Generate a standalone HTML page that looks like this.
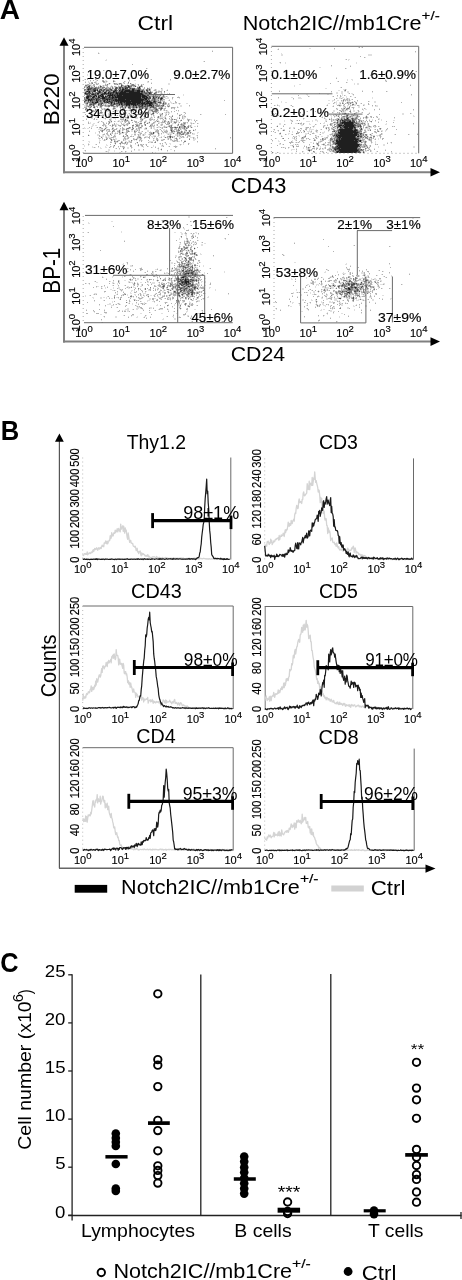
<!DOCTYPE html>
<html><head><meta charset="utf-8"><style>
html,body{margin:0;padding:0;background:#fff;overflow:hidden;}
svg{display:block;filter:grayscale(1);}
text{font-family:"Liberation Sans", sans-serif;}
.tk{stroke:#000;stroke-width:0.15px;}
</style></head><body>
<svg width="462" height="1280" viewBox="0 0 462 1280">
<rect width="462" height="1280" fill="#fff"/>
<line x1="84" y1="94.5" x2="147" y2="94.5" stroke="#6a6a6a" stroke-width="1"/>
<path fill="none" stroke="rgb(224,224,224)" stroke-width="1" d="M212 50.5h1m-115 2h1m0 1h1m6 6h1m-2 1h2m96 1h1m-57 7h1m-58 2h1m13 0h1m-18 4h1m-1 1h1m-1 3h1m20 0h1m19 0h1m47 0h1m-93 1h1m11 0h1m32 0h1m20 0h1m72 0h1m-128 1h1m8 0h2m7 0h1m19 0h2m34 0h1m-86 1h1m2 0h1m1 0h1m4 0h2m8 0h1m1 0h1m7 0h1m9 0h1m2 0h2m17 0h1m-60 1h2m6 0h1m8 0h2m6 0h1m10 0h1m22 0h2m2 0h1m-62 1h1m4 0h1m1 0h1m7 0h1m2 0h1m1 0h1m2 0h1m3 0h2m4 0h1m3 0h1m3 0h1m3 0h1m32 0h2m-85 1h2m2 0h3m6 0h1m7 0h1m1 0h2m8 0h1m1 0h1m1 0h1m4 0h1m2 0h1m3 0h2m1 0h1m4 0h1m25 0h2m-79 1h2m6 0h1m2 0h1m1 0h1m6 0h1m6 0h1m5 0h1m15 0h1m1 0h1m-53 1h1m1 0h2m2 0h1m2 0h1m2 0h1m1 0h1m1 0h1m3 0h1m5 0h1m15 0h1m3 0h3m-54 1h1m19 0h1m3 0h1m1 0h1m1 0h2m17 0h3m7 0h1m4 0h1m1 0h1m-66 1h1m19 0h1m6 0h1m2 0h1m13 0h1m14 0h1m6 0h2m10 0h1m-65 1h1m14 0h1m3 0h1m26 0h2m8 0h1m1 0h1m4 0h2m4 0h1m-23 1h1m7 0h1m2 0h1m1 0h2m1 0h2m3 0h1m-83 1h1m60 0h1m3 0h1m1 0h2m2 0h1m1 0h1m-4 1h1m2 0h1m1 0h2m-8 1h1m6 0h1m1 0h1m1 0h1m2 0h1m-20 1h1m3 0h1m2 0h1m8 0h1m2 0h1m15 0h1m-80 1h1m56 0h2m1 0h1m18 0h1m-99 1h1m74 0h2m3 0h1m1 0h1m10 0h1m-28 1h1m13 0h1m1 0h2m4 0h1m-23 1h1m11 0h1m1 0h4m10 0h1m-30 1h1m8 0h1m9 0h1m2 0h1m-14 1h1m3 0h2m3 0h1m-8 1h2m7 0h1m-5 1h1m3 0h2m-88 1h1m3 0h1m8 0h1m9 0h1m50 0h1m10 0h1m1 0h2m1 0h3m1 0h1m1 0h1m5 0h2m-103 1h1m10 0h2m4 0h1m1 0h1m1 0h4m48 0h1m1 0h1m5 0h2m1 0h1m9 0h1m-96 1h2m2 0h1m7 0h2m16 0h2m48 0h1m3 0h1m11 0h2m-98 1h2m9 0h1m3 0h1m2 0h1m1 0h1m5 0h1m7 0h2m3 0h1m40 0h1m12 0h1m2 0h2m7 0h1m-102 1h1m2 0h1m3 0h1m3 0h1m8 0h1m6 0h3m1 0h1m6 0h2m20 0h1m9 0h1m6 0h1m2 0h1m6 0h1m2 0h1m-92 1h1m2 0h1m3 0h2m6 0h2m1 0h2m5 0h1m22 0h1m1 0h2m9 0h1m2 0h2m4 0h1m5 0h1m8 0h2m-73 1h1m1 0h1m3 0h2m3 0h1m1 0h3m3 0h2m7 0h1m12 0h1m5 0h1m9 0h1m4 0h1m10 0h1m-90 1h3m4 0h1m1 0h1m1 0h1m1 0h1m5 0h1m1 0h1m10 0h2m8 0h2m6 0h2m3 0h1m12 0h1m7 0h1m1 0h1m1 0h1m1 0h1m-73 1h1m1 0h1m2 0h1m6 0h2m3 0h1m3 0h2m4 0h1m2 0h1m6 0h1m2 0h2m1 0h1m2 0h1m2 0h2m1 0h1m1 0h3m6 0h1m7 0h3m9 0h1m-94 1h1m4 0h1m8 0h1m24 0h1m1 0h1m3 0h1m2 0h1m3 0h1m1 0h1m7 0h1m1 0h2m1 0h1m1 0h1m2 0h1m6 0h2m1 0h1m1 0h1m1 0h1m11 0h1m1 0h1m-97 1h1m12 0h1m5 0h1m1 0h1m11 0h1m1 0h3m1 0h1m9 0h1m1 0h1m2 0h2m4 0h3m2 0h1m1 0h1m2 0h3m3 0h2m1 0h2m-71 1h1m2 0h2m4 0h2m1 0h3m5 0h2m6 0h1m1 0h1m1 0h1m4 0h1m4 0h1m5 0h1m2 0h1m8 0h1m5 0h1m11 0h1m1 0h2m3 0h1m16 0h1m-94 1h1m1 0h1m5 0h1m11 0h2m1 0h3m3 0h1m2 0h1m1 0h1m8 0h1m2 0h1m6 0h2m3 0h1m15 0h3m-90 1h2m14 0h1m10 0h1m1 0h2m6 0h1m2 0h2m4 0h1m1 0h1m4 0h1m2 0h1m1 0h2m2 0h1m1 0h1m1 0h2m1 0h2m4 0h2m7 0h1m3 0h1m-93 1h2m2 0h2m1 0h1m11 0h1m10 0h2m1 0h1m3 0h1m1 0h3m2 0h3m1 0h1m5 0h1m4 0h1m1 0h1m6 0h6m5 0h1m6 0h1m5 0h3m-100 1h1m4 0h2m10 0h2m5 0h2m1 0h3m4 0h3m2 0h2m8 0h3m4 0h2m1 0h1m3 0h1m1 0h2m4 0h3m4 0h1m1 0h1m5 0h1m4 0h1m5 0h2m2 0h1m-95 1h1m3 0h1m7 0h1m5 0h1m3 0h1m8 0h1m1 0h2m3 0h1m11 0h1m9 0h1m6 0h1m1 0h1m2 0h2m2 0h2m2 0h1m7 0h1m1 0h1m6 0h2m2 0h1m-86 1h1m1 0h1m6 0h2m1 0h3m4 0h1m5 0h1m5 0h1m4 0h2m2 0h1m1 0h1m1 0h2m2 0h2m3 0h2m6 0h1m1 0h1m4 0h2m8 0h1m1 0h1m1 0h1m5 0h1m-110 1h1m9 0h2m2 0h1m7 0h1m4 0h1m1 0h1m1 0h3m5 0h1m1 0h1m9 0h1m4 0h1m1 0h1m2 0h1m4 0h1m1 0h1m2 0h1m3 0h1m2 0h2m1 0h2m1 0h2m1 0h1m1 0h2m1 0h1m-91 1h1m6 0h1m4 0h1m3 0h1m1 0h1m1 0h2m8 0h2m2 0h1m12 0h1m2 0h2m5 0h2m6 0h1m2 0h3m4 0h1m4 0h1m2 0h1m4 0h1m7 0h1m3 0h2m3 0h1m-107 1h2m2 0h2m9 0h1m11 0h1m6 0h2m1 0h1m9 0h2m8 0h1m1 0h2m1 0h1m2 0h1m4 0h1m1 0h2m9 0h3m3 0h1m3 0h1m4 0h1m2 0h1m1 0h1m1 0h1m3 0h1m-107 1h2m11 0h1m7 0h1m1 0h4m2 0h1m2 0h2m2 0h1m4 0h1m4 0h1m1 0h2m8 0h1m3 0h1m1 0h1m3 0h1m8 0h1m1 0h2m4 0h1m7 0h1m5 0h1m-100 1h2m1 0h2m7 0h1m1 0h1m2 0h1m4 0h1m1 0h1m4 0h1m3 0h2m17 0h1m8 0h1m2 0h1m3 0h1m1 0h1m1 0h1m3 0h1m3 0h1m7 0h1m8 0h1m1 0h1m5 0h1m-107 1h2m10 0h1m2 0h1m4 0h1m4 0h1m2 0h1m4 0h1m8 0h1m5 0h1m12 0h1m1 0h1m3 0h2m3 0h1m1 0h3m6 0h2m1 0h1m11 0h1m1 0h1m2 0h2m-112 1h1m6 0h1m4 0h1m4 0h1m3 0h1m1 0h1m4 0h2m14 0h1m4 0h1m1 0h1m9 0h2m3 0h1m2 0h2m1 0h1m1 0h2m1 0h1m1 0h1m3 0h1m1 0h1m8 0h1m11 0h1m1 0h1m-109 1h2m1 0h2m10 0h2m3 0h1m1 0h1m10 0h1m6 0h1m5 0h1m6 0h1m2 0h2m2 0h1m5 0h1m2 0h2m6 0h1m12 0h1m6 0h1m3 0h1m-88 1h6m1 0h2m4 0h1m1 0h1m5 0h2m4 0h1m1 0h2m4 0h1m1 0h1m1 0h2m5 0h3m7 0h3m2 0h1m3 0h2m1 0h1m10 0h1m1 0h1m1 0h1m1 0h1m2 0h1m6 0h1m-105 1h1m14 0h1m2 0h2m3 0h1m4 0h2m1 0h1m2 0h1m7 0h2m2 0h2m1 0h1m8 0h2m6 0h1m7 0h3m1 0h1m6 0h1m6 0h1m2 0h1m3 0h1m5 0h2m-98 1h1m7 0h2m2 0h1m9 0h1m1 0h1m8 0h2m5 0h2m1 0h1m5 0h2m1 0h1m10 0h1m13 0h1m3 0h2m4 0h2m1 0h1m1 0h1m-96 1h1m6 0h1m8 0h1m3 0h1m1 0h2m1 0h2m2 0h2m14 0h2m4 0h1m5 0h1m2 0h2m5 0h1m1 0h1m2 0h1m1 0h2m2 0h2m8 0h1m2 0h1m2 0h1m1 0h1m5 0h2m-104 1h1m3 0h1m4 0h1m6 0h1m2 0h1m1 0h1m4 0h3m1 0h1m8 0h2m3 0h1m4 0h2m3 0h1m4 0h1m2 0h1m1 0h1m3 0h1m2 0h7m1 0h1m1 0h1m4 0h1m3 0h1m3 0h1m3 0h2m2 0h1m-110 1h1m8 0h2m3 0h1m3 0h1m1 0h1m2 0h1m2 0h2m4 0h1m10 0h2m4 0h1m1 0h1m2 0h1m1 0h2m2 0h1m4 0h1m5 0h1m1 0h1m5 0h1m1 0h1m1 0h1m3 0h2m1 0h1m5 0h1m3 0h1m3 0h3m-106 1h1m7 0h2m3 0h2m1 0h1m1 0h1m1 0h1m5 0h1m15 0h1m2 0h2m3 0h2m1 0h1m1 0h1m4 0h1m3 0h3m3 0h1m4 0h1m4 0h1m5 0h2m1 0h1m1 0h2m5 0h1m2 0h1m5 0h1m-97 1h4m1 0h2m1 0h2m12 0h1m1 0h1m1 0h1m1 0h1m3 0h1m4 0h1m2 0h1m4 0h3m3 0h3m3 0h2m2 0h1m1 0h2m8 0h1m4 0h2m1 0h1m6 0h1m1 0h1m6 0h1m-100 1h1m3 0h1m2 0h1m1 0h4m3 0h2m9 0h1m1 0h1m1 0h1m11 0h1m4 0h2m4 0h1m1 0h1m1 0h1m2 0h2m3 0h1m1 0h1m1 0h1m2 0h1m1 0h2m1 0h1m2 0h2m1 0h1m1 0h1m1 0h1m3 0h3m1 0h1m-97 1h1m1 0h1m10 0h1m1 0h1m1 0h2m6 0h1m2 0h1m7 0h1m1 0h1m1 0h2m4 0h1m9 0h1m12 0h1m1 0h1m4 0h1m2 0h1m2 0h1m13 0h2m1 0h1m32 0h1m-132 1h1m2 0h1m2 0h1m1 0h1m4 0h1m2 0h2m7 0h1m1 0h2m9 0h1m1 0h1m1 0h1m11 0h1m4 0h1m2 0h2m4 0h1m6 0h1m18 0h3m-97 1h2m2 0h1m1 0h1m6 0h1m2 0h1m1 0h1m6 0h2m2 0h2m2 0h1m1 0h1m1 0h1m3 0h1m1 0h1m11 0h1m1 0h1m1 0h1m4 0h1m6 0h2m1 0h1m10 0h2m7 0h2m-107 1h2m9 0h1m10 0h2m6 0h1m3 0h1m2 0h2m1 0h1m1 0h1m8 0h1m9 0h4m4 0h1m14 0h1m2 0h2m1 0h2m1 0h1m-93 1h1m24 0h1m1 0h2m2 0h1m3 0h1m1 0h1m1 0h2m6 0h1m12 0h2m13 0h1m19 0h1m12 0h1m-110 1h1m10 0h1m14 0h1m6 0h1m4 0h1m10 0h1m21 0h1m5 0h2m2 0h2m12 0h1m5 0h1m-101 1h1m5 0h1m10 0h1m8 0h1m8 0h1m2 0h1m2 0h1m4 0h1m6 0h1m2 0h1m14 0h1m1 0h1m7 0h1m8 0h1m1 0h1m1 0h1m-100 1h1m3 0h1m17 0h2m5 0h1m6 0h1m16 0h1m2 0h1m12 0h1m7 0h1m1 0h1m11 0h1m4 0h1m-97 1h1m7 0h1m12 0h1m5 0h1m2 0h1m6 0h1m2 0h1m13 0h1m2 0h1m1 0h1m4 0h1m4 0h1m1 0h1m5 0h2m5 0h1m4 0h1m3 0h1m-86 1h2m1 0h1m2 0h1m1 0h1m4 0h2m3 0h1m7 0h1m3 0h1m4 0h2m3 0h1m10 0h1m8 0h1m5 0h1m17 0h1m-77 1h2m13 0h1m8 0h1m2 0h2m2 0h1m25 0h1m3 0h1m-54 1h2m9 0h1m3 0h1m14 0h2m18 0h1m1 0h1m9 0h2m43 0h1m-132 1h1m23 0h2m4 0h1m16 0h1m2 0h1m3 0h2m3 0h1m14 0h1m2 0h1m-77 1h1m19 0h1m1 0h2m5 0h1m7 0h1m3 0h1m40 0h1m6 0h1m-67 1h1m10 0h2m4 0h1m29 0h1"/>
<path fill="none" stroke="rgb(178,178,178)" stroke-width="1" d="M212 51.5h1m-115 2h1m105 8h1m-73 3h1m13 4h1m-56 2h1m11 0h1m-2 7h1m73 0h1m-88 1h1m19 0h1m-25 1h1m1 0h1m7 0h1m32 0h1m22 0h1m18 0h1m51 0h1m-133 1h1m2 0h1m3 0h1m4 0h2m9 0h1m15 0h1m-28 1h1m1 0h1m1 0h1m7 0h1m9 0h1m23 0h1m-64 1h1m5 0h2m1 0h2m7 0h2m18 0h1m-35 1h1m1 0h1m4 0h1m1 0h1m16 0h2m4 0h1m2 0h1m3 0h1m22 0h1m-65 1h2m4 0h2m1 0h2m7 0h1m8 0h3m2 0h1m11 0h1m6 0h1m2 0h1m1 0h1m-57 1h2m1 0h1m2 0h2m5 0h1m2 0h1m1 0h3m15 0h1m1 0h2m2 0h2m4 0h1m2 0h1m-55 1h4m3 0h1m6 0h1m4 0h1m3 0h1m3 0h2m1 0h2m2 0h3m1 0h2m3 0h1m5 0h2m7 0h1m-57 1h1m3 0h1m2 0h2m2 0h1m1 0h1m1 0h1m4 0h3m1 0h1m7 0h1m12 0h1m8 0h1m3 0h1m6 0h1m-66 1h1m12 0h3m1 0h1m3 0h2m4 0h1m4 0h1m2 0h1m13 0h2m7 0h1m3 0h2m11 0h1m-76 1h1m15 0h1m9 0h1m28 0h2m5 0h1m1 0h1m4 0h1m-71 1h2m11 0h1m6 0h1m12 0h1m25 0h1m3 0h1m1 0h1m3 0h2m11 0h1m-83 1h1m15 0h1m2 0h1m2 0h1m3 0h2m4 0h1m28 0h1m1 0h1m7 0h1m1 0h4m-78 1h1m2 0h1m3 0h1m1 0h2m8 0h1m3 0h1m44 0h1m5 0h1m2 0h1m2 0h1m-9 1h1m4 0h1m7 0h1m-86 1h1m5 0h1m8 0h1m49 0h1m3 0h1m3 0h2m1 0h1m1 0h2m-80 1h1m1 0h1m10 0h1m8 0h1m42 0h4m1 0h1m1 0h4m-63 1h1m6 0h1m46 0h1m6 0h1m3 0h1m1 0h1m1 0h1m-82 1h1m5 0h1m60 0h1m4 0h1m2 0h1m2 0h2m7 0h1m4 0h3m-95 1h1m70 0h2m1 0h1m12 0h1m-72 1h1m49 0h1m4 0h3m3 0h3m-81 1h1m65 0h1m5 0h2m3 0h2m6 0h1m54 0h1m-139 1h2m1 0h1m12 0h1m49 0h1m4 0h3m3 0h2m10 0h1m-91 1h2m12 0h1m3 0h1m11 0h1m40 0h2m3 0h1m2 0h2m9 0h2m-92 1h1m3 0h1m13 0h4m50 0h1m1 0h1m1 0h2m1 0h1m1 0h1m1 0h1m4 0h1m5 0h1m-94 1h2m7 0h1m7 0h1m1 0h1m48 0h2m3 0h1m2 0h1m1 0h2m2 0h1m-83 1h2m3 0h2m1 0h1m4 0h1m3 0h2m1 0h2m12 0h1m33 0h1m5 0h1m6 0h1m1 0h1m19 0h1m-104 1h2m1 0h2m2 0h1m2 0h2m7 0h3m3 0h2m2 0h2m3 0h1m3 0h1m2 0h1m3 0h1m5 0h1m16 0h2m3 0h3m1 0h1m1 0h1m1 0h1m1 0h1m-86 1h3m2 0h1m7 0h1m2 0h2m11 0h2m6 0h1m1 0h2m6 0h1m6 0h1m5 0h1m4 0h1m6 0h1m2 0h2m1 0h1m8 0h4m2 0h1m-93 1h1m3 0h1m11 0h1m2 0h1m3 0h1m6 0h1m4 0h1m1 0h1m1 0h2m2 0h1m3 0h1m1 0h1m1 0h1m6 0h2m4 0h2m2 0h1m4 0h1m5 0h2m5 0h1m2 0h1m-89 1h2m2 0h1m5 0h1m5 0h1m1 0h3m6 0h1m8 0h1m1 0h1m5 0h4m2 0h1m2 0h2m6 0h1m1 0h6m9 0h1m-72 1h1m1 0h1m4 0h2m3 0h1m2 0h1m7 0h1m5 0h1m2 0h2m2 0h2m2 0h2m4 0h1m8 0h3m3 0h1m3 0h1m1 0h1m3 0h1m1 0h1m9 0h1m1 0h1m-93 1h1m5 0h3m6 0h1m11 0h1m1 0h1m15 0h1m1 0h1m5 0h1m2 0h1m14 0h1m13 0h1m2 0h1m-91 1h1m4 0h1m12 0h1m20 0h1m1 0h1m14 0h1m1 0h1m1 0h2m9 0h2m1 0h1m7 0h1m1 0h1m15 0h1m-86 1h3m13 0h1m7 0h1m5 0h1m1 0h1m1 0h1m7 0h2m2 0h2m10 0h1m19 0h1m7 0h1m-101 1h1m38 0h1m5 0h1m6 0h2m1 0h1m4 0h2m1 0h1m3 0h2m6 0h3m3 0h1m1 0h1m12 0h1m18 0h1m24 0h1m-125 1h3m7 0h1m5 0h1m1 0h3m5 0h1m2 0h1m5 0h1m4 0h1m2 0h1m8 0h1m11 0h1m6 0h1m7 0h1m-73 1h1m12 0h1m6 0h1m1 0h2m2 0h1m5 0h1m4 0h1m14 0h1m8 0h1m12 0h1m1 0h2m-89 1h1m5 0h1m7 0h1m2 0h2m9 0h3m6 0h1m5 0h1m3 0h1m3 0h1m2 0h1m2 0h1m2 0h1m7 0h1m5 0h1m7 0h1m2 0h1m-89 1h1m10 0h1m17 0h1m3 0h2m11 0h2m2 0h1m5 0h1m9 0h3m6 0h1m1 0h1m10 0h1m-97 1h1m7 0h1m1 0h1m12 0h2m9 0h4m16 0h2m7 0h4m1 0h1m2 0h1m5 0h1m7 0h1m3 0h2m10 0h3m-80 1h1m13 0h1m1 0h1m5 0h1m8 0h2m7 0h1m5 0h1m7 0h2m5 0h1m4 0h1m3 0h1m13 0h1m1 0h1m-96 1h1m6 0h2m4 0h1m3 0h1m3 0h1m1 0h3m1 0h1m5 0h3m3 0h2m3 0h1m9 0h1m2 0h1m3 0h1m2 0h1m5 0h1m2 0h1m1 0h1m11 0h1m6 0h1m-108 1h1m9 0h1m4 0h1m21 0h1m2 0h2m2 0h1m2 0h2m1 0h1m6 0h1m7 0h2m6 0h4m2 0h3m1 0h1m4 0h1m2 0h1m3 0h3m1 0h1m-100 1h1m14 0h1m2 0h1m1 0h2m4 0h1m6 0h1m5 0h2m10 0h1m4 0h1m7 0h2m4 0h1m6 0h1m1 0h2m6 0h1m5 0h1m1 0h1m1 0h1m5 0h1m1 0h1m3 0h1m-95 1h2m3 0h1m3 0h1m1 0h1m7 0h2m2 0h2m7 0h3m1 0h1m4 0h1m6 0h2m4 0h1m3 0h2m3 0h3m11 0h1m1 0h3m-83 1h2m1 0h1m4 0h1m2 0h1m1 0h1m2 0h3m2 0h1m3 0h1m10 0h2m1 0h2m8 0h2m1 0h1m2 0h1m3 0h1m7 0h2m6 0h2m2 0h2m1 0h1m3 0h1m1 0h1m-86 1h1m6 0h1m2 0h1m4 0h1m11 0h1m2 0h4m2 0h2m6 0h3m1 0h1m10 0h1m3 0h1m1 0h1m9 0h4m3 0h1m2 0h1m6 0h1m-109 1h1m7 0h1m1 0h1m6 0h1m15 0h1m7 0h1m7 0h2m1 0h1m9 0h1m5 0h1m2 0h1m1 0h1m1 0h2m7 0h1m6 0h4m1 0h3m-97 1h1m9 0h2m10 0h1m2 0h1m3 0h1m1 0h2m2 0h1m2 0h1m2 0h1m3 0h1m1 0h2m5 0h1m5 0h1m10 0h1m7 0h1m1 0h1m2 0h2m1 0h3m1 0h2m3 0h1m-81 1h3m2 0h1m1 0h3m5 0h3m6 0h1m4 0h1m2 0h1m17 0h1m2 0h1m9 0h1m1 0h1m1 0h3m3 0h1m3 0h2m9 0h1m-96 1h2m1 0h1m2 0h1m2 0h1m4 0h1m7 0h1m3 0h3m5 0h1m2 0h1m1 0h1m16 0h3m2 0h1m4 0h1m3 0h1m1 0h2m2 0h2m7 0h1m4 0h1m-102 1h1m9 0h1m1 0h1m6 0h2m3 0h2m2 0h2m7 0h2m1 0h1m5 0h2m5 0h1m12 0h4m3 0h1m1 0h4m5 0h1m2 0h3m3 0h1m1 0h1m-86 1h1m7 0h1m4 0h1m10 0h1m2 0h2m6 0h2m2 0h2m5 0h1m3 0h3m2 0h1m2 0h2m4 0h1m1 0h2m4 0h2m7 0h1m1 0h1m2 0h1m-80 1h2m2 0h1m1 0h1m2 0h1m1 0h1m1 0h2m5 0h1m13 0h2m8 0h1m1 0h1m8 0h1m16 0h1m3 0h1m1 0h1m1 0h1m3 0h1m1 0h1m-90 1h2m2 0h1m11 0h1m5 0h2m7 0h2m2 0h1m1 0h1m2 0h1m5 0h4m5 0h1m9 0h1m1 0h1m6 0h1m1 0h2m4 0h3m-89 1h1m8 0h1m2 0h1m2 0h1m8 0h1m2 0h1m11 0h1m4 0h1m6 0h1m7 0h1m11 0h1m6 0h1m1 0h1m5 0h1m2 0h2m7 0h1m-99 1h1m13 0h3m9 0h1m1 0h1m2 0h2m1 0h1m4 0h2m9 0h1m4 0h2m11 0h2m2 0h2m1 0h1m2 0h1m2 0h1m1 0h2m3 0h1m1 0h1m-84 1h1m4 0h3m10 0h1m3 0h1m8 0h2m5 0h2m2 0h2m11 0h1m5 0h1m1 0h1m11 0h1m1 0h1m3 0h1m5 0h1m3 0h1m32 0h1m-132 1h1m2 0h1m3 0h2m1 0h2m13 0h2m1 0h2m4 0h1m3 0h1m2 0h2m7 0h1m3 0h1m2 0h2m10 0h1m1 0h1m4 0h1m3 0h1m9 0h1m3 0h1m-90 1h1m5 0h1m2 0h2m8 0h1m1 0h1m7 0h3m4 0h1m15 0h2m5 0h2m3 0h1m1 0h2m4 0h2m-74 1h1m9 0h1m3 0h2m3 0h1m15 0h1m1 0h1m6 0h1m4 0h1m7 0h2m9 0h1m1 0h4m3 0h1m-67 1h2m4 0h1m7 0h1m1 0h1m9 0h1m13 0h1m17 0h2m2 0h1m19 0h1m-99 1h1m10 0h2m3 0h1m6 0h1m4 0h1m2 0h2m16 0h1m2 0h2m1 0h1m10 0h1m17 0h1m-65 1h1m2 0h4m1 0h1m7 0h1m24 0h1m1 0h1m25 0h1m-101 1h1m7 0h1m13 0h1m9 0h1m5 0h1m11 0h1m1 0h2m1 0h1m2 0h1m19 0h1m13 0h1m7 0h1m-59 1h2m9 0h2m3 0h1m15 0h1m-65 1h1m11 0h1m2 0h1m4 0h1m1 0h1m1 0h2m6 0h2m10 0h1m4 0h1m15 0h1m5 0h1m4 0h3m-83 1h1m14 0h1m3 0h1m9 0h2m6 0h1m19 0h1m3 0h1m19 0h1m-60 1h1m2 0h1m38 0h1m56 0h1m-82 1h1m8 0h1m-59 1h1m81 0h1m6 0h1m-69 1h1m14 0h1m3 0h1m5 0h1m20 1h1"/>
<path fill="none" stroke="rgb(128,128,128)" stroke-width="1" d="M103 81.5h1m9 0h1m14 1h1m-37 1h1m16 0h1m4 0h1m4 0h2m9 0h1m-24 1h1m9 0h1m3 0h1m10 0h2m-49 1h2m2 0h1m32 0h1m4 0h1m3 0h4m6 0h1m-48 1h1m6 0h1m22 0h1m1 0h1m3 0h2m7 0h3m-58 1h1m3 0h1m2 0h2m2 0h2m1 0h1m1 0h1m1 0h3m7 0h1m2 0h1m1 0h1m3 0h1m1 0h2m5 0h1m6 0h2m-52 1h1m4 0h2m2 0h3m3 0h1m2 0h2m2 0h2m1 0h1m4 0h1m6 0h1m4 0h1m1 0h1m5 0h1m2 0h1m6 0h1m-64 1h2m5 0h2m3 0h1m2 0h1m3 0h1m1 0h5m4 0h1m3 0h2m1 0h1m8 0h2m3 0h3m2 0h1m2 0h1m2 0h2m-64 1h1m2 0h1m1 0h4m3 0h1m3 0h1m1 0h1m1 0h1m4 0h2m1 0h2m3 0h1m22 0h2m1 0h1m5 0h1m-60 1h3m4 0h1m4 0h1m2 0h1m2 0h1m1 0h1m7 0h1m24 0h1m6 0h1m13 0h1m-79 1h1m3 0h1m4 0h3m3 0h2m3 0h1m33 0h1m2 0h1m1 0h3m3 0h1m3 0h2m-73 1h1m6 0h1m2 0h1m1 0h1m2 0h3m12 0h1m28 0h2m2 0h2m2 0h1m3 0h1m-71 1h1m2 0h1m7 0h1m3 0h1m4 0h1m1 0h1m36 0h4m3 0h1m2 0h1m1 0h1m4 0h1m-71 1h3m11 0h1m40 0h1m6 0h1m1 0h1m4 0h1m2 0h1m-72 1h1m2 0h1m12 0h1m2 0h1m35 0h2m1 0h1m1 0h1m1 0h4m1 0h1m3 0h1m-80 1h1m4 0h2m4 0h3m2 0h2m5 0h1m33 0h1m6 0h1m5 0h2m3 0h1m2 0h1m-79 1h1m4 0h2m3 0h1m4 0h1m17 0h1m34 0h1m2 0h1m-72 1h4m7 0h1m4 0h1m46 0h1m1 0h1m2 0h2m1 0h1m-69 1h1m5 0h3m3 0h1m1 0h2m3 0h1m1 0h1m1 0h1m37 0h1m2 0h3m1 0h1m2 0h1m1 0h1m-76 1h1m5 0h1m1 0h3m2 0h2m1 0h1m3 0h1m7 0h1m29 0h2m6 0h1m4 0h1m3 0h1m-77 1h1m2 0h5m2 0h1m3 0h1m1 0h3m6 0h1m3 0h1m2 0h2m45 0h1m-78 1h1m3 0h3m3 0h1m1 0h3m7 0h3m1 0h2m1 0h1m7 0h1m29 0h2m1 0h1m3 0h1m4 0h1m-77 1h1m2 0h1m1 0h1m4 0h2m9 0h1m1 0h1m2 0h4m1 0h1m2 0h1m24 0h1m4 0h1m2 0h2m5 0h1m-75 1h2m7 0h1m1 0h3m2 0h1m2 0h3m2 0h1m2 0h4m1 0h1m1 0h3m4 0h3m4 0h1m2 0h1m2 0h2m1 0h1m5 0h1m2 0h5m1 0h2m-75 1h1m2 0h1m2 0h1m5 0h2m6 0h2m3 0h2m2 0h1m3 0h1m3 0h2m1 0h1m1 0h1m1 0h1m1 0h2m2 0h1m4 0h1m2 0h1m1 0h3m5 0h3m3 0h1m5 0h1m-79 1h1m2 0h1m26 0h1m1 0h1m7 0h1m1 0h1m1 0h2m1 0h1m2 0h2m1 0h1m1 0h3m3 0h2m1 0h2m5 0h1m-76 1h1m20 0h1m5 0h2m8 0h1m5 0h2m2 0h1m5 0h3m3 0h1m1 0h1m6 0h3m2 0h2m1 0h1m-78 1h1m3 0h1m5 0h1m45 0h1m3 0h2m8 0h1m1 0h1m2 0h2m-65 1h1m17 0h1m15 0h2m8 0h1m9 0h2m2 0h3m-10 1h1m3 0h5m-57 1h2m29 0h1m6 0h1m2 0h1m6 0h1m4 0h1m-43 1h1m40 0h1m9 0h1m-12 1h1m-7 1h1m14 0h1m18 0h1m-36 1h1m13 0h1m13 0h1m-15 1h1m6 1h1m13 0h1m-38 1h1m29 0h1m1 0h1m-50 1h1m1 0h1m3 0h1m49 0h1m6 0h1m-78 1h1m45 0h1m6 0h1m3 0h1m-60 1h1m34 0h1m4 0h1m24 0h2m-47 1h1m10 0h2m5 0h1m21 0h1m14 0h1m-40 1h1m32 0h1m2 0h1m-70 1h1m11 0h1m7 0h2m2 0h2m7 0h1m4 0h1m20 0h1m11 0h1m-15 1h1m1 0h1m7 0h1m5 0h1m2 0h1m-89 1h1m28 0h1m2 0h1m7 0h1m25 0h1m3 0h3m1 0h1m1 0h2m6 0h1m3 0h1m2 0h1m-87 1h1m6 0h1m14 0h2m4 0h1m12 0h1m24 0h1m12 0h1m1 0h1m-83 1h1m21 0h1m5 0h1m38 0h1m6 0h1m-77 1h1m10 0h1m5 0h1m58 0h2m6 0h1m2 0h1m3 0h1m-92 1h1m9 0h1m6 0h1m8 0h1m5 0h1m36 0h2m1 0h1m6 0h1m7 0h1m-71 1h1m57 0h3m1 0h1m2 0h1m2 0h2m1 0h1m-40 1h1m6 0h1m14 0h1m3 0h1m1 0h2m2 0h1m3 0h2m-79 1h1m70 0h3m-96 1h1m38 0h1m-5 1h1m45 0h1m-69 1h1m37 0h2m24 0h1m6 0h1m3 1h1m-71 1h1m4 0h1m24 0h1m52 0h1m-79 1h1m19 0h1m25 0h1m-44 1h1m2 0h1m66 0h2m-65 1h1m3 0h1m11 0h1m17 0h1m-41 1h1m4 0h1m-7 2h1m23 0h1m-16 3h1m37 1h1"/>
<path fill="none" stroke="rgb(77,77,77)" stroke-width="1" d="M121 85.5h1m6 0h1m-41 1h2m10 0h1m20 0h1m3 0h1m3 0h1m5 0h1m-49 1h1m1 0h1m26 0h1m2 0h2m1 0h1m2 0h5m-42 1h4m2 0h2m19 0h2m2 0h2m1 0h2m2 0h2m2 0h1m1 0h3m3 0h2m-53 1h1m1 0h2m2 0h3m1 0h1m2 0h2m2 0h1m5 0h2m3 0h2m3 0h1m3 0h6m4 0h1m3 0h2m9 0h1m-62 1h1m4 0h1m5 0h1m1 0h1m1 0h1m2 0h3m2 0h1m2 0h1m1 0h1m3 0h2m1 0h2m5 0h2m2 0h3m5 0h1m3 0h2m-62 1h1m1 0h1m4 0h1m1 0h1m2 0h1m1 0h1m2 0h1m2 0h1m2 0h1m5 0h2m2 0h2m2 0h1m10 0h3m3 0h1m3 0h1m2 0h1m-63 1h1m2 0h1m3 0h1m5 0h1m1 0h1m8 0h4m1 0h2m1 0h3m6 0h3m12 0h2m1 0h1m3 0h3m-65 1h5m1 0h2m1 0h1m6 0h2m2 0h2m1 0h1m1 0h3m1 0h1m2 0h1m23 0h1m2 0h2m3 0h1m3 0h1m-69 1h2m1 0h1m1 0h1m2 0h2m1 0h2m4 0h2m1 0h1m1 0h2m1 0h1m1 0h4m1 0h1m24 0h1m6 0h1m-64 1h4m3 0h1m1 0h1m1 0h2m1 0h1m1 0h1m3 0h1m5 0h1m1 0h2m5 0h1m18 0h1m3 0h1m1 0h2m-63 1h1m2 0h3m7 0h2m5 0h2m2 0h1m2 0h2m1 0h1m24 0h1m7 0h1m3 0h1m-60 1h1m10 0h2m1 0h1m1 0h2m2 0h1m30 0h1m3 0h2m5 0h1m1 0h1m2 0h1m-76 1h1m1 0h1m2 0h3m1 0h4m1 0h2m3 0h7m1 0h4m24 0h3m3 0h4m2 0h2m3 0h1m1 0h1m1 0h1m-73 1h1m1 0h3m2 0h3m2 0h4m2 0h1m1 0h5m2 0h1m7 0h1m18 0h1m3 0h1m5 0h1m5 0h2m-77 1h2m2 0h1m1 0h2m4 0h2m1 0h1m2 0h1m1 0h1m3 0h1m1 0h2m1 0h1m15 0h1m12 0h4m2 0h1m4 0h1m-71 1h1m3 0h1m1 0h1m1 0h1m3 0h1m3 0h1m2 0h1m2 0h3m1 0h3m1 0h2m1 0h1m1 0h1m21 0h1m3 0h1m4 0h1m2 0h1m1 0h1m-63 1h1m10 0h3m1 0h1m1 0h1m1 0h1m1 0h1m4 0h1m2 0h2m1 0h1m5 0h1m9 0h1m1 0h1m1 0h2m2 0h1m2 0h4m2 0h3m-74 1h1m5 0h3m5 0h2m13 0h5m1 0h1m1 0h2m10 0h1m3 0h1m4 0h1m6 0h1m2 0h1m7 0h1m-74 1h2m1 0h1m4 0h1m2 0h1m9 0h1m1 0h2m7 0h1m1 0h2m4 0h1m5 0h1m1 0h4m1 0h2m1 0h2m3 0h2m-60 1h1m17 0h2m9 0h1m4 0h2m5 0h1m1 0h1m1 0h2m1 0h1m3 0h1m1 0h2m4 0h1m9 0h1m-42 1h1m6 0h1m3 0h1m2 0h1m2 0h4m1 0h2m1 0h1m3 0h3m-60 1h1m30 0h1m2 0h2m3 0h1m5 0h1m2 0h1m7 0h1m2 0h1m-12 1h1m3 0h1m14 0h1m-6 1h1m-4 4h1m-29 6h1m58 7h1m-10 1h1m3 0h1m-9 3h1m-50 2h1m30 0h1m-1 1h1m16 3h1m-1 1h1"/>
<path fill="none" stroke="rgb(31,31,31)" stroke-width="1" d="M128 86.5h1m10 1h1m-15 1h1m-38 1h1m33 0h2m8 0h2m-40 1h2m1 0h1m17 0h1m3 0h1m2 0h1m2 0h5m2 0h2m3 0h3m-53 1h1m1 0h1m4 0h1m4 0h1m13 0h2m6 0h2m1 0h10m3 0h3m1 0h2m-54 1h1m9 0h1m4 0h2m2 0h1m4 0h1m2 0h1m3 0h6m3 0h11m-55 1h1m11 0h2m5 0h2m2 0h1m1 0h1m5 0h2m1 0h23m7 0h1m-58 1h2m7 0h2m7 0h1m1 0h1m4 0h1m1 0h24m-48 1h1m4 0h1m1 0h1m5 0h5m1 0h1m2 0h5m1 0h18m1 0h3m-58 1h2m4 0h2m1 0h1m1 0h1m2 0h3m1 0h1m3 0h1m2 0h1m2 0h1m1 0h24m1 0h5m-61 1h3m3 0h2m4 0h2m2 0h3m4 0h1m2 0h2m1 0h26m1 0h3m1 0h2m5 0h1m-67 1h1m14 0h3m7 0h1m5 0h23m3 0h3m14 0h1m-74 1h2m1 0h1m4 0h1m9 0h2m1 0h1m5 0h2m1 0h7m1 0h18m1 0h2m-59 1h1m1 0h1m5 0h1m7 0h1m2 0h1m5 0h1m1 0h15m1 0h12m4 0h1m-51 1h1m6 0h1m4 0h1m6 0h1m1 0h1m1 0h21m1 0h1m3 0h4m4 0h1m-63 1h1m2 0h3m9 0h1m3 0h1m6 0h1m1 0h2m2 0h1m1 0h5m1 0h9m1 0h1m1 0h1m2 0h2m1 0h2m-41 1h1m2 0h1m6 0h1m4 0h10m1 0h3m1 0h4m1 0h6m-33 1h1m1 0h1m4 0h4m1 0h5m1 0h1m4 0h1m2 0h1m3 0h2m-25 1h1m2 0h1m3 0h1m1 0h1m6 0h1m6 0h3m-16 2h1"/>
<path fill="none" stroke="rgb(224,224,224)" stroke-width="1" d="M358 47.5h1m2 0h1m-84 1h1m30 0h2m-34 1h1m56 0h1m80 3h1m-135 1h1m-1 1h2m85 0h4m-91 1h2m85 0h4m-7 2h1m-21 2h1m2 0h2m-2 1h1m-70 2h1m5 0h1m70 0h1m-77 1h1m4 0h1m70 0h1m-7 2h1m-20 1h1m-13 1h2m25 1h1m-61 1h1m-1 1h1m-12 1h1m86 0h1m52 0h1m-54 1h2m21 1h1m-16 1h1m14 0h1m-50 3h1m65 0h1m-1 1h1m-56 1h1m3 0h2m32 0h1m-39 1h1m4 0h1m33 0h1m-50 1h1m47 0h1m-39 1h1m6 1h1m2 0h2m-60 1h2m53 0h1m2 0h2m51 0h1m-117 1h1m-1 1h1m45 1h1m-16 1h2m16 1h2m1 0h1m-68 1h1m58 0h2m22 0h1m-22 1h2m1 0h2m1 0h2m38 0h1m-57 1h1m4 0h2m3 0h2m4 0h2m23 0h1m-37 1h2m3 0h2m5 0h1m2 0h2m-47 1h2m19 0h2m13 0h1m9 0h1m-46 1h1m34 0h1m2 0h1m7 0h1m57 0h1m-103 1h1m22 0h1m4 0h1m3 0h1m4 0h1m4 0h1m-61 1h2m5 0h3m38 0h2m1 0h2m2 0h1m7 0h1m17 0h1m-95 1h1m19 0h4m35 0h1m1 0h2m1 0h1m1 0h1m1 0h1m1 0h2m22 0h1m-80 1h1m51 0h1m2 0h1m2 0h1m-24 1h2m2 0h3m2 0h2m3 0h1m1 0h1m1 0h1m1 0h1m1 0h1m-70 1h1m50 0h1m3 0h1m4 0h2m2 0h1m1 0h3m2 0h1m2 0h1m1 0h1m11 0h1m4 0h2m-95 1h1m3 0h2m48 0h2m2 0h2m2 0h1m2 0h1m6 0h1m20 0h2m-48 1h2m4 0h1m1 0h1m2 0h1m6 0h1m2 0h1m1 0h3m1 0h1m4 0h1m-84 1h1m49 0h1m8 0h1m1 0h3m2 0h1m5 0h2m3 0h3m6 0h2m4 0h1m-95 1h1m2 0h2m10 0h1m35 0h1m6 0h1m7 0h1m2 0h1m2 0h2m2 0h1m1 0h3m3 0h1m4 0h1m11 0h2m-99 1h1m13 0h1m38 0h1m6 0h2m2 0h1m1 0h1m1 0h1m2 0h1m7 0h2m12 0h1m2 0h3m-35 1h2m2 0h2m2 0h1m2 0h1m3 0h2m-42 1h1m18 0h1m4 0h1m2 0h1m16 0h1m2 0h1m13 0h1m-62 1h1m17 0h1m4 0h1m2 0h2m2 0h3m2 0h1m9 0h1m1 0h2m-64 1h2m28 0h2m6 0h1m2 0h1m1 0h2m5 0h2m2 0h1m5 0h1m10 0h1m38 0h1m-108 1h1m16 0h1m9 0h2m5 0h1m1 0h1m1 0h2m7 0h2m4 0h1m-61 1h1m19 0h1m2 0h1m10 0h1m4 0h1m2 0h5m5 0h1m3 0h1m1 0h2m2 0h1m7 0h1m-94 1h1m22 0h2m19 0h1m19 0h1m6 0h1m8 0h1m11 0h1m33 0h2m7 0h1m-109 1h1m29 0h2m1 0h3m3 0h2m1 0h1m7 0h1m1 0h3m44 0h2m-130 1h1m55 0h2m2 0h2m1 0h1m1 0h1m4 0h2m3 0h2m7 0h1m7 0h1m46 0h1m-114 1h1m21 0h1m8 0h1m3 0h3m1 0h1m1 0h1m6 0h1m4 0h3m9 0h1m1 0h1m9 0h1m35 0h2m-94 1h1m2 0h1m6 0h1m2 0h1m10 0h1m5 0h1m1 0h2m3 0h1m1 0h1m3 0h1m3 0h1m1 0h1m5 0h1m-73 1h1m20 0h1m3 0h1m6 0h1m2 0h2m4 0h1m3 0h2m14 0h1m1 0h1m10 0h2m14 0h1m-105 1h1m12 0h1m11 0h2m8 0h2m3 0h1m1 0h1m1 0h1m22 0h1m2 0h1m5 0h1m2 0h1m2 0h1m6 0h1m1 0h1m-98 1h1m5 0h1m1 0h1m3 0h1m15 0h1m2 0h3m7 0h2m5 0h1m1 0h2m22 0h1m3 0h1m9 0h1m8 0h1m11 0h2m-111 1h1m6 0h1m14 0h4m2 0h1m4 0h1m7 0h1m6 0h1m1 0h2m19 0h1m1 0h1m2 0h1m1 0h3m4 0h1m5 0h1m2 0h1m-88 1h1m9 0h1m22 0h1m35 0h2m1 0h3m1 0h1m3 0h1m-93 1h2m14 0h3m1 0h1m4 0h1m4 0h1m13 0h2m8 0h3m29 0h1m1 0h1m18 0h1m-108 1h2m4 0h1m14 0h3m6 0h2m5 0h1m10 0h1m1 0h1m2 0h1m3 0h1m24 0h1m1 0h1m3 0h1m17 0h2m26 0h1m-137 1h1m5 0h1m17 0h2m11 0h1m8 0h1m1 0h1m6 0h2m27 0h1m3 0h1m1 0h1m1 0h1m3 0h1m-98 1h1m35 0h1m1 0h1m9 0h1m41 0h2m3 0h1m2 0h1m1 0h1m2 0h1m13 0h1m-105 1h2m2 0h2m10 0h1m7 0h1m11 0h1m1 0h1m1 0h1m1 0h2m2 0h2m22 0h1m8 0h4m2 0h2m-96 1h1m9 0h1m2 0h1m11 0h1m1 0h1m1 0h2m14 0h1m3 0h1m3 0h2m1 0h1m1 0h1m17 0h2m4 0h2m1 0h4m12 0h1m-109 1h1m9 0h2m14 0h1m1 0h1m7 0h5m2 0h1m3 0h1m5 0h1m1 0h1m2 0h1m4 0h1m21 0h2m4 0h2m1 0h3m4 0h1m4 0h1m7 0h1m-114 1h1m2 0h1m4 0h1m6 0h1m14 0h1m1 0h1m2 0h1m1 0h1m3 0h1m13 0h1m32 0h1m4 0h1m1 0h1m8 0h1m2 0h2m2 0h2m-109 1h1m13 0h1m7 0h1m2 0h1m3 0h4m4 0h1m1 0h1m6 0h1m3 0h1m35 0h1m1 0h1m12 0h1m2 0h1m2 0h1m-112 1h1m5 0h1m11 0h1m10 0h2m3 0h1m1 0h2m1 0h1m2 0h2m4 0h3m7 0h3m31 0h1m7 0h1m-87 1h2m15 0h3m6 0h1m7 0h2m7 0h1m1 0h1m30 0h1m6 0h1m4 0h1m5 0h1m34 0h1m-139 1h2m5 0h1m1 0h1m2 0h1m4 0h1m8 0h2m2 0h1m9 0h1m9 0h1m3 0h1m30 0h1m2 0h1m1 0h1m1 0h1m7 0h1m2 0h1m11 0h1m14 0h1m-129 1h1m16 0h2m16 0h1m10 0h2m1 0h1m33 0h1m2 0h1m2 0h1m1 0h3m1 0h3m-97 1h1m11 0h2m3 0h1m3 0h1m11 0h3m3 0h2m4 0h2m2 0h2m30 0h1m2 0h1m1 0h1m1 0h2m5 0h1m1 0h1m1 0h1m-90 1h1m2 0h2m4 0h1m3 0h1m12 0h1m5 0h2m6 0h2m30 0h1m3 0h1m5 0h1m-99 1h1m15 0h2m13 0h1m6 0h1m2 0h1m6 0h1m1 0h2m33 0h1m1 0h2m3 0h1m1 0h1m1 0h1m2 0h1m2 0h1m1 0h1m-87 1h3m4 0h3m2 0h1m3 0h1m4 0h1m5 0h1m7 0h1m3 0h1m27 0h1m5 0h1m6 0h1m3 0h1m-101 1h1m6 0h1m6 0h1m2 0h1m4 0h1m4 0h1m7 0h1m6 0h2m6 0h2m34 0h2m2 0h1m-97 1h1m5 0h2m12 0h1m10 0h1m14 0h2m2 0h1m6 0h1m1 0h1m30 0h1m7 0h1m4 0h1m-83 1h1m1 0h1m1 0h1m1 0h1m4 0h1m5 0h2m1 0h1m2 0h1m2 0h2m6 0h1m31 0h2m2 0h1m2 0h1m5 0h1m2 0h1m11 0h1m2 0h1m-112 1h1m43 0h3m2 0h2m2 0h1m27 0h2m9 0h1m3 0h1m15 0h1m-113 1h2m1 0h1m10 0h1m2 0h1m1 0h1m17 0h1m4 0h1m7 0h1m1 0h1m30 0h1m3 0h1m9 0h1m6 0h2m-95 1h2m1 0h1m2 0h1m1 0h1m5 0h1m4 0h1m7 0h1m1 0h1m3 0h2m1 0h4m1 0h2m2 0h1m26 0h1m4 0h1m1 0h1m13 0h2m-93 1h1m17 0h1m1 0h1m5 0h1m1 0h1m4 0h1m5 0h1m2 0h1m34 0h1m8 0h1m34 0h2m-133 1h1m1 0h2m3 0h1m13 0h1m3 0h1m2 0h1m2 0h2m1 0h2m2 0h1m3 0h1m4 0h3m29 0h1m3 0h2m1 0h1m9 0h1m34 0h2m-127 1h1m7 0h1m6 0h1m2 0h2m1 0h1m9 0h1m3 0h2m3 0h1m2 0h1m35 0h1m1 0h1m4 0h1m-84 1h4m11 0h2m2 0h1m1 0h1m1 0h1m5 0h1m1 0h2m8 0h1m31 0h1m3 0h1m1 0h1m14 0h1m-95 1h1m4 0h1m10 0h1m19 0h2m1 0h1m35 0h1m4 0h1m-69 1h1m17 0h1m1 0h1m5 0h1m1 0h1m29 0h2m1 0h3m4 0h1m4 0h1m-104 1h1m4 0h1m23 0h1m10 0h1m8 0h1m10 0h1m27 0h2m28 0h1"/>
<path fill="none" stroke="rgb(178,178,178)" stroke-width="1" d="M359 47.5h1m2 0h1m-29 1h1m-57 1h1m136 2h1m-56 5h1m3 1h1m-19 2h1m-67 3h1m50 3h1m18 1h1m-6 2h1m-43 2h1m-28 1h1m139 0h1m-47 4h1m-97 2h1m61 1h1m48 2h1m-48 1h1m47 0h1m-41 1h1m-17 1h1m79 2h1m-70 2h1m3 2h1m-2 1h1m-66 1h1m51 0h1m30 0h1m9 0h1m13 0h1m-68 2h1m29 0h1m3 1h1m57 0h1m-114 1h1m38 0h1m2 0h1m3 0h1m-37 1h1m24 0h1m6 0h1m9 0h1m-73 1h1m76 0h1m-63 1h1m42 0h1m4 0h1m5 0h1m-14 1h1m8 0h2m1 0h2m1 0h1m2 0h1m-12 1h1m3 0h1m1 0h1m1 0h1m7 0h1m-15 1h1m10 0h1m13 0h1m-35 1h1m7 0h1m5 0h4m3 0h2m44 0h1m-69 1h1m6 0h1m2 0h1m1 0h1m1 0h2m12 0h1m6 0h1m-25 1h1m3 0h1m19 0h1m-95 1h1m2 0h1m13 0h1m35 0h1m9 0h2m1 0h1m2 0h1m6 0h1m1 0h1m4 0h2m4 0h1m8 0h1m2 0h1m-84 1h1m40 0h1m10 0h1m4 0h1m-5 1h1m6 0h2m-18 1h1m4 0h1m1 0h1m2 0h1m2 0h1m3 0h1m10 0h1m-28 1h1m4 0h2m3 0h1m14 0h1m11 0h1m4 0h1m33 0h1m-91 1h1m15 0h2m1 0h2m1 0h1m4 0h1m7 0h1m-52 1h1m7 0h1m27 0h1m5 0h1m8 0h1m-39 1h2m10 0h1m4 0h1m1 0h1m10 0h1m5 0h1m5 0h1m-90 1h1m1 0h1m63 0h1m2 0h2m2 0h1m1 0h1m6 0h1m13 0h1m40 0h1m-138 1h2m27 0h1m32 0h1m3 0h1m4 0h1m1 0h3m2 0h2m1 0h1m12 0h2m10 0h1m-102 1h1m54 0h1m4 0h1m2 0h1m6 0h1m2 0h2m1 0h3m-78 1h1m19 0h1m1 0h1m11 0h1m20 0h1m7 0h1m2 0h1m3 0h1m1 0h2m3 0h1m1 0h2m10 0h2m4 0h1m-55 1h1m16 0h1m1 0h4m4 0h2m1 0h1m2 0h1m1 0h1m5 0h1m1 0h1m1 0h1m3 0h1m1 0h1m3 0h1m16 0h1m-92 1h1m20 0h1m6 0h1m5 0h2m3 0h2m10 0h1m2 0h1m2 0h1m2 0h1m2 0h1m-36 1h1m1 0h1m1 0h3m1 0h2m2 0h1m6 0h2m4 0h1m2 0h1m18 0h1m-88 1h1m5 0h1m1 0h1m31 0h1m1 0h1m2 0h1m1 0h2m11 0h1m3 0h2m3 0h2m1 0h1m2 0h1m2 0h1m5 0h1m-84 1h1m33 0h1m4 0h1m6 0h2m1 0h1m16 0h1m6 0h1m1 0h1m2 0h1m15 0h1m-54 1h1m1 0h2m1 0h2m17 0h3m2 0h1m15 0h1m14 0h1m-103 1h1m8 0h2m1 0h1m16 0h1m9 0h3m3 0h1m1 0h1m15 0h1m4 0h2m2 0h1m4 0h1m44 0h1m-130 1h1m18 0h1m11 0h1m15 0h1m3 0h1m20 0h1m5 0h1m1 0h2m2 0h1m-45 1h1m2 0h1m2 0h2m2 0h1m1 0h1m26 0h2m3 0h1m5 0h2m-93 1h1m29 0h1m9 0h1m8 0h1m1 0h1m1 0h1m19 0h1m6 0h1m4 0h1m1 0h1m2 0h1m1 0h1m2 0h1m13 0h1m1 0h1m-89 1h3m1 0h1m12 0h1m2 0h1m1 0h1m5 0h1m4 0h1m16 0h3m2 0h1m1 0h1m1 0h1m1 0h1m-87 1h1m7 0h1m4 0h1m5 0h2m4 0h1m21 0h1m2 0h2m2 0h1m3 0h1m19 0h2m8 0h1m9 0h1m7 0h1m-114 1h1m23 0h1m6 0h2m14 0h1m7 0h1m2 0h1m1 0h1m2 0h1m24 0h1m7 0h1m4 0h1m1 0h1m2 0h1m5 0h1m9 0h1m-119 1h1m5 0h1m15 0h1m2 0h1m12 0h2m10 0h1m4 0h1m1 0h2m21 0h2m1 0h1m2 0h2m2 0h1m8 0h1m-105 1h1m15 0h1m7 0h1m13 0h1m4 0h1m18 0h1m1 0h1m27 0h1m8 0h2m1 0h1m3 0h1m-107 1h1m21 0h3m1 0h1m18 0h1m15 0h2m22 0h2m1 0h1m1 0h1m9 0h2m-98 1h1m17 0h2m9 0h1m3 0h2m18 0h1m1 0h1m27 0h2m8 0h1m8 0h1m-97 1h1m6 0h1m17 0h1m9 0h1m9 0h3m26 0h1m2 0h1m17 0h2m13 0h1m12 0h1m8 0h1m-113 1h1m9 0h1m16 0h1m29 0h1m2 0h1m5 0h1m7 0h2m-100 1h1m11 0h1m2 0h1m7 0h1m13 0h1m15 0h1m21 0h1m5 0h1m2 0h1m14 0h1m-87 1h1m8 0h2m10 0h2m9 0h2m3 0h1m2 0h1m24 0h1m2 0h1m4 0h1m1 0h1m3 0h1m6 0h1m-106 1h1m6 0h1m5 0h1m5 0h1m1 0h1m4 0h3m2 0h1m1 0h1m4 0h1m2 0h1m6 0h1m1 0h1m6 0h2m1 0h1m24 0h1m1 0h1m2 0h2m2 0h1m1 0h1m1 0h1m8 0h2m-75 1h1m4 0h1m5 0h1m2 0h3m9 0h1m23 0h2m1 0h3m3 0h1m1 0h2m3 0h1m6 0h1m-111 1h1m11 0h1m11 0h1m4 0h4m10 0h1m6 0h2m7 0h3m28 0h2m5 0h3m-81 1h1m7 0h1m2 0h1m17 0h2m8 0h1m3 0h2m25 0h1m1 0h2m1 0h1m4 0h1m-83 1h4m3 0h1m1 0h1m4 0h1m14 0h1m6 0h1m2 0h3m1 0h1m29 0h1m1 0h1m6 0h1m19 0h1m-112 1h1m9 0h1m22 0h1m2 0h1m1 0h1m11 0h1m27 0h2m4 0h2m21 0h1m-105 1h1m11 0h1m1 0h1m11 0h1m8 0h1m3 0h1m1 0h1m2 0h2m1 0h1m1 0h3m28 0h2m10 0h1m1 0h1m-101 1h1m14 0h1m32 0h1m35 0h1m1 0h3m4 0h1m-75 1h3m5 0h1m1 0h1m7 0h1m15 0h1m2 0h1m26 0h4m1 0h3m2 0h1m-90 1h1m1 0h1m4 0h1m4 0h1m12 0h1m2 0h1m15 0h1m32 0h2m2 0h3m4 0h1m-85 1h1m22 0h1m3 0h3m1 0h2m2 0h1m1 0h1m2 0h1m3 0h2m1 0h1m27 0h1m5 0h1m1 0h1m-73 1h1m11 0h2m1 0h1m4 0h1m2 0h1m7 0h4m2 0h1m28 0h1m2 0h1m3 0h1m4 0h1m-65 1h2m17 0h1m1 0h2m1 0h1m28 0h1m1 0h1m1 0h2m1 0h1m14 0h1m-90 1h1m5 0h1m6 0h1m4 0h1m5 0h1m1 0h1m7 0h1m1 0h1m1 0h2m24 0h1m9 0h1m6 0h1m13 0h1m-115 1h1m36 0h1m8 0h1m2 0h1m7 0h1m29 0h1"/>
<path fill="none" stroke="rgb(128,128,128)" stroke-width="1" d="M345 90.5h1m-3 10h1m3 2h1m4 0h1m-11 1h1m7 0h1m5 0h1m-5 1h2m-15 1h1m9 2h1m-6 1h1m2 0h2m-3 1h1m-6 2h1m8 0h1m-51 1h1m43 1h1m9 0h1m-19 2h1m9 0h1m6 0h1m3 0h1m-20 1h1m4 0h2m1 0h2m2 0h1m6 0h1m8 0h1m-21 1h3m7 0h1m9 0h1m-26 1h1m2 0h1m1 0h1m1 0h1m2 0h1m1 0h1m1 0h2m-28 1h1m12 0h1m6 0h1m3 0h3m2 0h1m-18 1h1m12 0h1m4 0h1m-23 1h1m8 0h1m4 0h1m4 0h1m2 0h1m1 0h1m9 0h1m-38 1h1m20 0h2m-59 1h1m38 0h1m1 0h1m15 0h1m1 0h2m2 0h2m1 0h1m-35 1h1m3 0h1m2 0h1m4 0h2m11 0h1m1 0h4m-24 1h1m18 0h4m-83 1h1m57 0h1m1 0h1m3 0h1m13 0h1m1 0h1m1 0h1m1 0h1m7 0h1m-37 1h1m4 0h1m3 0h1m17 0h1m5 0h1m-41 1h1m10 0h1m5 0h1m9 0h1m26 0h1m-48 1h1m4 0h1m14 0h1m3 0h1m2 0h1m-78 1h1m50 0h1m2 0h1m22 0h1m9 0h1m-67 1h1m27 0h2m2 0h1m2 0h1m18 0h4m16 0h1m-44 1h1m23 0h1m4 0h1m-85 1h1m15 0h1m38 0h3m20 0h2m-26 1h2m25 0h1m1 0h1m1 0h2m3 0h1m-38 1h1m1 0h1m21 0h1m1 0h3m1 0h1m2 0h1m-62 1h1m27 0h1m1 0h1m23 0h1m4 0h1m2 0h1m5 0h2m-73 1h1m32 0h2m19 0h3m1 0h2m1 0h1m1 0h2m3 0h2m-89 1h1m38 0h1m7 0h2m2 0h1m1 0h1m22 0h1m7 0h1m-46 1h1m7 0h3m1 0h1m34 0h1m-56 1h1m15 0h1m3 0h2m25 0h1m-30 1h1m25 0h1m6 0h1m-33 1h3m22 0h1m2 0h1m3 0h1m-49 1h1m15 0h2m-18 1h1m5 0h1m12 0h1m23 0h2m3 0h1m-48 1h1m11 0h1m5 0h1m22 0h2m5 0h1m-74 1h1m38 0h1m2 0h1m28 0h1m-57 1h1m23 0h3m25 0h1m6 0h1m-35 1h1m23 0h3m5 0h1m-35 1h1m27 0h2m2 0h1m-56 1h1m24 0h1m2 0h2m21 0h4m-50 1h1m19 0h1m29 0h1m-92 1h1m62 0h1m2 0h1m18 0h1"/>
<path fill="none" stroke="rgb(77,77,77)" stroke-width="1" d="M345 113.5h1m1 2h1m4 3h1m-15 1h1m2 0h1m2 0h5m3 0h1m-16 1h1m2 0h1m2 0h8m1 0h2m-14 1h1m1 0h2m1 0h1m1 0h2m3 0h3m-18 1h1m2 0h2m11 0h2m-15 1h2m1 0h1m9 0h1m2 0h1m-19 1h4m11 0h2m-17 1h1m3 0h1m1 0h1m9 0h2m4 0h1m-23 1h1m1 0h1m1 0h2m10 0h1m3 0h1m1 0h1m-24 1h1m3 0h1m1 0h1m4 0h1m4 0h1m1 0h1m-16 1h3m1 0h1m9 0h2m5 0h1m-10 1h1m1 0h1m1 0h1m4 0h1m-24 1h2m13 0h1m3 0h1m-24 1h1m3 0h1m17 0h2m0 1h1m-21 1h1m14 0h1m3 0h1m2 0h2m-26 1h4m17 0h2m1 0h1m-27 1h1m2 0h1m20 0h1m-23 1h1m1 0h1m16 0h1m4 0h2m-25 1h1m3 0h1m13 0h1m-19 1h2m1 0h1m15 0h3m-23 1h3m1 0h1m17 0h1m-21 1h1m15 0h1m2 0h3m-27 1h1m25 0h1m-24 1h1m20 0h1m-23 1h1m21 0h1m-23 1h1m1 0h1m21 0h1m-23 1h1m-25 1h1m22 0h1m1 0h1m19 0h2m-25 1h3m19 0h1m-24 1h3m3 0h1m-7 1h1m1 0h3m18 0h2m2 0h1m-53 1h1m25 0h1m2 0h1m19 0h1m-23 1h1m2 0h1m17 0h3m-24 1h1m16 0h1m2 0h1m1 0h3m2 0h1"/>
<path fill="none" stroke="rgb(31,31,31)" stroke-width="1" d="M347 118.5h1m-6 2h1m1 1h1m4 0h2m-9 1h11m-11 1h1m1 0h9m-9 1h9m-14 1h3m1 0h1m1 0h9m-15 1h1m4 0h10m-14 1h1m3 0h4m1 0h4m1 0h1m-10 1h8m-14 1h13m3 0h1m-16 1h13m1 0h3m-17 1h16m-18 1h20m-19 1h14m1 0h3m-17 1h17m-21 1h1m1 0h19m-20 1h1m1 0h16m2 0h2m-21 1h3m1 0h13m-16 1h1m1 0h15m-17 1h1m1 0h17m-22 1h2m1 0h15m1 0h2m3 0h1m-25 1h22m2 0h1m-24 1h20m-21 1h21m-19 1h21m-21 1h21m-22 1h1m1 0h19m-20 1h19m-20 1h3m1 0h16m-22 1h1m3 0h18m-18 1h19m-21 1h2m1 0h17m-20 1h1m1 0h14m1 0h2"/>
<path fill="none" stroke="rgb(224,224,224)" stroke-width="1" d="M188 216.5h2m-2 1h2m37 0h1m-67 3h1m-51 1h2m78 0h1m-104 1h1m-1 1h2m96 1h1m14 0h1m-12 1h1m-8 3h2m-1 1h1m3 0h1m-68 2h1m-35 1h1m33 0h1m52 0h2m4 0h2m13 0h2m-16 1h2m1 0h1m5 0h1m3 0h1m1 0h1m-16 1h2m2 0h2m5 0h2m4 0h1m-14 1h2m6 0h1m1 0h1m-16 1h1m5 0h1m-1 1h1m4 0h2m-14 1h1m11 0h1m5 0h1m26 0h1m-46 1h1m6 0h1m38 0h1m-102 1h1m59 0h1m1 0h1m1 0h1m9 0h1m-14 1h1m3 0h1m2 0h1m2 0h1m-17 1h1m6 0h1m4 0h4m1 0h1m4 0h1m-22 1h1m7 0h1m5 0h1m9 0h2m-27 1h2m3 0h1m1 0h1m2 0h2m3 0h1m1 0h1m4 0h2m-24 1h1m7 0h1m2 0h2m1 0h1m7 0h2m-23 1h1m5 0h3m3 0h1m-15 1h1m9 0h1m5 0h1m-15 1h1m2 0h1m7 0h1m3 0h1m-13 1h1m1 0h1m1 0h2m5 0h1m-17 1h1m5 0h2m1 0h1m1 0h2m-12 1h1m6 0h5m-12 1h4m8 0h1m4 0h1m-14 1h1m5 0h1m10 0h1m-22 1h1m4 0h1m2 0h1m5 0h1m3 0h1m2 0h2m-27 1h2m3 0h1m13 0h2m-21 1h2m1 0h1m9 0h1m4 0h1m19 0h1m-34 1h2m1 0h1m2 0h1m1 0h1m3 0h2m-16 1h2m1 0h1m2 0h1m9 0h1m-17 1h1m2 0h1m2 0h1m7 0h1m3 0h1m-28 1h1m6 0h1m2 0h1m1 0h1m1 0h1m3 0h1m-12 1h1m9 0h2m10 0h2m-74 1h1m44 0h2m12 0h1m6 0h2m3 0h1m2 0h1m-78 1h1m47 0h2m2 0h1m10 0h1m5 0h2m4 0h1m-77 1h2m3 0h1m55 0h1m1 0h1m5 0h2m-63 1h2m45 0h2m1 0h1m8 0h3m4 0h1m2 0h1m3 0h1m-74 1h3m53 0h1m7 0h2m7 0h1m-63 1h1m30 0h1m3 0h3m2 0h1m7 0h1m3 0h2m1 0h2m-110 1h1m39 0h1m10 0h1m17 0h1m13 0h1m2 0h1m2 0h5m2 0h1m2 0h1m3 0h1m1 0h1m2 0h2m11 0h1m-122 1h1m66 0h2m3 0h2m5 0h1m3 0h2m1 0h1m7 0h1m3 0h1m8 0h1m2 0h1m-69 1h1m2 0h1m7 0h1m5 0h1m11 0h1m1 0h1m10 0h1m2 0h1m2 0h1m1 0h1m3 0h1m8 0h1m5 0h1m-72 1h1m24 0h1m2 0h1m13 0h1m2 0h1m2 0h1m18 0h1m1 0h1m26 0h1m-125 1h1m26 0h1m16 0h1m8 0h1m10 0h1m1 0h2m6 0h1m1 0h1m1 0h2m2 0h1m15 0h1m1 0h1m3 0h1m19 0h1m-133 1h1m11 0h1m47 0h2m11 0h3m13 0h1m22 0h1m-76 1h1m1 0h1m19 0h1m1 0h1m1 0h1m16 0h2m7 0h1m7 0h1m8 0h1m2 0h1m1 0h1m-74 1h1m15 0h1m5 0h3m1 0h1m9 0h1m4 0h2m23 0h1m1 0h2m2 0h1m-101 1h1m9 0h2m8 0h1m2 0h1m15 0h1m1 0h3m9 0h3m14 0h3m2 0h1m2 0h1m11 0h1m5 0h1m1 0h1m-98 1h1m8 0h1m9 0h1m9 0h1m1 0h1m5 0h1m4 0h1m13 0h1m5 0h1m2 0h2m2 0h1m3 0h1m11 0h2m8 0h1m-93 1h1m23 0h1m3 0h1m2 0h2m18 0h1m6 0h1m3 0h1m1 0h1m1 0h1m1 0h1m15 0h1m4 0h3m6 0h2m-75 1h1m3 0h1m1 0h2m7 0h1m10 0h1m2 0h1m9 0h1m3 0h2m21 0h1m2 0h1m-82 1h1m4 0h2m5 0h2m3 0h1m9 0h2m1 0h1m3 0h1m2 0h1m7 0h1m3 0h1m1 0h1m1 0h2m25 0h1m-106 1h1m15 0h1m2 0h1m5 0h1m8 0h2m18 0h1m8 0h1m14 0h1m2 0h1m19 0h1m1 0h1m3 0h2m2 0h1m-110 1h2m14 0h2m5 0h1m8 0h1m1 0h3m4 0h1m2 0h2m5 0h2m3 0h3m3 0h1m2 0h2m4 0h1m1 0h2m5 0h1m22 0h1m1 0h1m2 0h2m4 0h1m-125 1h1m1 0h1m23 0h1m1 0h1m2 0h1m14 0h2m1 0h1m2 0h1m12 0h4m4 0h1m2 0h1m5 0h2m4 0h1m1 0h2m13 0h1m3 0h1m1 0h1m1 0h1m-111 1h1m27 0h1m23 0h1m6 0h1m9 0h1m6 0h1m2 0h1m29 0h2m1 0h1m7 0h1m-98 1h1m11 0h1m8 0h1m3 0h2m2 0h1m13 0h1m1 0h1m4 0h1m10 0h2m5 0h1m18 0h1m4 0h2m-109 1h2m3 0h1m1 0h1m2 0h1m10 0h1m8 0h2m2 0h1m1 0h1m6 0h2m14 0h1m1 0h1m2 0h1m6 0h1m2 0h1m5 0h1m2 0h2m15 0h1m2 0h1m1 0h2m-108 1h1m4 0h1m3 0h1m7 0h1m4 0h2m6 0h1m1 0h1m1 0h1m2 0h3m17 0h1m3 0h1m2 0h1m3 0h1m11 0h1m13 0h2m6 0h2m9 0h2m-109 1h1m2 0h1m7 0h1m4 0h2m8 0h2m9 0h2m3 0h1m10 0h1m1 0h1m8 0h2m6 0h1m23 0h3m8 0h1m-100 1h2m7 0h1m1 0h1m22 0h1m3 0h1m9 0h1m1 0h1m2 0h2m1 0h1m2 0h3m1 0h1m1 0h1m21 0h1m5 0h1m11 0h1m-104 1h2m1 0h1m4 0h1m1 0h1m8 0h2m1 0h1m3 0h1m3 0h1m5 0h2m7 0h1m5 0h1m1 0h1m2 0h2m1 0h1m1 0h3m3 0h1m14 0h1m7 0h1m1 0h1m10 0h1m-95 1h1m1 0h1m7 0h1m2 0h1m11 0h1m13 0h1m1 0h2m12 0h1m2 0h1m2 0h1m13 0h3m1 0h1m1 0h1m-99 1h1m12 0h1m12 0h1m5 0h1m5 0h1m2 0h1m14 0h1m1 0h2m3 0h1m1 0h3m23 0h1m4 0h1m3 0h1m-111 1h3m18 0h1m1 0h1m7 0h1m4 0h2m7 0h1m3 0h3m9 0h1m12 0h1m1 0h1m1 0h1m1 0h1m5 0h2m4 0h1m3 0h1m4 0h1m9 0h1m-113 1h1m1 0h1m20 0h1m5 0h1m4 0h1m6 0h2m5 0h1m1 0h1m2 0h1m7 0h1m2 0h2m5 0h1m4 0h1m2 0h1m3 0h2m6 0h2m4 0h1m2 0h1m2 0h1m4 0h1m26 0h1m-144 1h1m3 0h1m25 0h1m6 0h1m4 0h1m2 0h1m4 0h1m2 0h1m2 0h1m2 0h1m2 0h2m1 0h2m1 0h1m6 0h1m1 0h2m3 0h2m7 0h2m2 0h2m1 0h2m4 0h2m2 0h1m5 0h1m2 0h1m-118 1h1m21 0h1m13 0h1m10 0h1m8 0h1m2 0h1m2 0h1m7 0h1m1 0h2m8 0h1m1 0h1m2 0h1m1 0h1m3 0h1m3 0h1m3 0h1m2 0h1m9 0h1m8 0h1m-117 1h2m6 0h2m1 0h2m1 0h1m2 0h1m6 0h2m11 0h3m1 0h1m2 0h1m2 0h1m1 0h1m1 0h1m4 0h1m9 0h3m6 0h1m1 0h2m8 0h2m2 0h1m3 0h2m1 0h1m3 0h1m1 0h1m7 0h1m2 0h2m-116 1h1m6 0h2m4 0h1m4 0h2m5 0h1m19 0h1m3 0h1m6 0h2m3 0h2m5 0h1m2 0h1m3 0h2m7 0h1m3 0h3m5 0h2m5 0h1m1 0h1m3 0h1m-84 1h1m9 0h1m3 0h1m1 0h1m3 0h2m8 0h2m5 0h1m3 0h1m8 0h1m2 0h1m5 0h1m1 0h1m4 0h2m6 0h1m1 0h1m7 0h1m-101 1h1m31 0h1m1 0h1m9 0h3m3 0h1m16 0h1m6 0h1m1 0h1m11 0h1m1 0h1m3 0h3m-106 1h1m17 0h1m17 0h1m10 0h1m5 0h1m4 0h2m28 0h1m6 0h1m8 0h2m-88 1h1m14 0h1m1 0h1m14 0h1m9 0h1m9 0h1m2 0h1m14 0h2m5 0h2m5 0h1m-88 1h2m6 0h1m1 0h1m8 0h1m3 0h1m3 0h1m1 0h1m1 0h1m2 0h2m1 0h1m31 0h1m2 0h1m2 0h1m5 0h2m-85 1h4m4 0h1m2 0h1m1 0h1m11 0h1m10 0h1m13 0h1m10 0h1m5 0h1m2 0h5m4 0h1m3 0h1m2 0h1m-95 1h1m11 0h3m11 0h1m10 0h1m19 0h2m16 0h1m3 0h2m7 0h1m1 0h2m5 0h1m-92 1h1m5 0h1m24 0h1m1 0h1m25 0h1m2 0h1m11 0h1m7 0h1m-72 1h1m20 0h3m9 0h3m1 0h1m18 0h1m7 0h1m8 0h1m-63 1h2m7 0h3m1 0h1m9 0h2m7 0h1m7 0h1m11 0h1m1 0h1m4 0h1m-101 1h1m17 0h1m20 0h4m3 0h1m3 0h2m4 0h2m14 0h1m1 0h3m5 0h1m11 0h1m13 0h2m-74 1h1m1 0h2m1 0h2m25 0h1m13 0h1m18 0h1m13 0h1m-109 1h1m10 0h1m12 0h1m1 0h1m7 0h2m44 0h1m3 0h1m8 0h2m14 0h1m-109 1h1m55 0h1m26 0h1m8 0h1m-82 1h2m33 0h2m19 0h2m13 0h2m20 0h2m-100 1h2m71 0h1m-51 1h1m8 0h2m12 0h1m36 0h2m2 0h2m2 0h1m-89 1h1m11 0h2m11 0h1m2 0h1m5 0h1m6 0h2m4 0h1m15 0h1m5 0h2m5 0h1m7 0h1m-84 1h1m10 0h2m19 0h2m5 0h1m2 0h1m26 0h1m4 0h1m11 0h2m3 0h1m4 0h1m-38 1h1m10 0h2m15 0h1m-30 1h2m10 0h2m19 0h1m-95 1h1m89 1h1m29 0h1m-121 1h1m120 0h1"/>
<path fill="none" stroke="rgb(178,178,178)" stroke-width="1" d="M226 217.5h1m-65 3h1m27 1h1m-4 3h1m12 0h1m-10 1h1m-79 1h1m69 1h1m2 3h3m-101 2h1m96 0h1m-1 1h2m4 0h1m1 0h1m4 0h1m29 1h1m-37 1h1m-2 1h3m1 0h1m-15 1h1m15 0h1m-12 1h2m4 0h1m32 0h1m-39 1h1m-12 1h1m10 0h1m2 0h1m6 0h1m-74 1h1m59 0h1m1 0h1m1 0h1m4 0h1m-14 1h1m3 0h1m2 0h3m5 0h1m6 0h1m-19 1h4m1 0h1m1 0h1m4 0h1m-9 1h1m4 0h1m1 0h1m-11 1h2m2 0h1m-11 1h1m3 0h2m6 0h1m-13 1h1m3 0h1m1 0h1m4 0h2m5 0h1m-20 1h2m2 0h1m1 0h1m2 0h1m2 0h1m-9 1h1m8 0h1m-92 1h1m80 0h3m2 0h1m4 0h1m-14 1h1m2 0h2m8 0h1m-14 1h1m8 0h1m1 0h1m2 0h1m1 0h2m-16 1h1m1 0h1m2 0h1m4 0h2m1 0h1m1 0h1m-16 1h1m1 0h2m1 0h2m3 0h3m2 0h1m-11 1h3m9 0h1m15 0h1m-35 1h3m4 0h2m4 0h1m1 0h1m-20 1h1m2 0h2m5 0h1m4 0h1m3 0h1m-13 1h1m3 0h1m1 0h1m6 0h1m-17 1h1m2 0h1m2 0h1m7 0h1m1 0h1m-26 1h1m9 0h1m3 0h2m2 0h5m5 0h2m-23 1h1m3 0h3m5 0h1m3 0h1m-67 1h1m49 0h3m2 0h1m3 0h2m1 0h2m8 0h1m-73 1h1m46 0h1m4 0h1m1 0h1m1 0h1m1 0h1m1 0h5m5 0h1m-20 1h1m1 0h3m1 0h1m4 0h2m3 0h2m-64 1h1m41 0h1m7 0h4m11 0h1m-21 1h2m6 0h1m1 0h1m1 0h2m8 0h1m-26 1h1m4 0h2m1 0h1m5 0h1m2 0h1m3 0h1m-69 1h1m12 0h2m25 0h1m7 0h2m5 0h1m3 0h1m1 0h1m1 0h1m3 0h1m15 0h1m-81 1h1m4 0h1m4 0h3m14 0h1m17 0h5m1 0h1m2 0h2m2 0h2m1 0h1m2 0h1m1 0h1m-57 1h1m19 0h1m10 0h1m1 0h2m1 0h2m1 0h1m1 0h1m3 0h1m12 0h1m1 0h1m-74 1h1m5 0h1m13 0h1m4 0h1m2 0h1m15 0h2m4 0h2m1 0h2m2 0h1m5 0h1m5 0h1m1 0h2m-55 1h1m6 0h1m22 0h1m4 0h2m3 0h1m8 0h4m1 0h1m-109 1h1m8 0h1m4 0h1m45 0h1m12 0h1m3 0h1m5 0h1m1 0h4m2 0h1m11 0h1m1 0h2m9 0h1m-78 1h1m15 0h2m4 0h1m3 0h1m14 0h1m2 0h1m1 0h2m1 0h1m2 0h1m4 0h1m2 0h2m5 0h1m-41 1h1m9 0h1m9 0h2m1 0h4m3 0h1m5 0h1m3 0h1m5 0h1m-80 1h1m7 0h1m7 0h1m12 0h2m4 0h1m15 0h1m2 0h1m2 0h1m5 0h1m3 0h1m1 0h1m2 0h2m1 0h1m-98 1h1m30 0h1m10 0h1m12 0h1m17 0h1m1 0h1m2 0h1m10 0h1m2 0h1m1 0h2m2 0h1m-68 1h1m1 0h1m29 0h1m9 0h1m3 0h2m1 0h1m1 0h1m3 0h1m2 0h4m4 0h1m-94 1h1m22 0h1m2 0h1m8 0h1m5 0h1m2 0h2m1 0h1m9 0h3m2 0h2m1 0h1m17 0h1m4 0h2m2 0h2m1 0h1m-89 1h1m4 0h1m11 0h1m4 0h1m22 0h1m3 0h1m6 0h1m1 0h1m3 0h3m1 0h1m3 0h1m13 0h1m2 0h1m-106 1h1m13 0h1m37 0h1m23 0h1m2 0h1m2 0h1m15 0h2m3 0h1m-81 1h1m10 0h1m4 0h1m10 0h1m4 0h1m8 0h1m8 0h1m2 0h2m4 0h1m1 0h2m9 0h2m1 0h1m-109 1h1m3 0h1m19 0h1m3 0h1m5 0h1m17 0h1m23 0h1m1 0h2m1 0h1m4 0h2m2 0h1m2 0h1m14 0h1m2 0h1m1 0h1m11 0h1m-78 1h2m2 0h2m3 0h1m4 0h1m3 0h1m7 0h1m1 0h1m1 0h2m7 0h5m1 0h1m15 0h4m12 0h1m-107 1h1m8 0h1m4 0h1m6 0h1m8 0h1m7 0h1m5 0h1m5 0h1m3 0h3m6 0h3m1 0h1m3 0h1m8 0h1m4 0h1m4 0h2m1 0h2m2 0h1m-106 1h1m4 0h1m35 0h1m16 0h2m3 0h2m6 0h1m1 0h1m2 0h1m1 0h1m1 0h1m5 0h1m3 0h1m6 0h1m2 0h1m1 0h1m-106 1h1m13 0h1m19 0h1m1 0h1m31 0h2m3 0h1m5 0h1m1 0h1m2 0h1m7 0h1m2 0h1m7 0h2m2 0h4m-103 1h1m15 0h1m7 0h1m9 0h1m11 0h1m2 0h1m2 0h1m4 0h1m3 0h1m8 0h1m1 0h1m1 0h3m1 0h1m8 0h3m1 0h2m2 0h1m4 0h4m-85 1h1m1 0h1m11 0h1m3 0h1m1 0h1m8 0h2m4 0h1m1 0h1m23 0h2m4 0h2m4 0h1m1 0h1m2 0h1m5 0h1m-91 1h1m6 0h1m19 0h1m8 0h1m2 0h1m1 0h1m4 0h2m2 0h1m11 0h1m1 0h1m6 0h1m1 0h1m5 0h1m1 0h1m-92 1h2m11 0h1m18 0h1m5 0h1m2 0h1m13 0h1m7 0h2m4 0h1m11 0h2m3 0h1m2 0h1m5 0h1m1 0h1m-87 1h1m7 0h1m10 0h2m22 0h2m4 0h2m7 0h1m2 0h1m3 0h2m1 0h4m2 0h1m6 0h1m1 0h2m1 0h1m-78 1h1m15 0h1m15 0h1m3 0h1m3 0h2m5 0h1m1 0h1m1 0h2m5 0h1m4 0h1m5 0h1m2 0h1m1 0h1m4 0h2m23 0h1m-135 1h1m1 0h1m20 0h1m5 0h2m13 0h1m1 0h1m6 0h2m6 0h1m3 0h2m9 0h2m1 0h3m3 0h1m3 0h1m5 0h1m4 0h1m4 0h1m-110 1h1m23 0h1m6 0h1m1 0h1m7 0h1m8 0h1m2 0h1m2 0h1m7 0h1m2 0h1m6 0h1m1 0h1m3 0h1m2 0h3m10 0h1m1 0h1m2 0h1m4 0h1m4 0h1m-94 1h1m5 0h1m18 0h1m2 0h1m17 0h1m7 0h3m1 0h1m13 0h1m2 0h2m2 0h1m2 0h2m1 0h2m3 0h1m1 0h1m-83 1h1m1 0h2m6 0h1m9 0h1m3 0h1m18 0h2m5 0h1m3 0h2m7 0h1m4 0h1m2 0h1m8 0h1m-90 1h1m4 0h1m5 0h1m9 0h1m8 0h3m10 0h2m5 0h2m4 0h1m1 0h1m2 0h1m1 0h2m6 0h1m5 0h1m6 0h1m3 0h1m5 0h2m-71 1h1m17 0h2m3 0h1m3 0h1m5 0h2m1 0h1m6 0h1m10 0h1m1 0h1m5 0h1m4 0h1m-108 1h1m9 0h1m21 0h1m2 0h1m6 0h1m1 0h1m17 0h2m22 0h1m1 0h3m7 0h1m-79 1h1m14 0h1m10 0h1m13 0h1m4 0h1m16 0h1m2 0h1m3 0h2m11 0h2m-111 1h1m48 0h1m28 0h2m9 0h1m1 0h2m-62 1h1m10 0h1m11 0h2m2 0h1m19 0h1m5 0h1m3 0h1m1 0h1m1 0h1m6 0h1m2 0h1m2 0h1m-94 1h1m13 0h1m2 0h1m2 0h1m18 0h1m3 0h1m1 0h1m39 0h1m4 0h1m1 0h2m-88 1h1m20 0h1m8 0h1m24 0h1m7 0h1m16 0h1m2 0h1m2 0h2m4 0h1m-73 1h1m11 0h1m1 0h1m32 0h1m7 0h1m-70 1h1m5 0h1m22 0h2m22 0h1m14 0h1m-39 1h2m6 0h1m3 0h1m6 0h3m11 0h1m12 0h1m-89 1h1m33 0h1m25 0h1m7 0h1m18 0h2m23 0h1m-126 1h1m6 0h1m10 0h1m14 0h1m23 0h1m5 0h1m5 0h1m21 0h1m24 0h1m-109 1h1m23 0h1m3 0h1m1 0h2m3 0h1m38 0h1m5 0h1m-71 1h3m42 0h1m52 0h1m-117 1h2m8 0h3m86 0h1m-54 1h2m17 0h1m31 0h3m-62 1h1m6 0h1m13 0h1m27 0h1m-70 1h1m62 0h1m20 0h1m2 0h1m-64 1h1m15 0h1m5 0h1m28 0h2m18 0h1m5 0h1m-60 1h1m43 0h1m4 0h1m-95 1h1m92 0h1m-3 2h1m29 0h1m-121 1h1"/>
<path fill="none" stroke="rgb(128,128,128)" stroke-width="1" d="M181 236.5h1m11 1h1m-7 4h1m-3 3h1m2 1h1m-5 2h1m1 0h2m-7 1h1m3 0h2m-6 1h1m2 0h1m5 0h1m-11 1h1m7 0h1m3 0h1m-13 1h1m11 0h1m-7 1h1m-6 1h1m4 0h2m4 0h1m1 1h1m1 0h1m-9 1h1m7 0h1m-13 2h1m4 0h1m1 0h1m-3 1h3m-6 1h1m2 0h3m-6 1h1m6 0h1m-9 1h1m-5 1h1m6 0h1m-7 1h1m1 0h1m-6 1h1m6 0h2m-9 1h1m1 0h1m4 0h3m3 0h1m1 0h2m-17 1h4m1 0h1m3 0h1m2 0h2m-10 1h2m1 0h2m2 0h1m-19 1h1m10 0h1m1 0h1m3 0h1m2 0h1m-10 1h1m3 0h1m2 0h1m1 0h1m4 0h1m-12 1h3m1 0h1m1 0h1m1 0h4m-19 1h1m2 0h2m3 0h3m1 0h2m1 0h1m-18 1h1m5 0h2m1 0h5m2 0h1m-14 1h1m2 0h2m4 0h2m2 0h1m1 0h1m-16 1h1m2 0h1m2 0h1m1 0h1m4 0h2m1 0h1m5 0h1m-17 1h1m1 0h1m1 0h3m-11 1h1m3 0h1m1 0h3m3 0h2m-53 1h1m34 0h1m5 0h4m2 0h1m2 0h1m-34 1h1m8 0h1m1 0h1m4 0h1m4 0h1m1 0h1m2 0h2m10 0h1m-69 1h1m18 0h1m26 0h2m1 0h1m1 0h1m2 0h1m7 0h2m2 0h1m-40 1h1m5 0h1m1 0h1m8 0h1m3 0h1m3 0h1m4 0h1m1 0h3m2 0h2m2 0h1m-81 1h1m61 0h1m8 0h1m1 0h2m3 0h1m-19 1h1m10 0h1m2 0h1m5 0h1m-65 1h1m35 0h1m10 0h1m1 0h1m3 0h1m4 0h1m-31 1h1m7 0h2m5 0h1m1 0h1m2 0h1m2 0h1m3 0h3m1 0h1m-31 1h2m5 0h1m1 0h1m3 0h2m1 0h1m3 0h1m1 0h1m1 0h2m1 0h1m2 0h1m-32 1h1m1 0h1m5 0h1m2 0h1m1 0h1m2 0h2m3 0h1m1 0h1m1 0h1m2 0h3m1 0h2m-65 1h1m18 0h1m12 0h1m3 0h1m5 0h1m1 0h1m2 0h1m1 0h5m1 0h2m1 0h1m2 0h2m-56 1h1m6 0h1m17 0h1m8 0h1m9 0h3m2 0h1m3 0h1m3 0h1m-51 1h1m21 0h2m3 0h1m3 0h4m3 0h1m1 0h2m3 0h3m1 0h1m-25 1h1m6 0h1m2 0h1m1 0h2m2 0h1m1 0h2m1 0h1m11 0h1m-29 1h1m1 0h1m3 0h1m1 0h2m2 0h3m1 0h1m-24 1h1m5 0h2m1 0h3m2 0h1m4 0h2m1 0h1m2 0h2m2 0h1m-21 1h1m1 0h1m3 0h3m3 0h1m1 0h1m2 0h1m2 0h1m-73 1h1m52 0h1m2 0h1m4 0h3m-20 1h1m8 0h1m3 0h1m4 0h1m4 0h1m-63 1h2m16 0h1m30 0h1m8 0h1m3 0h1m-79 1h1m67 0h1m2 0h1m11 0h1m-13 1h1m2 0h1m-69 1h1m70 0h1m-58 1h1m41 0h1m1 0h1m-1 1h1m-53 1h1m58 1h1m-1 1h1m-19 1h1m12 0h1m7 1h2m-10 2h1"/>
<path fill="none" stroke="rgb(77,77,77)" stroke-width="1" d="M194 248.5h1m-1 5h1m-10 5h1m2 3h1m-1 3h1m-6 2h1m1 1h1m6 0h1m-11 3h2m5 0h1m1 0h1m-7 1h2m6 0h1m-3 1h2m-8 1h3m3 0h2m-9 1h2m6 0h1m2 0h1m-12 1h2m3 0h1m4 0h2m-13 1h3m-5 1h1m10 0h1m-16 1h2m6 0h1m-8 1h1m1 0h1m1 0h2m2 0h3m1 0h2m-12 1h2m2 0h1m1 0h1m1 0h1m3 0h2m2 0h1m-19 1h2m1 0h4m5 0h1m-10 1h1m1 0h2m2 0h1m-9 1h2m1 0h1m1 0h2m2 0h3m-11 1h2m1 0h2m1 0h3m3 0h1m-15 1h1m2 0h2m3 0h1m4 0h2m-30 1h1m20 0h1m4 0h1m-11 1h1m14 0h2m-16 1h2m3 0h2m7 0h1m2 0h1m-18 1h1m3 0h1m4 0h1m-9 1h1m2 0h1m5 0h1m1 0h1m-19 1h1m5 0h1m11 0h1m-2 1h2m-15 1h1m9 0h1m3 0h1m-11 1h1m8 0h2m-14 1h1"/>
<path fill="none" stroke="rgb(31,31,31)" stroke-width="1" d="M188 273.5h1m-7 4h2m1 2h1m-1 1h1m-1 1h4m-7 1h1m2 0h2m1 0h1m-3 1h1m1 3h1"/>
<path fill="none" stroke="rgb(224,224,224)" stroke-width="1" d="M412 218.5h2m-55 3h2m-67 21h1m58 3h1m36 1h1m-108 8h1m0 1h1m9 7h2m50 1h1m-2 1h2m42 0h1m-40 1h1m-5 3h2m1 0h1m-23 1h1m-1 1h1m20 0h2m12 0h1m3 0h1m11 0h1m-54 1h1m11 0h1m21 0h1m23 0h1m-60 1h2m11 0h1m5 0h1m5 0h1m2 0h1m8 0h3m4 0h1m-64 1h1m2 0h2m32 0h4m3 0h1m11 0h3m25 0h1m19 0h1m-96 1h2m28 0h1m4 0h1m13 0h1m1 0h1m3 0h1m11 0h1m-67 1h1m22 0h1m14 0h1m3 0h1m1 0h1m2 0h1m2 0h1m1 0h2m8 0h1m13 0h1m-99 1h1m36 0h2m1 0h1m9 0h1m6 0h1m1 0h1m3 0h1m2 0h1m4 0h1m2 0h1m15 0h1m7 0h1m-99 1h2m11 0h1m11 0h1m3 0h1m6 0h1m1 0h2m11 0h1m2 0h1m2 0h1m6 0h1m4 0h1m1 0h1m2 0h1m1 0h1m15 0h1m-95 1h1m3 0h1m10 0h1m7 0h2m1 0h1m5 0h1m17 0h3m3 0h1m1 0h1m4 0h1m4 0h4m8 0h1m2 0h2m-85 1h2m18 0h1m24 0h2m2 0h1m1 0h3m1 0h3m1 0h2m4 0h1m1 0h1m9 0h1m2 0h2m1 0h3m2 0h2m-69 1h1m8 0h1m3 0h1m2 0h1m4 0h1m5 0h1m1 0h1m5 0h2m5 0h1m4 0h4m1 0h1m4 0h1m1 0h1m3 0h3m2 0h2m-67 1h1m4 0h1m6 0h1m5 0h1m1 0h2m1 0h1m4 0h3m6 0h1m4 0h1m3 0h2m4 0h1m9 0h1m3 0h1m-72 1h2m2 0h2m18 0h1m1 0h1m1 0h1m1 0h2m4 0h1m3 0h1m5 0h1m3 0h1m1 0h1m2 0h1m1 0h1m2 0h1m1 0h1m1 0h1m1 0h1m-67 1h1m11 0h1m8 0h2m6 0h1m1 0h2m1 0h1m14 0h1m6 0h2m1 0h1m7 0h2m4 0h2m-78 1h2m3 0h1m3 0h3m1 0h1m1 0h1m3 0h1m5 0h1m1 0h1m5 0h2m22 0h2m2 0h2m2 0h1m5 0h1m1 0h3m1 0h1m17 0h1m-96 1h1m1 0h1m6 0h1m1 0h1m2 0h1m6 0h1m2 0h1m5 0h1m12 0h1m9 0h2m1 0h1m13 0h1m-73 1h1m9 0h1m6 0h1m1 0h1m6 0h3m1 0h1m4 0h1m8 0h1m8 0h1m5 0h1m2 0h1m6 0h1m2 0h1m1 0h1m-65 1h1m6 0h3m1 0h3m1 0h4m2 0h1m4 0h3m1 0h2m18 0h1m8 0h1m3 0h1m-79 1h1m1 0h2m20 0h6m1 0h3m1 0h1m2 0h1m1 0h1m1 0h1m15 0h1m7 0h1m3 0h2m1 0h1m4 0h1m3 0h1m7 0h1m-95 1h1m5 0h2m5 0h1m12 0h2m1 0h2m15 0h1m16 0h1m2 0h1m3 0h1m1 0h1m-73 1h1m14 0h1m6 0h1m2 0h1m4 0h1m1 0h1m11 0h1m19 0h2m2 0h1m2 0h2m1 0h1m2 0h2m-62 1h2m2 0h1m1 0h1m2 0h1m1 0h1m9 0h1m2 0h1m15 0h1m6 0h1m1 0h1m3 0h1m2 0h1m1 0h1m-79 1h1m2 0h1m1 0h1m6 0h1m1 0h1m2 0h1m2 0h2m3 0h1m2 0h1m1 0h1m7 0h1m13 0h1m6 0h1m4 0h3m6 0h1m-74 1h1m16 0h1m3 0h1m9 0h1m1 0h1m5 0h1m2 0h1m2 0h1m2 0h1m11 0h1m4 0h1m2 0h2m2 0h1m2 0h1m-68 1h1m5 0h1m4 0h2m2 0h1m5 0h1m4 0h1m3 0h1m4 0h1m2 0h1m8 0h1m2 0h1m6 0h1m2 0h2m1 0h2m4 0h1m4 0h1m-84 1h1m7 0h2m16 0h1m6 0h3m4 0h1m3 0h2m9 0h1m2 0h2m1 0h2m8 0h2m9 0h1m7 0h2m-87 1h1m21 0h1m2 0h1m8 0h1m2 0h1m6 0h2m4 0h1m2 0h2m3 0h1m2 0h1m1 0h2m7 0h1m1 0h1m-55 1h1m3 0h1m4 0h1m2 0h2m1 0h1m4 0h5m1 0h1m1 0h1m2 0h1m1 0h1m3 0h2m3 0h2m8 0h3m-83 1h1m31 0h2m3 0h2m6 0h4m3 0h1m4 0h3m5 0h1m5 0h1m21 0h1m7 0h2m-90 1h2m7 0h1m3 0h1m10 0h2m2 0h1m3 0h3m3 0h1m7 0h1m3 0h1m1 0h1m1 0h1m1 0h2m1 0h3m3 0h1m4 0h2m16 0h1m-89 1h2m7 0h2m2 0h2m17 0h4m1 0h1m2 0h1m13 0h3m3 0h1m1 0h2m6 0h2m-59 1h1m1 0h1m3 0h1m7 0h2m1 0h1m5 0h1m13 0h1m16 0h1m-95 1h1m14 0h1m1 0h2m11 0h1m3 0h1m11 0h2m6 0h4m6 0h2m4 0h1m15 0h1m13 0h1m-84 1h1m5 0h1m11 0h1m5 0h1m5 0h2m10 0h1m5 0h2m4 0h1m-48 1h1m7 0h1m7 0h1m1 0h1m1 0h1m2 0h2m3 0h1m11 0h1m1 0h2m13 0h1m-68 1h1m9 0h2m5 0h1m9 0h1m1 0h1m1 0h1m2 0h3m2 0h1m1 0h1m10 0h2m10 0h1m1 0h1m3 0h1m5 0h2m-79 1h1m1 0h2m23 0h1m2 0h1m6 0h1m8 0h1m18 0h2m4 0h1m5 0h2m-63 1h1m25 0h1m2 0h2m12 0h2m-74 1h1m30 0h1m24 0h1m1 0h1m13 0h2m-73 1h1m3 0h1m26 0h1m13 0h1m1 0h2m7 0h1m21 0h1m6 0h1m8 0h1m-63 1h1m11 0h2m6 0h1m1 0h2m22 0h1m-54 1h2m27 0h2m1 0h2m-8 1h1m-2 1h1m6 0h1m7 0h2m18 0h1m-35 1h1m-4 1h1m23 0h1m45 0h2m-78 1h1m4 0h1m15 0h1m54 0h1m-91 1h1m25 0h1m8 0h1m53 0h2m-2 1h2m-76 1h1m-2 2h1m18 0h1m-2 1h1"/>
<path fill="none" stroke="rgb(178,178,178)" stroke-width="1" d="M346 227.5h1m-24 12h1m-30 4h1m59 2h1m-27 1h1m60 0h1m-57 5h1m-52 3h1m0 1h1m105 8h1m-40 3h1m-5 1h1m11 0h1m31 0h1m-65 2h1m20 0h3m16 0h1m-39 1h1m30 0h1m19 0h1m-32 1h1m13 0h1m4 0h2m13 0h1m-33 1h1m13 0h1m24 0h1m-86 1h1m45 0h1m1 0h1m11 0h1m4 0h1m-32 1h1m4 0h1m6 0h1m13 0h1m17 0h1m26 0h1m-78 1h1m2 0h1m16 0h1m3 0h1m1 0h1m4 0h1m12 0h1m-29 1h2m3 0h1m3 0h2m9 0h1m15 0h1m-64 1h1m8 0h1m2 0h1m8 0h2m2 0h1m2 0h1m6 0h1m11 0h1m17 0h1m-69 1h1m9 0h2m10 0h1m3 0h1m1 0h1m3 0h2m5 0h1m5 0h3m13 0h2m-86 1h1m18 0h2m1 0h1m5 0h1m11 0h1m5 0h1m7 0h1m4 0h1m4 0h2m3 0h4m5 0h1m-63 1h1m17 0h3m2 0h3m9 0h1m6 0h1m2 0h3m4 0h1m4 0h1m1 0h1m7 0h1m-84 1h1m16 0h2m11 0h1m2 0h2m4 0h1m12 0h2m5 0h3m6 0h1m2 0h1m1 0h4m2 0h2m4 0h1m-69 1h2m7 0h1m13 0h1m6 0h2m1 0h1m1 0h3m3 0h3m8 0h1m1 0h1m4 0h1m5 0h2m-68 1h3m5 0h1m1 0h1m11 0h1m6 0h1m4 0h1m4 0h1m6 0h2m1 0h1m1 0h3m3 0h1m1 0h2m4 0h1m-64 1h1m7 0h1m6 0h1m4 0h1m11 0h1m1 0h1m2 0h1m4 0h1m3 0h1m2 0h1m3 0h2m2 0h2m5 0h1m5 0h1m17 0h1m-109 1h1m12 0h1m18 0h2m3 0h1m1 0h1m1 0h2m2 0h1m1 0h1m5 0h2m6 0h1m1 0h1m1 0h2m2 0h1m1 0h1m2 0h2m1 0h1m7 0h1m-70 1h1m13 0h1m1 0h1m3 0h1m7 0h1m5 0h1m3 0h1m5 0h1m1 0h3m1 0h2m2 0h1m1 0h1m2 0h2m1 0h3m4 0h1m-74 1h1m19 0h1m13 0h1m7 0h1m9 0h1m1 0h2m1 0h2m3 0h1m2 0h3m6 0h1m-41 1h1m1 0h1m2 0h1m8 0h2m4 0h1m1 0h3m1 0h1m2 0h1m5 0h1m6 0h1m7 0h1m-90 1h1m9 0h1m10 0h1m5 0h1m13 0h1m1 0h3m7 0h3m5 0h1m2 0h2m1 0h1m2 0h1m2 0h1m2 0h1m-69 1h1m3 0h1m2 0h1m7 0h1m1 0h1m1 0h1m1 0h1m3 0h2m3 0h2m1 0h6m5 0h2m5 0h1m5 0h1m6 0h1m-52 1h1m3 0h1m7 0h1m1 0h2m4 0h1m5 0h2m9 0h1m2 0h1m2 0h1m2 0h2m1 0h1m1 0h1m-76 1h1m1 0h1m4 0h1m1 0h1m17 0h1m5 0h1m4 0h1m1 0h4m2 0h2m1 0h1m7 0h1m1 0h1m4 0h2m4 0h3m2 0h1m-82 1h2m29 0h1m7 0h2m5 0h1m4 0h1m5 0h1m1 0h3m1 0h1m2 0h1m1 0h1m4 0h1m5 0h1m4 0h2m-63 1h2m10 0h1m5 0h2m3 0h1m4 0h1m1 0h2m3 0h2m1 0h2m1 0h3m1 0h1m3 0h1m12 0h1m-70 1h1m16 0h1m16 0h1m2 0h1m3 0h2m5 0h2m2 0h1m5 0h1m4 0h1m-79 1h1m20 0h1m3 0h2m6 0h2m3 0h1m6 0h1m5 0h1m1 0h1m2 0h1m4 0h1m3 0h1m4 0h3m5 0h1m3 0h1m-78 1h1m24 0h1m8 0h1m2 0h1m9 0h1m1 0h2m1 0h1m1 0h2m3 0h1m-29 1h4m6 0h1m10 0h1m1 0h1m3 0h2m14 0h1m7 0h1m-91 1h1m41 0h1m15 0h1m20 0h1m13 0h1m-78 1h1m17 0h1m19 0h1m3 0h2m3 0h1m10 0h1m-89 1h1m14 0h1m46 0h1m1 0h1m8 0h1m4 0h1m-78 1h1m27 0h1m5 0h1m5 0h1m6 0h1m9 0h2m34 0h1m-71 1h1m7 0h1m25 0h1m5 0h1m2 0h1m2 0h1m1 0h1m13 0h1m13 0h1m-60 1h1m3 0h1m5 0h1m1 0h1m8 0h1m2 0h1m18 0h1m-72 1h1m18 0h1m11 0h1m11 0h1m7 0h1m16 0h1m-53 1h1m12 0h1m1 0h1m10 0h1m2 0h1m-19 1h1m16 0h1m7 0h1m18 0h1m-84 1h1m30 0h1m22 0h1m1 0h1m1 0h1m4 0h1m9 0h1m-42 1h1m-29 1h1m48 0h1m31 0h1m8 0h1m-33 1h1m-6 1h1m27 0h1m-35 1h1m16 1h1m-27 1h1m4 0h1m-20 1h1m43 0h1m-19 2h1m-13 2h2m16 1h1"/>
<path fill="none" stroke="rgb(128,128,128)" stroke-width="1" d="M364 275.5h1m-33 1h1m15 1h1m6 0h1m9 0h1m-29 1h1m15 0h1m1 0h2m-4 1h1m1 0h1m7 0h1m-21 1h3m3 0h2m4 0h1m9 0h1m1 0h1m-47 1h1m17 0h1m6 0h1m3 0h2m12 0h2m-27 1h1m11 0h2m15 0h2m5 0h1m-30 1h2m1 0h1m1 0h2m2 0h1m5 0h1m-20 1h3m1 0h1m9 0h3m2 0h1m1 0h1m-35 1h1m9 0h1m1 0h1m1 0h3m2 0h2m3 0h1m3 0h1m7 0h2m2 0h1m-40 1h1m3 0h1m4 0h1m1 0h2m1 0h3m3 0h1m1 0h1m1 0h1m6 0h1m8 0h1m-33 1h1m10 0h2m2 0h1m4 0h1m7 0h1m6 0h1m-44 1h1m5 0h1m10 0h1m2 0h3m3 0h2m2 0h1m6 0h1m-44 1h1m21 0h2m3 0h2m3 0h1m1 0h1m1 0h1m2 0h1m10 0h1m-51 1h1m22 0h5m2 0h3m1 0h1m4 0h1m-46 1h1m19 0h3m2 0h3m3 0h3m4 0h2m5 0h1m-28 1h1m4 0h2m7 0h2m3 0h1m7 0h2m-29 1h1m2 0h2m3 0h4m7 0h2m10 0h1m-28 1h2m4 0h2m-17 1h1m13 0h2m10 0h2m-13 1h1m2 0h1m9 0h1m-8 2h1m-37 1h1m36 0h1m6 0h1m-8 1h1m-38 1h1m0 4h1m22 3h1"/>
<path fill="none" stroke="rgb(77,77,77)" stroke-width="1" d="M366 280.5h1m-18 1h1m11 1h1m-19 1h1m4 0h1m4 0h2m1 0h1m-9 1h2m1 0h4m5 0h1m-28 1h1m8 0h1m8 0h2m-15 1h1m12 0h1m10 0h1m3 0h1m-23 1h1m3 0h1m2 0h2m1 0h1m1 0h1m4 0h1m-17 1h2m8 0h1m-8 1h1m1 0h1m6 0h1m-1 1h1m-16 1h1m3 0h1m7 0h2m3 0h1m-13 1h1m1 0h1m-1 1h1m-6 3h1m8 1h1m-15 1h2m12 0h1"/>
<path fill="none" stroke="rgb(31,31,31)" stroke-width="1" d="M355 287.5h1m-8 1h2m-1 1h1m-2 3h1"/>
<line x1="64" y1="45.2" x2="64" y2="173.2" stroke="#808080" stroke-width="2"/>
<polygon points="64,37.2 59.5,45.7 68.5,45.7" fill="#000"/>
<line x1="63" y1="172.2" x2="431" y2="172.2" stroke="#808080" stroke-width="2"/>
<polygon points="440,172.2 430.5,167.89999999999998 430.5,176.5" fill="#000"/>
<line x1="64" y1="209.8" x2="64" y2="342.6" stroke="#808080" stroke-width="2"/>
<polygon points="64,201.8 59.5,210.3 68.5,210.3" fill="#000"/>
<line x1="63" y1="341.6" x2="431" y2="341.6" stroke="#808080" stroke-width="2"/>
<polygon points="440,341.6 430.5,337.3 430.5,345.90000000000003" fill="#000"/>
<line x1="84" y1="47.3" x2="232.6" y2="47.3" stroke="#6a6a6a" stroke-width="1"/>
<line x1="232.6" y1="47.3" x2="232.6" y2="153.3" stroke="#6a6a6a" stroke-width="1"/>
<line x1="83.2" y1="153.3" x2="232.6" y2="153.3" stroke="#6a6a6a" stroke-width="1"/>
<line x1="83.2" y1="48" x2="83.2" y2="153" stroke="#aaa" stroke-width="1" stroke-dasharray="1 3"/>
<line x1="147" y1="94.5" x2="175" y2="94.5" stroke="#6a6a6a" stroke-width="1"/>
<line x1="271.5" y1="46.3" x2="418.7" y2="46.3" stroke="#6a6a6a" stroke-width="1"/>
<line x1="418.7" y1="46.3" x2="418.7" y2="153.3" stroke="#6a6a6a" stroke-width="1"/>
<line x1="271.5" y1="153.3" x2="418.7" y2="153.3" stroke="#999" stroke-width="1" stroke-dasharray="1 3"/>
<line x1="271.4" y1="47" x2="271.4" y2="153" stroke="#aaa" stroke-width="1" stroke-dasharray="1 3"/>
<line x1="271.8" y1="93.8" x2="332.4" y2="93.8" stroke="#6a6a6a" stroke-width="1"/>
<line x1="329" y1="114.1" x2="362.5" y2="114.1" stroke="#6a6a6a" stroke-width="1"/>
<line x1="85" y1="215.4" x2="233" y2="215.4" stroke="#6a6a6a" stroke-width="1"/>
<line x1="169.6" y1="228" x2="169.6" y2="275.3" stroke="#6a6a6a" stroke-width="1"/>
<line x1="113" y1="275.3" x2="204.7" y2="275.3" stroke="#6a6a6a" stroke-width="1"/>
<line x1="177.7" y1="275.3" x2="177.7" y2="322.7" stroke="#6a6a6a" stroke-width="1"/>
<line x1="204.7" y1="275.3" x2="204.7" y2="322.7" stroke="#6a6a6a" stroke-width="1"/>
<line x1="84" y1="322.7" x2="232.7" y2="322.7" stroke="#6a6a6a" stroke-width="1"/>
<line x1="83.2" y1="216" x2="83.2" y2="322" stroke="#aaa" stroke-width="1" stroke-dasharray="1 3"/>
<line x1="273.6" y1="217.6" x2="420.2" y2="217.6" stroke="#6a6a6a" stroke-width="1"/>
<line x1="357" y1="230.6" x2="392.1" y2="230.6" stroke="#6a6a6a" stroke-width="1"/>
<line x1="357.3" y1="230.6" x2="357.3" y2="275.5" stroke="#6a6a6a" stroke-width="1"/>
<line x1="300.6" y1="277" x2="300.6" y2="322.9" stroke="#6a6a6a" stroke-width="1"/>
<line x1="300.6" y1="322.9" x2="365.9" y2="322.9" stroke="#6a6a6a" stroke-width="1"/>
<line x1="365.9" y1="276.5" x2="365.9" y2="322.9" stroke="#6a6a6a" stroke-width="1"/>
<line x1="392.4" y1="276.5" x2="392.4" y2="322.3" stroke="#6a6a6a" stroke-width="1"/>
<line x1="274" y1="218" x2="274" y2="322" stroke="#aaa" stroke-width="1" stroke-dasharray="1 3"/>
<line x1="59.4" y1="441" x2="59.4" y2="868.2" stroke="#555" stroke-width="1.2"/>
<polygon points="59.4,433.4 55,441.7 63.8,441.7" fill="#000"/>
<line x1="59" y1="868.2" x2="426" y2="868.2" stroke="#666" stroke-width="1.5"/>
<polygon points="435.5,868.6 425.5,864.4 425.5,872.8" fill="#000"/>
<line x1="230.8" y1="457.5" x2="230.8" y2="559.6" stroke="#6a6a6a" stroke-width="1"/>
<line x1="82.7" y1="457.5" x2="82.7" y2="559.6" stroke="#bbb" stroke-width="1" stroke-dasharray="1 3"/>
<polyline fill="none" stroke="#d4d4d4" stroke-width="1.3" stroke-linejoin="round" points="82.7,554.5 83.2,555.6 83.7,555.4 84.2,553.7 84.7,553.8 85.2,553.5 85.7,554.4 86.2,553.7 86.7,554.4 87.2,551.9 87.7,554.9 88.2,553.3 88.7,553.9 89.2,553.0 89.7,552.7 90.2,553.4 90.7,553.5 91.2,552.2 91.7,552.0 92.2,552.6 92.7,550.7 93.2,549.7 93.7,551.6 94.2,550.1 94.7,548.4 95.2,549.4 95.7,549.6 96.2,548.5 96.7,547.8 97.2,549.4 97.7,550.3 98.2,548.6 98.7,547.7 99.2,548.9 99.7,549.1 100.2,547.4 100.7,548.2 101.2,548.5 101.7,546.4 102.2,545.1 102.7,546.4 103.2,545.9 103.7,546.8 104.2,542.8 104.7,543.4 105.2,542.7 105.7,540.9 106.2,543.4 106.7,543.7 107.2,541.1 107.7,543.9 108.2,542.3 108.7,541.3 109.2,540.2 109.7,540.5 110.2,535.7 110.7,538.6 111.2,537.9 111.7,532.6 112.2,536.1 112.7,534.3 113.2,535.8 113.7,532.8 114.2,533.1 114.7,533.3 115.2,530.2 115.7,532.7 116.2,530.7 116.7,531.4 117.2,528.7 117.7,531.9 118.2,530.6 118.7,528.5 119.2,530.0 119.7,531.1 120.2,531.9 120.7,524.1 121.2,529.3 121.7,528.1 122.2,527.3 122.7,525.8 123.2,531.3 123.7,526.2 124.2,530.7 124.7,533.1 125.2,527.8 125.7,531.4 126.2,530.2 126.7,534.2 127.2,537.6 127.7,539.4 128.2,533.0 128.7,536.4 129.2,539.7 129.7,542.3 130.2,541.3 130.7,540.3 131.2,543.1 131.7,543.2 132.2,543.6 132.7,543.5 133.2,545.8 133.7,546.4 134.2,546.5 134.7,547.0 135.2,546.2 135.7,548.0 136.2,550.7 136.7,549.3 137.2,548.3 137.7,552.0 138.2,551.4 138.7,553.6 139.2,551.7 139.7,551.6 140.2,551.0 140.7,554.2 141.2,555.8 141.7,553.0 142.2,553.5 142.7,554.8 143.2,553.7 143.7,554.4 144.2,554.5 144.7,555.2 145.2,556.1 145.7,555.4 146.2,556.3 146.7,555.5 147.2,556.2 147.7,554.7 148.2,555.4 148.7,557.0 149.2,556.3 149.7,557.2 150.2,557.3 150.7,557.8 151.2,557.5 151.7,557.7 152.2,557.1 152.7,556.8 153.2,556.8 153.7,557.0 154.2,556.7 154.7,557.0 155.2,557.3 155.7,557.5 156.2,557.2 156.7,556.5 157.2,557.4 157.7,557.6 158.2,558.1 158.7,557.8 159.2,557.3 159.7,557.3 160.2,558.6 160.7,558.0 161.2,558.6 161.7,558.7 162.2,557.4 162.7,558.0 163.2,558.1 163.7,558.1 164.2,558.1 164.7,558.0 165.2,558.1 165.7,557.4 166.2,558.0 166.7,557.8 167.2,558.2 167.7,558.0 168.2,558.4 168.7,558.5 169.2,558.4 169.7,558.4 170.2,558.3 170.7,558.2 171.2,558.3 171.7,558.2 172.2,558.5 172.7,558.3 173.2,558.5 173.7,557.9 174.2,558.6 174.7,558.1 175.2,558.1 175.7,558.3 176.2,558.2 176.7,558.5 177.2,558.2 177.7,558.1 178.2,558.1 178.7,558.8 179.2,558.4 179.7,558.1 180.2,558.4 180.7,558.0 181.2,559.0 181.7,558.0 182.2,558.6 182.7,558.6 183.2,558.0 183.7,558.5 184.2,558.8 184.7,558.6 185.2,558.6 185.7,558.8 186.2,558.5 186.7,558.6 187.2,558.5 187.7,558.7 188.2,558.2 188.7,558.7 189.2,558.4 189.7,558.2 190.2,558.6 190.7,559.0 191.2,558.8 191.7,558.4 192.2,558.8 192.7,558.4 193.2,558.5 193.7,558.6 194.2,557.9 194.7,558.6 195.2,558.3 195.7,558.4 196.2,558.2 196.7,558.2 197.2,558.4 197.7,558.9 198.2,559.1 198.7,558.6 199.2,558.9 199.7,558.6 200.2,558.1 200.7,558.7 201.2,558.8 201.7,558.5 202.2,558.8 202.7,558.8 203.2,558.4 203.7,558.3 204.2,558.6 204.7,558.6 205.2,558.6 205.7,559.0 206.2,559.2 206.7,558.6 207.2,558.9 207.7,559.0 208.2,558.9 208.7,559.0 209.2,558.6 209.7,559.0 210.2,559.3 210.7,559.0 211.2,558.6 211.7,559.0 212.2,559.1 212.7,558.9 213.2,558.6 213.7,559.2 214.2,558.5 214.7,559.0 215.2,558.8 215.7,558.5 216.2,559.2 216.7,558.9 217.2,558.5 217.7,559.0 218.2,558.7 218.7,558.3 219.2,558.7 219.7,559.0 220.2,559.1 220.7,558.9 221.2,558.9 221.7,559.0 222.2,558.8 222.7,559.2 223.2,559.0 223.7,559.0 224.2,559.1 224.7,558.6 225.2,558.7 225.7,559.3 226.2,559.1 226.7,558.9 227.2,559.1 227.7,558.8 228.2,559.1 228.7,558.8 229.2,559.1 229.7,558.6"/>
<polyline fill="none" stroke="#1a1a1a" stroke-width="1.2" stroke-linejoin="round" points="82.7,559.2 83.2,559.1 83.7,559.5 84.2,559.1 84.7,558.9 85.2,559.4 85.7,559.5 86.2,559.1 86.7,559.2 87.2,559.6 87.7,559.1 88.2,559.2 88.7,559.5 89.2,559.4 89.7,559.6 90.2,559.5 90.7,559.2 91.2,559.3 91.7,559.2 92.2,559.4 92.7,559.4 93.2,559.0 93.7,559.4 94.2,559.1 94.7,559.3 95.2,559.2 95.7,559.3 96.2,558.7 96.7,559.4 97.2,559.0 97.7,559.5 98.2,559.0 98.7,559.1 99.2,559.1 99.7,559.3 100.2,559.5 100.7,559.3 101.2,559.2 101.7,559.3 102.2,559.2 102.7,559.3 103.2,559.1 103.7,559.2 104.2,559.6 104.7,559.5 105.2,558.9 105.7,559.2 106.2,559.3 106.7,559.1 107.2,559.1 107.7,559.2 108.2,559.4 108.7,559.5 109.2,559.2 109.7,559.4 110.2,559.2 110.7,559.3 111.2,559.2 111.7,558.9 112.2,559.1 112.7,559.3 113.2,559.5 113.7,559.3 114.2,559.6 114.7,559.4 115.2,559.2 115.7,559.1 116.2,559.6 116.7,559.2 117.2,559.0 117.7,559.3 118.2,559.1 118.7,559.3 119.2,558.9 119.7,559.4 120.2,559.4 120.7,559.1 121.2,559.0 121.7,559.2 122.2,559.4 122.7,559.1 123.2,559.2 123.7,559.4 124.2,559.3 124.7,559.2 125.2,559.3 125.7,559.2 126.2,559.1 126.7,559.2 127.2,558.6 127.7,559.2 128.2,559.4 128.7,559.3 129.2,559.1 129.7,559.5 130.2,559.5 130.7,559.0 131.2,559.2 131.7,559.1 132.2,559.0 132.7,559.4 133.2,559.4 133.7,559.0 134.2,559.1 134.7,559.3 135.2,559.1 135.7,559.4 136.2,559.2 136.7,559.2 137.2,558.8 137.7,559.4 138.2,558.7 138.7,559.1 139.2,559.4 139.7,559.2 140.2,559.0 140.7,559.1 141.2,558.9 141.7,559.4 142.2,559.2 142.7,558.9 143.2,559.5 143.7,559.0 144.2,559.2 144.7,558.7 145.2,559.1 145.7,559.3 146.2,559.2 146.7,559.0 147.2,559.4 147.7,558.9 148.2,559.4 148.7,559.1 149.2,559.1 149.7,559.2 150.2,559.2 150.7,559.5 151.2,559.2 151.7,558.8 152.2,559.2 152.7,558.9 153.2,559.0 153.7,559.0 154.2,559.1 154.7,559.4 155.2,559.1 155.7,559.0 156.2,558.9 156.7,558.9 157.2,559.0 157.7,559.1 158.2,559.1 158.7,559.3 159.2,558.6 159.7,559.3 160.2,559.2 160.7,558.6 161.2,559.3 161.7,559.1 162.2,558.8 162.7,559.2 163.2,558.8 163.7,559.0 164.2,559.2 164.7,559.3 165.2,559.3 165.7,559.0 166.2,558.6 166.7,558.9 167.2,559.1 167.7,559.2 168.2,559.1 168.7,558.8 169.2,559.0 169.7,558.8 170.2,559.1 170.7,558.7 171.2,559.0 171.7,559.2 172.2,558.8 172.7,559.3 173.2,558.5 173.7,559.2 174.2,558.8 174.7,559.0 175.2,559.1 175.7,559.2 176.2,558.7 176.7,559.1 177.2,558.7 177.7,559.1 178.2,559.0 178.7,559.1 179.2,558.8 179.7,559.0 180.2,558.8 180.7,559.0 181.2,559.2 181.7,559.2 182.2,559.0 182.7,559.3 183.2,559.1 183.7,559.3 184.2,559.1 184.7,559.0 185.2,559.1 185.7,559.3 186.2,559.0 186.7,559.1 187.2,558.9 187.7,559.2 188.2,558.9 188.7,558.6 189.2,559.2 189.7,558.7 190.2,559.3 190.7,558.9 191.2,558.7 191.7,558.8 192.2,559.1 192.7,558.9 193.2,559.1 193.7,558.8 194.2,559.2 194.7,559.0 195.2,559.0 195.7,559.6 196.2,558.6 196.7,558.8 197.2,557.9 197.7,558.0 198.2,557.5 198.7,557.4 199.2,556.5 199.7,553.1 200.2,552.0 200.7,547.1 201.2,544.0 201.7,537.1 202.2,533.0 202.7,529.2 203.2,524.6 203.7,522.7 204.2,520.4 204.7,507.1 205.2,498.6 205.7,492.6 206.2,486.2 206.7,479.0 207.2,493.7 207.7,491.0 208.2,502.9 208.7,508.5 209.2,521.6 209.7,530.4 210.2,534.7 210.7,542.5 211.2,547.1 211.7,554.5 212.2,555.5 212.7,556.1 213.2,556.9 213.7,558.2 214.2,558.4 214.7,558.6 215.2,558.2 215.7,558.6 216.2,558.7 216.7,558.4 217.2,558.9 217.7,558.4 218.2,558.5 218.7,558.6 219.2,558.9 219.7,558.8 220.2,559.1 220.7,558.2 221.2,558.8 221.7,559.2 222.2,558.8 222.7,559.3 223.2,558.9 223.7,559.6 224.2,558.6 224.7,559.3 225.2,559.4 225.7,559.4 226.2,558.8 226.7,559.4 227.2,558.7 227.7,559.2 228.2,559.5 228.7,559.4 229.2,559.4 229.7,559.4"/>
<line x1="152.6" y1="520.6" x2="231" y2="520.6" stroke="#000" stroke-width="3.2"/>
<line x1="152.6" y1="513.1" x2="152.6" y2="528.1" stroke="#000" stroke-width="2.8"/>
<line x1="231" y1="515.6" x2="231" y2="529.1" stroke="#000" stroke-width="2.8"/>
<line x1="413.5" y1="458.4" x2="413.5" y2="559.6" stroke="#6a6a6a" stroke-width="1"/>
<line x1="264.7" y1="458.4" x2="264.7" y2="559.6" stroke="#bbb" stroke-width="1" stroke-dasharray="1 3"/>
<polyline fill="none" stroke="#d4d4d4" stroke-width="1.3" stroke-linejoin="round" points="264.7,544.5 265.2,545.9 265.7,545.3 266.2,545.1 266.7,546.3 267.2,541.7 267.7,542.4 268.2,541.1 268.7,542.9 269.2,544.5 269.7,542.6 270.2,543.3 270.7,539.1 271.2,542.4 271.7,540.4 272.2,544.7 272.7,542.9 273.2,542.8 273.7,540.9 274.2,541.8 274.7,541.7 275.2,539.7 275.7,539.2 276.2,539.6 276.7,538.5 277.2,538.3 277.7,538.6 278.2,537.6 278.7,540.1 279.2,535.5 279.7,539.7 280.2,536.8 280.7,536.7 281.2,534.8 281.7,536.3 282.2,535.3 282.7,535.4 283.2,533.2 283.7,533.7 284.2,536.5 284.7,532.8 285.2,530.0 285.7,532.5 286.2,529.4 286.7,530.2 287.2,529.5 287.7,526.5 288.2,522.2 288.7,525.1 289.2,526.4 289.7,523.5 290.2,524.7 290.7,525.2 291.2,520.4 291.7,523.7 292.2,523.6 292.7,521.2 293.2,520.4 293.7,519.2 294.2,521.2 294.7,514.6 295.2,513.0 295.7,513.6 296.2,508.3 296.7,505.4 297.2,506.2 297.7,508.7 298.2,508.0 298.7,501.1 299.2,499.0 299.7,502.7 300.2,502.1 300.7,501.5 301.2,502.7 301.7,503.5 302.2,499.4 302.7,499.6 303.2,493.2 303.7,491.9 304.2,495.4 304.7,495.9 305.2,495.2 305.7,494.0 306.2,493.8 306.7,493.1 307.2,483.7 307.7,486.3 308.2,489.5 308.7,489.2 309.2,481.2 309.7,489.6 310.2,483.3 310.7,483.2 311.2,484.3 311.7,485.5 312.2,477.3 312.7,485.3 313.2,481.6 313.7,478.0 314.2,479.3 314.7,471.9 315.2,478.0 315.7,482.3 316.2,480.6 316.7,483.3 317.2,485.3 317.7,487.3 318.2,492.0 318.7,489.8 319.2,490.6 319.7,495.5 320.2,502.7 320.7,497.3 321.2,502.3 321.7,498.3 322.2,509.2 322.7,509.5 323.2,513.5 323.7,511.7 324.2,511.2 324.7,518.5 325.2,520.2 325.7,518.3 326.2,519.0 326.7,525.4 327.2,525.6 327.7,533.5 328.2,528.0 328.7,529.8 329.2,532.4 329.7,531.0 330.2,534.2 330.7,540.7 331.2,538.6 331.7,538.4 332.2,538.0 332.7,541.8 333.2,542.6 333.7,542.6 334.2,542.2 334.7,544.0 335.2,544.7 335.7,543.8 336.2,546.4 336.7,543.0 337.2,545.0 337.7,547.0 338.2,548.0 338.7,546.7 339.2,548.9 339.7,550.0 340.2,549.4 340.7,549.2 341.2,550.2 341.7,549.8 342.2,548.0 342.7,549.4 343.2,551.4 343.7,548.6 344.2,550.2 344.7,549.8 345.2,549.4 345.7,549.2 346.2,550.4 346.7,550.5 347.2,550.4 347.7,548.1 348.2,549.4 348.7,550.0 349.2,550.7 349.7,550.2 350.2,550.3 350.7,550.5 351.2,550.0 351.7,547.8 352.2,548.8 352.7,547.8 353.2,546.1 353.7,547.4 354.2,552.5 354.7,548.9 355.2,548.0 355.7,550.4 356.2,553.1 356.7,551.7 357.2,552.6 357.7,552.3 358.2,552.9 358.7,554.6 359.2,554.4 359.7,554.0 360.2,555.1 360.7,555.5 361.2,554.6 361.7,555.3 362.2,555.5 362.7,555.0 363.2,556.7 363.7,555.9 364.2,555.9 364.7,555.4 365.2,556.0 365.7,558.0 366.2,556.7 366.7,557.8 367.2,557.5 367.7,558.0 368.2,558.1 368.7,557.6 369.2,557.9 369.7,558.1 370.2,558.2 370.7,558.3 371.2,558.2 371.7,558.7 372.2,559.0 372.7,558.8 373.2,558.5 373.7,558.9 374.2,558.9 374.7,559.1 375.2,559.5 375.7,558.9 376.2,559.0 376.7,558.8 377.2,558.9 377.7,558.9 378.2,559.5 378.7,559.1 379.2,558.9 379.7,559.6 380.2,558.7 380.7,559.3 381.2,559.3 381.7,559.2 382.2,559.0 382.7,559.0 383.2,559.0 383.7,559.3 384.2,558.4 384.7,558.9 385.2,559.1 385.7,558.9 386.2,558.6 386.7,559.0 387.2,558.9 387.7,559.3 388.2,559.5 388.7,559.1 389.2,558.6 389.7,559.1 390.2,558.9 390.7,559.3 391.2,559.6 391.7,559.2 392.2,559.6 392.7,559.6 393.2,559.3 393.7,558.9 394.2,559.2 394.7,558.8 395.2,559.5 395.7,559.2 396.2,559.6 396.7,559.3 397.2,558.7 397.7,559.4 398.2,559.5 398.7,559.6 399.2,559.0 399.7,559.0 400.2,559.3 400.7,558.9 401.2,558.9 401.7,558.9 402.2,559.6 402.7,559.1 403.2,559.0 403.7,559.1 404.2,559.3 404.7,559.6 405.2,559.5 405.7,559.5 406.2,559.3 406.7,559.3 407.2,559.1 407.7,558.9 408.2,559.6 408.7,559.2 409.2,559.6 409.7,559.2 410.2,559.3 410.7,559.3 411.2,558.9 411.7,559.3 412.2,559.4 412.7,559.6"/>
<polyline fill="none" stroke="#1a1a1a" stroke-width="1.2" stroke-linejoin="round" points="264.7,545.9 265.2,551.1 265.7,555.9 266.2,555.9 266.7,555.4 267.2,556.0 267.7,556.1 268.2,554.2 268.7,555.0 269.2,556.0 269.7,555.1 270.2,555.8 270.7,557.6 271.2,555.1 271.7,556.1 272.2,556.7 272.7,555.7 273.2,556.0 273.7,556.6 274.2,555.2 274.7,559.4 275.2,556.4 275.7,556.8 276.2,556.5 276.7,554.2 277.2,556.5 277.7,555.2 278.2,556.7 278.7,556.1 279.2,556.0 279.7,554.3 280.2,554.5 280.7,554.7 281.2,555.2 281.7,555.2 282.2,556.4 282.7,554.3 283.2,555.1 283.7,556.4 284.2,554.0 284.7,557.1 285.2,554.0 285.7,554.7 286.2,553.1 286.7,554.6 287.2,554.4 287.7,553.5 288.2,549.8 288.7,552.4 289.2,550.6 289.7,550.9 290.2,547.7 290.7,549.7 291.2,551.5 291.7,550.4 292.2,550.5 292.7,552.0 293.2,552.2 293.7,550.7 294.2,550.7 294.7,550.6 295.2,545.7 295.7,543.2 296.2,545.1 296.7,548.4 297.2,548.8 297.7,542.6 298.2,548.1 298.7,548.9 299.2,542.9 299.7,543.3 300.2,543.3 300.7,544.9 301.2,542.7 301.7,541.9 302.2,540.0 302.7,537.4 303.2,542.9 303.7,539.6 304.2,538.2 304.7,537.3 305.2,535.6 305.7,538.0 306.2,535.4 306.7,533.2 307.2,538.1 307.7,537.5 308.2,536.3 308.7,530.8 309.2,532.4 309.7,536.0 310.2,530.4 310.7,530.1 311.2,530.9 311.7,531.3 312.2,522.9 312.7,527.0 313.2,523.0 313.7,526.0 314.2,523.5 314.7,522.1 315.2,519.6 315.7,519.2 316.2,518.8 316.7,518.3 317.2,515.1 317.7,517.6 318.2,521.3 318.7,511.3 319.2,513.3 319.7,510.3 320.2,516.5 320.7,513.7 321.2,512.2 321.7,507.9 322.2,509.3 322.7,510.4 323.2,501.8 323.7,500.7 324.2,507.4 324.7,502.8 325.2,504.1 325.7,501.7 326.2,498.5 326.7,496.7 327.2,504.1 327.7,500.4 328.2,500.1 328.7,503.1 329.2,503.9 329.7,505.6 330.2,500.4 330.7,497.5 331.2,512.5 331.7,506.3 332.2,513.7 332.7,513.8 333.2,516.6 333.7,526.2 334.2,519.6 334.7,527.0 335.2,526.9 335.7,530.2 336.2,530.6 336.7,530.5 337.2,530.6 337.7,531.7 338.2,535.4 338.7,535.7 339.2,543.3 339.7,536.7 340.2,542.2 340.7,544.8 341.2,542.5 341.7,546.8 342.2,547.3 342.7,544.8 343.2,545.2 343.7,550.2 344.2,549.8 344.7,548.7 345.2,549.7 345.7,551.0 346.2,553.7 346.7,551.3 347.2,553.5 347.7,554.4 348.2,551.9 348.7,555.6 349.2,556.9 349.7,553.9 350.2,553.1 350.7,556.2 351.2,556.7 351.7,556.1 352.2,556.2 352.7,557.1 353.2,554.8 353.7,556.6 354.2,555.9 354.7,557.7 355.2,555.9 355.7,556.6 356.2,557.1 356.7,555.4 357.2,556.5 357.7,557.5 358.2,558.8 358.7,558.4 359.2,558.5 359.7,558.7 360.2,558.5 360.7,557.9 361.2,557.2 361.7,557.0 362.2,558.8 362.7,557.2 363.2,557.3 363.7,558.4 364.2,557.7 364.7,558.4 365.2,557.7 365.7,558.3 366.2,557.6 366.7,558.5 367.2,558.0 367.7,558.9 368.2,558.0 368.7,557.4 369.2,557.8 369.7,558.7 370.2,558.4 370.7,558.2 371.2,558.3 371.7,558.6 372.2,557.8 372.7,558.5 373.2,559.2 373.7,557.1 374.2,558.0 374.7,557.7 375.2,558.5 375.7,558.5 376.2,558.3 376.7,558.4 377.2,557.7 377.7,558.4 378.2,559.3 378.7,558.8 379.2,559.1 379.7,558.2 380.2,558.9 380.7,557.7 381.2,558.5 381.7,558.6 382.2,557.7 382.7,559.0 383.2,558.1 383.7,559.6 384.2,558.9 384.7,558.5 385.2,558.5 385.7,558.7 386.2,558.2 386.7,559.2 387.2,558.3 387.7,557.9 388.2,558.3 388.7,558.8 389.2,558.3 389.7,558.1 390.2,558.6 390.7,558.8 391.2,558.5 391.7,558.8 392.2,559.1 392.7,559.1 393.2,559.2 393.7,558.6 394.2,559.2 394.7,558.9 395.2,558.2 395.7,558.9 396.2,559.6 396.7,559.1 397.2,558.3 397.7,558.2 398.2,558.8 398.7,559.6 399.2,559.0 399.7,559.6 400.2,558.8 400.7,558.7 401.2,558.5 401.7,558.1 402.2,559.0 402.7,558.7 403.2,559.3 403.7,559.4 404.2,558.6 404.7,558.7 405.2,558.6 405.7,559.1 406.2,559.2 406.7,558.4 407.2,559.2 407.7,558.4 408.2,558.9 408.7,559.1 409.2,559.4 409.7,558.9 410.2,559.3 410.7,558.9 411.2,559.1 411.7,558.1 412.2,558.7 412.7,559.6"/>
<line x1="82.7" y1="606" x2="233.2" y2="606" stroke="#6a6a6a" stroke-width="1"/>
<line x1="233.2" y1="606" x2="233.2" y2="709" stroke="#6a6a6a" stroke-width="1"/>
<line x1="82.7" y1="606" x2="82.7" y2="709" stroke="#bbb" stroke-width="1" stroke-dasharray="1 3"/>
<polyline fill="none" stroke="#d4d4d4" stroke-width="1.3" stroke-linejoin="round" points="82.7,700.8 83.2,694.0 83.7,698.7 84.2,697.0 84.7,698.2 85.2,696.4 85.7,698.0 86.2,694.8 86.7,693.5 87.2,694.6 87.7,693.9 88.2,692.1 88.7,691.7 89.2,692.8 89.7,692.2 90.2,689.5 90.7,689.1 91.2,685.9 91.7,691.4 92.2,687.3 92.7,689.6 93.2,687.2 93.7,689.5 94.2,688.1 94.7,685.1 95.2,686.7 95.7,681.2 96.2,685.0 96.7,678.7 97.2,681.5 97.7,682.1 98.2,679.3 98.7,677.0 99.2,674.9 99.7,675.0 100.2,677.2 100.7,675.8 101.2,672.1 101.7,668.7 102.2,672.4 102.7,666.1 103.2,667.4 103.7,665.8 104.2,668.9 104.7,666.9 105.2,666.8 105.7,665.6 106.2,662.4 106.7,664.9 107.2,666.6 107.7,662.0 108.2,663.2 108.7,660.4 109.2,662.9 109.7,661.2 110.2,661.4 110.7,659.5 111.2,662.8 111.7,656.7 112.2,656.4 112.7,655.3 113.2,658.4 113.7,654.4 114.2,654.0 114.7,657.9 115.2,659.7 115.7,658.5 116.2,649.6 116.7,655.1 117.2,655.3 117.7,655.4 118.2,658.2 118.7,664.9 119.2,659.4 119.7,659.2 120.2,664.1 120.7,663.4 121.2,664.6 121.7,663.4 122.2,666.3 122.7,668.4 123.2,663.4 123.7,665.3 124.2,673.1 124.7,673.7 125.2,671.7 125.7,671.7 126.2,674.9 126.7,673.9 127.2,677.1 127.7,682.7 128.2,680.6 128.7,684.0 129.2,682.1 129.7,684.3 130.2,687.3 130.7,683.0 131.2,685.9 131.7,687.3 132.2,689.0 132.7,692.2 133.2,691.7 133.7,689.0 134.2,692.1 134.7,692.1 135.2,692.6 135.7,697.4 136.2,693.1 136.7,695.3 137.2,694.3 137.7,696.9 138.2,696.5 138.7,696.5 139.2,696.6 139.7,698.6 140.2,696.1 140.7,696.7 141.2,696.6 141.7,700.1 142.2,698.2 142.7,697.4 143.2,698.3 143.7,702.0 144.2,698.9 144.7,700.2 145.2,699.9 145.7,699.4 146.2,698.8 146.7,699.3 147.2,699.4 147.7,697.4 148.2,703.1 148.7,701.3 149.2,700.5 149.7,700.2 150.2,699.7 150.7,701.8 151.2,700.6 151.7,701.5 152.2,699.5 152.7,701.6 153.2,703.4 153.7,701.0 154.2,702.3 154.7,701.6 155.2,702.8 155.7,702.9 156.2,701.9 156.7,701.4 157.2,702.3 157.7,702.2 158.2,701.6 158.7,702.8 159.2,702.9 159.7,701.7 160.2,702.5 160.7,705.5 161.2,703.6 161.7,702.8 162.2,705.0 162.7,702.1 163.2,700.0 163.7,700.5 164.2,700.8 164.7,702.5 165.2,703.1 165.7,699.8 166.2,703.1 166.7,700.6 167.2,702.1 167.7,702.2 168.2,702.1 168.7,701.6 169.2,701.7 169.7,700.2 170.2,701.6 170.7,702.3 171.2,702.2 171.7,703.9 172.2,702.2 172.7,701.7 173.2,702.9 173.7,701.6 174.2,700.2 174.7,699.5 175.2,703.3 175.7,702.8 176.2,703.4 176.7,702.5 177.2,703.3 177.7,705.0 178.2,703.8 178.7,702.8 179.2,703.6 179.7,705.4 180.2,703.6 180.7,702.6 181.2,703.1 181.7,704.0 182.2,705.8 182.7,705.4 183.2,705.0 183.7,704.9 184.2,705.8 184.7,706.0 185.2,705.9 185.7,706.3 186.2,706.2 186.7,707.7 187.2,705.8 187.7,707.2 188.2,706.9 188.7,707.8 189.2,707.6 189.7,708.0 190.2,708.2 190.7,708.1 191.2,708.3 191.7,707.6 192.2,708.3 192.7,708.0 193.2,708.1 193.7,708.5 194.2,708.4 194.7,708.6 195.2,707.4 195.7,707.8 196.2,708.3 196.7,707.8 197.2,708.0 197.7,708.6 198.2,708.3 198.7,707.8 199.2,708.2 199.7,708.3 200.2,708.1 200.7,708.1 201.2,708.2 201.7,707.7 202.2,708.2 202.7,707.9 203.2,708.3 203.7,708.3 204.2,707.9 204.7,708.3 205.2,708.3 205.7,708.2 206.2,708.4 206.7,708.1 207.2,708.1 207.7,708.2 208.2,708.2 208.7,708.5 209.2,707.6 209.7,708.1 210.2,707.7 210.7,708.1 211.2,708.3 211.7,708.2 212.2,708.5 212.7,708.3 213.2,707.5 213.7,707.9 214.2,708.7 214.7,708.7 215.2,708.3 215.7,707.8 216.2,708.8 216.7,707.7 217.2,708.4 217.7,708.3 218.2,708.4 218.7,708.0 219.2,708.2 219.7,708.6 220.2,708.2 220.7,707.9 221.2,708.3 221.7,708.4 222.2,708.3 222.7,708.1 223.2,708.5 223.7,708.3 224.2,708.0 224.7,708.4 225.2,708.4 225.7,708.4 226.2,707.9 226.7,708.2 227.2,708.5 227.7,708.7 228.2,708.5 228.7,708.5 229.2,708.6 229.7,708.7 230.2,708.8 230.7,708.6 231.2,708.3 231.7,708.6 232.2,707.9 232.7,708.5"/>
<polyline fill="none" stroke="#1a1a1a" stroke-width="1.2" stroke-linejoin="round" points="82.7,708.4 83.2,708.7 83.7,707.8 84.2,708.1 84.7,708.4 85.2,708.4 85.7,708.4 86.2,708.2 86.7,708.4 87.2,708.6 87.7,708.3 88.2,708.4 88.7,707.9 89.2,707.6 89.7,708.0 90.2,708.0 90.7,708.3 91.2,707.9 91.7,708.0 92.2,708.0 92.7,708.3 93.2,708.0 93.7,707.9 94.2,708.0 94.7,708.0 95.2,708.2 95.7,707.8 96.2,708.3 96.7,708.1 97.2,708.1 97.7,708.1 98.2,707.8 98.7,707.5 99.2,707.7 99.7,707.7 100.2,708.1 100.7,707.6 101.2,707.9 101.7,707.9 102.2,707.4 102.7,707.7 103.2,707.8 103.7,708.1 104.2,707.6 104.7,707.9 105.2,707.8 105.7,707.5 106.2,707.9 106.7,707.9 107.2,707.5 107.7,707.8 108.2,707.7 108.7,707.5 109.2,707.2 109.7,707.7 110.2,707.7 110.7,707.8 111.2,707.8 111.7,708.0 112.2,707.8 112.7,707.6 113.2,707.4 113.7,708.0 114.2,707.3 114.7,707.4 115.2,707.7 115.7,707.2 116.2,708.4 116.7,707.8 117.2,707.4 117.7,707.2 118.2,707.3 118.7,707.4 119.2,707.1 119.7,707.6 120.2,707.8 120.7,706.9 121.2,707.3 121.7,707.6 122.2,706.8 122.7,707.6 123.2,707.2 123.7,706.3 124.2,707.2 124.7,706.8 125.2,707.5 125.7,707.2 126.2,706.8 126.7,707.1 127.2,707.7 127.7,707.0 128.2,707.1 128.7,707.7 129.2,707.5 129.7,707.2 130.2,707.2 130.7,707.0 131.2,706.8 131.7,707.7 132.2,707.4 132.7,706.7 133.2,706.9 133.7,706.5 134.2,706.7 134.7,707.8 135.2,707.3 135.7,707.6 136.2,706.6 136.7,707.1 137.2,705.7 137.7,704.7 138.2,703.6 138.7,700.5 139.2,700.6 139.7,697.7 140.2,695.6 140.7,696.0 141.2,689.6 141.7,685.8 142.2,678.0 142.7,672.1 143.2,666.4 143.7,661.2 144.2,658.1 144.7,650.2 145.2,645.8 145.7,634.8 146.2,636.9 146.7,634.6 147.2,627.8 147.7,624.5 148.2,619.5 148.7,617.3 149.2,619.8 149.7,612.2 150.2,622.3 150.7,625.5 151.2,627.9 151.7,631.9 152.2,631.5 152.7,636.9 153.2,641.9 153.7,653.9 154.2,658.2 154.7,661.6 155.2,666.5 155.7,670.2 156.2,676.4 156.7,679.0 157.2,682.2 157.7,686.3 158.2,688.7 158.7,694.6 159.2,697.3 159.7,699.3 160.2,700.8 160.7,702.4 161.2,704.1 161.7,703.1 162.2,704.8 162.7,704.8 163.2,705.9 163.7,706.6 164.2,705.5 164.7,705.8 165.2,706.3 165.7,706.8 166.2,706.0 166.7,706.9 167.2,706.6 167.7,706.8 168.2,706.3 168.7,707.1 169.2,707.0 169.7,707.2 170.2,707.2 170.7,706.7 171.2,707.1 171.7,707.2 172.2,707.5 172.7,708.0 173.2,707.8 173.7,707.7 174.2,708.0 174.7,708.2 175.2,707.6 175.7,707.8 176.2,707.9 176.7,708.2 177.2,707.9 177.7,707.8 178.2,707.9 178.7,707.9 179.2,708.1 179.7,708.1 180.2,708.3 180.7,707.9 181.2,708.2 181.7,708.0 182.2,707.9 182.7,707.6 183.2,707.8 183.7,708.1 184.2,708.1 184.7,707.8 185.2,708.5 185.7,707.8 186.2,707.9 186.7,708.3 187.2,708.1 187.7,708.3 188.2,708.3 188.7,707.8 189.2,708.2 189.7,708.2 190.2,708.1 190.7,708.1 191.2,708.4 191.7,708.3 192.2,708.2 192.7,708.3 193.2,708.1 193.7,708.3 194.2,708.2 194.7,708.2 195.2,708.4 195.7,708.6 196.2,707.8 196.7,708.5 197.2,708.2 197.7,708.3 198.2,708.4 198.7,708.1 199.2,708.3 199.7,708.1 200.2,708.2 200.7,708.3 201.2,708.0 201.7,708.0 202.2,708.2 202.7,707.8 203.2,707.9 203.7,708.5 204.2,708.1 204.7,708.0 205.2,708.6 205.7,708.5 206.2,708.1 206.7,708.2 207.2,708.2 207.7,708.2 208.2,708.0 208.7,707.7 209.2,708.2 209.7,708.4 210.2,708.5 210.7,708.5 211.2,708.4 211.7,708.3 212.2,708.4 212.7,708.5 213.2,708.5 213.7,708.2 214.2,708.4 214.7,708.4 215.2,708.2 215.7,708.2 216.2,708.5 216.7,708.4 217.2,708.5 217.7,708.1 218.2,708.1 218.7,708.8 219.2,708.0 219.7,708.4 220.2,708.1 220.7,708.4 221.2,708.3 221.7,708.2 222.2,708.5 222.7,708.3 223.2,708.3 223.7,708.7 224.2,708.6 224.7,708.6 225.2,708.0 225.7,708.7 226.2,708.7 226.7,708.5 227.2,708.2 227.7,707.8 228.2,708.0 228.7,708.4 229.2,708.6 229.7,708.4 230.2,708.6 230.7,708.5 231.2,708.3 231.7,708.8 232.2,708.6 232.7,708.8"/>
<line x1="134.3" y1="667.5" x2="232.6" y2="667.5" stroke="#000" stroke-width="3.2"/>
<line x1="134.3" y1="660.0" x2="134.3" y2="675.0" stroke="#000" stroke-width="2.8"/>
<line x1="232.6" y1="662.5" x2="232.6" y2="676.0" stroke="#000" stroke-width="2.8"/>
<line x1="264.7" y1="606.5" x2="412.8" y2="606.5" stroke="#6a6a6a" stroke-width="1"/>
<line x1="412.8" y1="606.5" x2="412.8" y2="709" stroke="#6a6a6a" stroke-width="1"/>
<line x1="265.2" y1="606.5" x2="265.2" y2="709" stroke="#777" stroke-width="1"/>
<polyline fill="none" stroke="#d4d4d4" stroke-width="1.3" stroke-linejoin="round" points="264.7,701.0 265.2,698.8 265.7,697.8 266.2,695.9 266.7,698.8 267.2,700.5 267.7,698.7 268.2,699.1 268.7,699.5 269.2,696.8 269.7,701.2 270.2,696.2 270.7,697.7 271.2,700.6 271.7,696.5 272.2,696.6 272.7,695.4 273.2,696.2 273.7,692.4 274.2,694.2 274.7,697.3 275.2,694.8 275.7,693.7 276.2,694.3 276.7,694.1 277.2,693.3 277.7,693.7 278.2,689.8 278.7,693.1 279.2,690.7 279.7,692.7 280.2,691.1 280.7,688.6 281.2,689.3 281.7,686.8 282.2,689.6 282.7,686.9 283.2,687.7 283.7,683.1 284.2,687.6 284.7,683.0 285.2,685.5 285.7,683.7 286.2,678.8 286.7,681.0 287.2,678.3 287.7,679.5 288.2,680.6 288.7,677.2 289.2,676.4 289.7,669.4 290.2,670.9 290.7,669.6 291.2,669.8 291.7,663.6 292.2,665.0 292.7,662.9 293.2,655.8 293.7,655.3 294.2,657.8 294.7,651.3 295.2,649.3 295.7,654.0 296.2,650.4 296.7,647.0 297.2,646.3 297.7,643.0 298.2,640.8 298.7,639.4 299.2,640.7 299.7,642.3 300.2,634.8 300.7,634.6 301.2,632.6 301.7,627.4 302.2,631.2 302.7,632.3 303.2,625.2 303.7,630.3 304.2,624.2 304.7,629.5 305.2,629.9 305.7,625.1 306.2,620.3 306.7,627.2 307.2,624.5 307.7,625.8 308.2,630.5 308.7,638.5 309.2,636.0 309.7,638.0 310.2,635.1 310.7,641.6 311.2,641.6 311.7,650.4 312.2,650.3 312.7,654.8 313.2,658.0 313.7,660.6 314.2,666.7 314.7,668.5 315.2,669.5 315.7,672.7 316.2,675.6 316.7,679.4 317.2,678.6 317.7,683.4 318.2,681.2 318.7,683.9 319.2,683.4 319.7,688.7 320.2,686.3 320.7,687.4 321.2,691.6 321.7,690.3 322.2,690.9 322.7,694.6 323.2,693.8 323.7,696.5 324.2,695.5 324.7,697.6 325.2,698.3 325.7,697.3 326.2,699.9 326.7,697.3 327.2,697.8 327.7,698.5 328.2,700.0 328.7,698.7 329.2,698.8 329.7,700.0 330.2,701.4 330.7,699.8 331.2,699.2 331.7,700.8 332.2,701.9 332.7,701.0 333.2,702.0 333.7,700.3 334.2,702.5 334.7,702.9 335.2,703.5 335.7,703.3 336.2,703.8 336.7,702.3 337.2,703.9 337.7,701.9 338.2,703.0 338.7,704.6 339.2,704.4 339.7,702.2 340.2,704.4 340.7,703.6 341.2,703.4 341.7,704.4 342.2,704.4 342.7,705.5 343.2,703.3 343.7,704.3 344.2,704.6 344.7,703.4 345.2,705.8 345.7,706.3 346.2,704.6 346.7,705.5 347.2,705.1 347.7,705.6 348.2,705.0 348.7,706.1 349.2,704.7 349.7,706.5 350.2,705.8 350.7,707.3 351.2,704.5 351.7,705.6 352.2,704.9 352.7,705.7 353.2,706.1 353.7,705.2 354.2,704.9 354.7,704.8 355.2,706.1 355.7,706.8 356.2,706.7 356.7,706.1 357.2,705.5 357.7,705.9 358.2,705.2 358.7,705.2 359.2,706.9 359.7,706.1 360.2,706.5 360.7,706.2 361.2,707.1 361.7,707.2 362.2,706.0 362.7,706.3 363.2,706.1 363.7,707.3 364.2,707.3 364.7,706.5 365.2,707.9 365.7,706.7 366.2,706.1 366.7,705.7 367.2,706.7 367.7,707.0 368.2,706.6 368.7,707.1 369.2,707.6 369.7,707.0 370.2,707.5 370.7,707.9 371.2,707.4 371.7,706.9 372.2,707.4 372.7,707.5 373.2,708.2 373.7,707.1 374.2,706.7 374.7,707.5 375.2,707.6 375.7,707.3 376.2,707.8 376.7,707.7 377.2,708.1 377.7,707.3 378.2,707.4 378.7,707.7 379.2,707.6 379.7,708.2 380.2,708.0 380.7,707.9 381.2,708.4 381.7,708.1 382.2,708.3 382.7,708.2 383.2,708.0 383.7,708.0 384.2,708.0 384.7,707.7 385.2,708.0 385.7,708.3 386.2,708.2 386.7,707.8 387.2,708.8 387.7,707.8 388.2,708.3 388.7,708.3 389.2,708.5 389.7,707.9 390.2,708.1 390.7,708.1 391.2,708.5 391.7,708.3 392.2,708.3 392.7,708.3 393.2,708.7 393.7,708.4 394.2,708.5 394.7,708.0 395.2,708.4 395.7,707.9 396.2,708.5 396.7,708.3 397.2,708.0 397.7,708.0 398.2,708.3 398.7,708.3 399.2,708.1 399.7,708.2 400.2,708.2 400.7,708.2 401.2,708.3 401.7,708.4 402.2,708.7 402.7,708.5 403.2,708.2 403.7,708.8 404.2,708.7 404.7,708.3 405.2,708.7 405.7,708.3 406.2,708.2 406.7,708.2 407.2,708.8 407.7,708.5 408.2,708.6 408.7,708.5 409.2,708.4 409.7,708.6 410.2,708.7 410.7,708.8 411.2,708.3 411.7,708.8"/>
<polyline fill="none" stroke="#1a1a1a" stroke-width="1.2" stroke-linejoin="round" points="264.7,709.1 265.2,709.2 265.7,708.6 266.2,709.5 266.7,709.6 267.2,709.6 267.7,708.7 268.2,709.0 268.7,708.9 269.2,708.8 269.7,709.1 270.2,708.5 270.7,708.3 271.2,708.5 271.7,708.4 272.2,709.1 272.7,708.7 273.2,709.1 273.7,708.9 274.2,708.4 274.7,708.0 275.2,708.3 275.7,709.0 276.2,708.8 276.7,708.3 277.2,708.7 277.7,708.3 278.2,707.6 278.7,709.4 279.2,708.5 279.7,707.6 280.2,707.0 280.7,708.8 281.2,708.3 281.7,708.5 282.2,709.2 282.7,709.6 283.2,708.0 283.7,708.8 284.2,708.0 284.7,706.8 285.2,708.7 285.7,707.9 286.2,707.7 286.7,707.8 287.2,707.2 287.7,709.1 288.2,709.6 288.7,708.6 289.2,707.2 289.7,706.1 290.2,708.0 290.7,706.6 291.2,707.1 291.7,707.9 292.2,706.8 292.7,707.1 293.2,706.7 293.7,706.4 294.2,707.7 294.7,706.7 295.2,708.2 295.7,706.6 296.2,707.2 296.7,706.9 297.2,705.2 297.7,707.6 298.2,706.9 298.7,708.4 299.2,708.2 299.7,705.6 300.2,706.9 300.7,706.3 301.2,707.6 301.7,705.8 302.2,706.1 302.7,705.4 303.2,705.6 303.7,705.4 304.2,704.9 304.7,705.5 305.2,704.1 305.7,704.1 306.2,702.8 306.7,703.5 307.2,705.2 307.7,702.6 308.2,703.4 308.7,702.0 309.2,703.6 309.7,704.6 310.2,703.7 310.7,702.5 311.2,703.8 311.7,702.0 312.2,703.2 312.7,700.6 313.2,699.9 313.7,705.6 314.2,700.2 314.7,701.2 315.2,698.8 315.7,699.5 316.2,694.3 316.7,695.8 317.2,696.6 317.7,699.4 318.2,697.1 318.7,693.0 319.2,694.7 319.7,694.5 320.2,689.3 320.7,691.9 321.2,695.9 321.7,690.2 322.2,685.8 322.7,682.5 323.2,683.8 323.7,680.1 324.2,687.3 324.7,675.3 325.2,675.8 325.7,671.2 326.2,665.6 326.7,666.1 327.2,666.7 327.7,667.8 328.2,669.8 328.7,654.2 329.2,656.4 329.7,661.9 330.2,653.1 330.7,649.7 331.2,655.0 331.7,652.2 332.2,649.0 332.7,647.9 333.2,653.0 333.7,652.7 334.2,653.5 334.7,657.1 335.2,654.2 335.7,658.7 336.2,662.1 336.7,664.8 337.2,669.7 337.7,665.1 338.2,669.4 338.7,665.4 339.2,671.7 339.7,666.2 340.2,673.4 340.7,669.4 341.2,670.4 341.7,672.9 342.2,676.9 342.7,670.7 343.2,678.3 343.7,680.3 344.2,679.1 344.7,676.0 345.2,684.1 345.7,678.3 346.2,681.9 346.7,675.0 347.2,676.4 347.7,680.9 348.2,683.2 348.7,686.1 349.2,686.1 349.7,686.8 350.2,688.2 350.7,684.8 351.2,681.0 351.7,684.4 352.2,683.4 352.7,682.4 353.2,683.0 353.7,687.5 354.2,682.0 354.7,683.9 355.2,682.8 355.7,686.8 356.2,685.2 356.7,686.1 357.2,685.5 357.7,690.7 358.2,685.2 358.7,687.8 359.2,687.3 359.7,690.4 360.2,689.3 360.7,697.4 361.2,693.0 361.7,697.4 362.2,695.7 362.7,698.4 363.2,700.1 363.7,702.3 364.2,700.2 364.7,698.6 365.2,707.7 365.7,705.2 366.2,705.9 366.7,705.3 367.2,706.0 367.7,705.2 368.2,705.4 368.7,708.1 369.2,708.0 369.7,706.7 370.2,707.5 370.7,707.5 371.2,707.4 371.7,708.9 372.2,707.7 372.7,709.2 373.2,707.7 373.7,708.0 374.2,707.3 374.7,707.3 375.2,708.6 375.7,707.0 376.2,708.3 376.7,708.8 377.2,707.9 377.7,708.5 378.2,707.7 378.7,708.0 379.2,709.1 379.7,707.8 380.2,708.0 380.7,708.5 381.2,707.8 381.7,708.9 382.2,708.7 382.7,709.5 383.2,708.0 383.7,708.5 384.2,708.3 384.7,709.0 385.2,708.3 385.7,707.9 386.2,708.4 386.7,707.4 387.2,709.3 387.7,709.0 388.2,706.5 388.7,708.0 389.2,709.2 389.7,709.3 390.2,709.1 390.7,708.8 391.2,707.8 391.7,708.0 392.2,708.7 392.7,709.2 393.2,708.9 393.7,708.4 394.2,708.4 394.7,708.7 395.2,708.1 395.7,707.8 396.2,708.7 396.7,708.7 397.2,708.3 397.7,708.3 398.2,707.9 398.7,709.4 399.2,708.1 399.7,708.9 400.2,709.0 400.7,708.6 401.2,708.9 401.7,708.8 402.2,708.4 402.7,708.8 403.2,708.7 403.7,709.3 404.2,708.2 404.7,708.9 405.2,708.5 405.7,708.9 406.2,708.5 406.7,708.6 407.2,708.0 407.7,708.7 408.2,708.5 408.7,709.0 409.2,708.5 409.7,708.3 410.2,708.9 410.7,709.6 411.2,708.9 411.7,708.5"/>
<line x1="317.8" y1="667.7" x2="412.6" y2="667.7" stroke="#000" stroke-width="3.2"/>
<line x1="317.8" y1="660.2" x2="317.8" y2="675.2" stroke="#000" stroke-width="2.8"/>
<line x1="412.6" y1="662.7" x2="412.6" y2="676.2" stroke="#000" stroke-width="2.8"/>
<line x1="82.7" y1="747.7" x2="233.2" y2="747.7" stroke="#6a6a6a" stroke-width="1"/>
<line x1="233.2" y1="747.7" x2="233.2" y2="850.6" stroke="#6a6a6a" stroke-width="1"/>
<line x1="82.7" y1="747.7" x2="82.7" y2="850.6" stroke="#bbb" stroke-width="1" stroke-dasharray="1 3"/>
<polyline fill="none" stroke="#d4d4d4" stroke-width="1.3" stroke-linejoin="round" points="82.7,818.3 83.2,819.0 83.7,821.5 84.2,819.2 84.7,821.1 85.2,821.4 85.7,816.0 86.2,821.0 86.7,816.7 87.2,822.2 87.7,818.4 88.2,814.8 88.7,815.8 89.2,815.2 89.7,814.6 90.2,815.9 90.7,812.5 91.2,814.0 91.7,810.1 92.2,806.7 92.7,801.8 93.2,800.5 93.7,804.8 94.2,805.6 94.7,807.1 95.2,801.0 95.7,802.4 96.2,799.4 96.7,800.0 97.2,794.6 97.7,802.9 98.2,798.6 98.7,800.3 99.2,801.6 99.7,801.1 100.2,796.2 100.7,804.1 101.2,801.7 101.7,801.2 102.2,798.3 102.7,796.1 103.2,796.5 103.7,800.9 104.2,802.3 104.7,800.4 105.2,807.8 105.7,804.0 106.2,806.3 106.7,807.2 107.2,803.1 107.7,809.7 108.2,809.4 108.7,806.1 109.2,812.3 109.7,814.3 110.2,815.6 110.7,817.5 111.2,813.4 111.7,817.8 112.2,818.9 112.7,821.9 113.2,823.7 113.7,827.4 114.2,828.2 114.7,826.9 115.2,831.7 115.7,834.5 116.2,833.9 116.7,832.7 117.2,835.5 117.7,837.6 118.2,837.0 118.7,840.3 119.2,840.3 119.7,843.9 120.2,845.1 120.7,845.4 121.2,845.0 121.7,846.9 122.2,846.8 122.7,847.5 123.2,848.7 123.7,847.8 124.2,847.5 124.7,848.7 125.2,849.2 125.7,849.2 126.2,848.8 126.7,849.5 127.2,848.3 127.7,849.6 128.2,849.6 128.7,848.4 129.2,848.8 129.7,848.1 130.2,848.2 130.7,849.0 131.2,848.3 131.7,848.9 132.2,849.1 132.7,849.0 133.2,849.3 133.7,849.8 134.2,849.1 134.7,849.5 135.2,849.7 135.7,849.0 136.2,849.0 136.7,848.4 137.2,849.4 137.7,849.7 138.2,849.5 138.7,850.1 139.2,849.9 139.7,849.7 140.2,849.5 140.7,849.3 141.2,849.5 141.7,849.7 142.2,849.5 142.7,849.4 143.2,849.4 143.7,849.7 144.2,849.0 144.7,849.4 145.2,849.6 145.7,849.7 146.2,849.7 146.7,849.5 147.2,849.4 147.7,849.2 148.2,849.9 148.7,849.7 149.2,849.6 149.7,849.4 150.2,849.2 150.7,849.9 151.2,849.6 151.7,849.7 152.2,850.1 152.7,849.1 153.2,849.4 153.7,849.7 154.2,849.8 154.7,849.3 155.2,849.6 155.7,849.4 156.2,849.4 156.7,849.7 157.2,849.7 157.7,849.9 158.2,849.8 158.7,850.0 159.2,849.4 159.7,849.7 160.2,849.2 160.7,849.1 161.2,849.2 161.7,849.8 162.2,849.7 162.7,849.2 163.2,850.0 163.7,849.9 164.2,849.6 164.7,849.6 165.2,849.6 165.7,849.3 166.2,850.3 166.7,849.5 167.2,849.6 167.7,849.6 168.2,849.5 168.7,849.4 169.2,849.8 169.7,849.3 170.2,849.4 170.7,849.4 171.2,849.9 171.7,849.4 172.2,849.4 172.7,849.8 173.2,849.4 173.7,849.6 174.2,849.9 174.7,849.8 175.2,849.7 175.7,850.1 176.2,849.6 176.7,849.5 177.2,849.2 177.7,849.7 178.2,849.9 178.7,849.5 179.2,850.2 179.7,850.0 180.2,850.0 180.7,849.4 181.2,849.8 181.7,849.8 182.2,849.1 182.7,849.7 183.2,849.7 183.7,849.2 184.2,849.9 184.7,850.3 185.2,850.0 185.7,849.5 186.2,849.7 186.7,850.1 187.2,849.5 187.7,849.9 188.2,849.8 188.7,849.8 189.2,850.2 189.7,849.3 190.2,850.1 190.7,849.8 191.2,849.7 191.7,849.3 192.2,849.9 192.7,849.7 193.2,848.9 193.7,849.4 194.2,849.4 194.7,849.5 195.2,849.6 195.7,849.6 196.2,850.2 196.7,850.1 197.2,849.8 197.7,850.2 198.2,850.3 198.7,850.0 199.2,849.4 199.7,849.9 200.2,850.2 200.7,849.5 201.2,849.8 201.7,850.1 202.2,850.2 202.7,850.1 203.2,849.9 203.7,849.8 204.2,849.7 204.7,850.1 205.2,850.1 205.7,849.7 206.2,849.7 206.7,850.2 207.2,850.1 207.7,849.6 208.2,849.4 208.7,849.9 209.2,850.1 209.7,850.1 210.2,850.1 210.7,849.4 211.2,849.9 211.7,849.8 212.2,849.7 212.7,850.3 213.2,849.9 213.7,850.0 214.2,849.8 214.7,850.1 215.2,850.2 215.7,849.8 216.2,849.9 216.7,849.8 217.2,849.6 217.7,849.9 218.2,850.0 218.7,849.9 219.2,849.9 219.7,849.4 220.2,850.0 220.7,850.0 221.2,850.3 221.7,849.8 222.2,849.5 222.7,849.4 223.2,849.8 223.7,849.9 224.2,850.0 224.7,849.5 225.2,849.8 225.7,850.2 226.2,850.0 226.7,849.9 227.2,849.9 227.7,849.5 228.2,849.6 228.7,849.8 229.2,850.3 229.7,850.3 230.2,849.9 230.7,850.2 231.2,850.1 231.7,850.3 232.2,849.8 232.7,850.1"/>
<polyline fill="none" stroke="#1a1a1a" stroke-width="1.2" stroke-linejoin="round" points="82.7,849.6 83.2,850.1 83.7,850.4 84.2,849.4 84.7,849.7 85.2,849.7 85.7,850.0 86.2,850.0 86.7,849.5 87.2,850.0 87.7,850.1 88.2,850.5 88.7,849.9 89.2,850.3 89.7,849.8 90.2,849.4 90.7,850.0 91.2,849.3 91.7,850.0 92.2,850.0 92.7,850.2 93.2,849.5 93.7,849.8 94.2,849.7 94.7,850.1 95.2,850.4 95.7,849.7 96.2,849.2 96.7,849.4 97.2,849.7 97.7,849.1 98.2,850.5 98.7,850.6 99.2,849.5 99.7,850.0 100.2,849.8 100.7,850.1 101.2,850.3 101.7,849.6 102.2,850.2 102.7,849.2 103.2,849.6 103.7,850.5 104.2,849.3 104.7,849.2 105.2,849.3 105.7,849.3 106.2,849.6 106.7,849.6 107.2,849.7 107.7,849.5 108.2,849.5 108.7,849.5 109.2,849.4 109.7,849.1 110.2,849.8 110.7,850.6 111.2,849.1 111.7,849.6 112.2,848.9 112.7,848.5 113.2,847.8 113.7,849.5 114.2,848.9 114.7,848.1 115.2,849.2 115.7,850.0 116.2,848.5 116.7,848.1 117.2,848.2 117.7,848.9 118.2,850.4 118.7,848.4 119.2,849.5 119.7,847.6 120.2,847.5 120.7,847.7 121.2,847.7 121.7,848.5 122.2,849.5 122.7,849.2 123.2,847.7 123.7,847.9 124.2,848.1 124.7,847.7 125.2,847.5 125.7,849.4 126.2,847.3 126.7,848.7 127.2,847.5 127.7,848.1 128.2,847.1 128.7,848.9 129.2,848.3 129.7,848.3 130.2,846.9 130.7,848.0 131.2,845.9 131.7,845.8 132.2,847.1 132.7,846.8 133.2,845.8 133.7,846.4 134.2,847.6 134.7,844.9 135.2,845.6 135.7,845.9 136.2,843.3 136.7,844.9 137.2,846.7 137.7,843.8 138.2,844.7 138.7,843.3 139.2,845.0 139.7,844.7 140.2,844.5 140.7,845.3 141.2,841.8 141.7,844.7 142.2,844.6 142.7,841.4 143.2,842.3 143.7,840.6 144.2,840.3 144.7,841.0 145.2,840.8 145.7,840.2 146.2,837.5 146.7,839.8 147.2,839.4 147.7,840.3 148.2,839.9 148.7,837.6 149.2,838.2 149.7,835.4 150.2,838.3 150.7,833.0 151.2,832.3 151.7,832.2 152.2,830.3 152.7,829.8 153.2,831.5 153.7,835.6 154.2,828.8 154.7,830.4 155.2,828.5 155.7,830.6 156.2,828.9 156.7,822.2 157.2,823.5 157.7,827.2 158.2,823.6 158.7,814.4 159.2,812.0 159.7,812.8 160.2,810.1 160.7,811.9 161.2,810.3 161.7,805.4 162.2,804.7 162.7,802.7 163.2,799.0 163.7,785.6 164.2,797.2 164.7,788.9 165.2,782.4 165.7,777.6 166.2,769.1 166.7,773.4 167.2,779.2 167.7,788.3 168.2,791.0 168.7,789.4 169.2,802.8 169.7,805.6 170.2,808.2 170.7,814.5 171.2,818.6 171.7,823.1 172.2,827.6 172.7,832.4 173.2,840.2 173.7,842.0 174.2,845.3 174.7,849.0 175.2,849.4 175.7,848.8 176.2,849.4 176.7,849.3 177.2,849.1 177.7,849.8 178.2,849.1 178.7,849.6 179.2,848.8 179.7,849.0 180.2,849.0 180.7,848.5 181.2,849.5 181.7,849.6 182.2,849.6 182.7,849.3 183.2,849.6 183.7,848.8 184.2,848.9 184.7,848.5 185.2,849.4 185.7,849.4 186.2,849.4 186.7,849.2 187.2,849.9 187.7,850.1 188.2,850.1 188.7,849.2 189.2,849.9 189.7,849.7 190.2,849.8 190.7,850.3 191.2,849.5 191.7,849.9 192.2,849.8 192.7,850.0 193.2,849.9 193.7,849.9 194.2,850.2 194.7,850.0 195.2,850.5 195.7,850.6 196.2,849.9 196.7,849.5 197.2,850.6 197.7,849.6 198.2,849.9 198.7,849.5 199.2,850.3 199.7,850.6 200.2,849.7 200.7,849.8 201.2,849.8 201.7,850.1 202.2,850.5 202.7,850.6 203.2,850.2 203.7,850.3 204.2,850.2 204.7,849.7 205.2,850.0 205.7,849.6 206.2,849.8 206.7,850.4 207.2,849.8 207.7,850.0 208.2,850.5 208.7,849.9 209.2,850.4 209.7,850.5 210.2,850.0 210.7,850.2 211.2,849.9 211.7,850.6 212.2,850.4 212.7,850.0 213.2,850.6 213.7,850.4 214.2,850.0 214.7,850.2 215.2,850.2 215.7,850.2 216.2,850.1 216.7,850.5 217.2,849.6 217.7,850.3 218.2,849.9 218.7,850.5 219.2,849.7 219.7,850.5 220.2,849.9 220.7,850.0 221.2,850.6 221.7,850.4 222.2,849.8 222.7,850.0 223.2,850.2 223.7,849.9 224.2,850.1 224.7,850.6 225.2,850.3 225.7,850.6 226.2,850.4 226.7,850.1 227.2,850.6 227.7,850.4 228.2,850.4 228.7,850.6 229.2,850.5 229.7,849.9 230.2,850.6 230.7,849.9 231.2,850.2 231.7,849.6 232.2,849.9 232.7,849.8"/>
<line x1="128.8" y1="801.3" x2="232.6" y2="801.3" stroke="#000" stroke-width="3.2"/>
<line x1="128.8" y1="793.8" x2="128.8" y2="808.8" stroke="#000" stroke-width="2.8"/>
<line x1="232.6" y1="796.3" x2="232.6" y2="809.8" stroke="#000" stroke-width="2.8"/>
<line x1="414.2" y1="748.6" x2="414.2" y2="850.6" stroke="#6a6a6a" stroke-width="1"/>
<line x1="264.7" y1="748.6" x2="264.7" y2="850.6" stroke="#bbb" stroke-width="1" stroke-dasharray="1 3"/>
<polyline fill="none" stroke="#d4d4d4" stroke-width="1.3" stroke-linejoin="round" points="264.7,837.5 265.2,839.0 265.7,839.4 266.2,839.3 266.7,840.2 267.2,836.9 267.7,838.1 268.2,836.6 268.7,834.9 269.2,835.7 269.7,836.8 270.2,835.1 270.7,836.0 271.2,837.8 271.7,836.8 272.2,836.6 272.7,836.2 273.2,835.2 273.7,832.5 274.2,836.8 274.7,832.8 275.2,835.3 275.7,834.7 276.2,835.0 276.7,835.0 277.2,834.0 277.7,835.8 278.2,832.2 278.7,835.4 279.2,831.3 279.7,835.8 280.2,832.9 280.7,834.2 281.2,836.0 281.7,829.8 282.2,832.7 282.7,834.1 283.2,834.3 283.7,834.8 284.2,833.2 284.7,832.7 285.2,831.7 285.7,831.6 286.2,831.0 286.7,832.3 287.2,830.5 287.7,831.0 288.2,832.4 288.7,831.3 289.2,828.2 289.7,828.3 290.2,829.5 290.7,826.6 291.2,823.9 291.7,825.1 292.2,827.7 292.7,825.8 293.2,825.1 293.7,826.9 294.2,822.9 294.7,829.2 295.2,824.3 295.7,823.2 296.2,827.6 296.7,820.7 297.2,821.6 297.7,822.1 298.2,819.8 298.7,820.8 299.2,822.4 299.7,821.1 300.2,820.3 300.7,822.2 301.2,823.8 301.7,822.7 302.2,814.2 302.7,822.1 303.2,820.9 303.7,820.4 304.2,817.5 304.7,818.9 305.2,819.7 305.7,817.3 306.2,823.3 306.7,823.5 307.2,822.5 307.7,821.5 308.2,827.2 308.7,826.7 309.2,828.4 309.7,826.5 310.2,832.9 310.7,829.5 311.2,834.5 311.7,828.9 312.2,834.1 312.7,835.0 313.2,832.4 313.7,836.6 314.2,837.0 314.7,837.9 315.2,839.8 315.7,840.4 316.2,843.2 316.7,844.3 317.2,845.1 317.7,845.2 318.2,846.1 318.7,848.2 319.2,847.3 319.7,848.0 320.2,848.2 320.7,849.2 321.2,849.8 321.7,850.2 322.2,850.1 322.7,850.2 323.2,849.9 323.7,850.2 324.2,849.7 324.7,850.0 325.2,850.3 325.7,849.7 326.2,850.2 326.7,850.1 327.2,849.7 327.7,849.5 328.2,849.6 328.7,849.7 329.2,850.1 329.7,850.1 330.2,850.4 330.7,850.6 331.2,849.9 331.7,849.5 332.2,849.6 332.7,849.5 333.2,849.8 333.7,849.9 334.2,850.4 334.7,849.6 335.2,850.0 335.7,850.0 336.2,850.0 336.7,849.9 337.2,850.6 337.7,850.0 338.2,850.1 338.7,850.3 339.2,850.1 339.7,850.6 340.2,849.7 340.7,850.0 341.2,849.9 341.7,850.0 342.2,850.3 342.7,849.9 343.2,849.5 343.7,850.1 344.2,849.8 344.7,850.2 345.2,850.1 345.7,850.6 346.2,850.2 346.7,849.8 347.2,850.2 347.7,850.4 348.2,850.1 348.7,850.1 349.2,850.0 349.7,850.0 350.2,849.8 350.7,850.4 351.2,850.2 351.7,849.7 352.2,850.4 352.7,850.1 353.2,850.2 353.7,850.1 354.2,850.4 354.7,849.5 355.2,850.1 355.7,850.3 356.2,850.1 356.7,849.6 357.2,849.8 357.7,850.2 358.2,850.5 358.7,849.6 359.2,850.0 359.7,850.2 360.2,850.2 360.7,850.3 361.2,850.5 361.7,850.4 362.2,849.7 362.7,850.1 363.2,849.8 363.7,850.1 364.2,850.6 364.7,850.4 365.2,850.6 365.7,850.5 366.2,850.5 366.7,850.4 367.2,850.0 367.7,850.1 368.2,850.3 368.7,850.4 369.2,850.3 369.7,849.9 370.2,849.9 370.7,849.9 371.2,850.6 371.7,850.1 372.2,850.4 372.7,850.2 373.2,850.1 373.7,850.1 374.2,850.1 374.7,850.2 375.2,850.4 375.7,849.8 376.2,850.2 376.7,850.1 377.2,850.1 377.7,850.4 378.2,850.6 378.7,849.8 379.2,850.2 379.7,850.5 380.2,850.4 380.7,849.7 381.2,850.3 381.7,850.1 382.2,850.1 382.7,850.4 383.2,849.9 383.7,850.3 384.2,850.5 384.7,850.0 385.2,849.9 385.7,850.6 386.2,849.9 386.7,850.6 387.2,850.0 387.7,850.3 388.2,850.1 388.7,850.3 389.2,850.3 389.7,849.9 390.2,850.2 390.7,850.5 391.2,850.0 391.7,849.6 392.2,850.3 392.7,850.0 393.2,850.3 393.7,850.1 394.2,850.0 394.7,850.2 395.2,850.3 395.7,850.3 396.2,849.9 396.7,849.9 397.2,849.9 397.7,850.6 398.2,850.3 398.7,850.0 399.2,850.2 399.7,850.6 400.2,849.9 400.7,850.1 401.2,850.5 401.7,850.5 402.2,850.4 402.7,850.0 403.2,850.3 403.7,849.6 404.2,850.2 404.7,850.1 405.2,850.1 405.7,850.6 406.2,850.2 406.7,850.2 407.2,850.5 407.7,850.6 408.2,850.0 408.7,850.5 409.2,850.2 409.7,849.8 410.2,850.1 410.7,850.4 411.2,850.2 411.7,850.2 412.2,850.3 412.7,850.2 413.2,850.2 413.7,850.0"/>
<polyline fill="none" stroke="#1a1a1a" stroke-width="1.2" stroke-linejoin="round" points="264.7,850.5 265.2,850.3 265.7,850.3 266.2,850.2 266.7,850.1 267.2,850.1 267.7,850.5 268.2,850.6 268.7,850.5 269.2,850.4 269.7,850.4 270.2,850.3 270.7,850.6 271.2,850.2 271.7,850.6 272.2,850.3 272.7,850.3 273.2,850.1 273.7,850.4 274.2,850.7 274.7,850.3 275.2,850.3 275.7,850.4 276.2,850.6 276.7,850.6 277.2,850.2 277.7,850.1 278.2,850.1 278.7,850.3 279.2,849.9 279.7,850.7 280.2,850.2 280.7,850.3 281.2,850.7 281.7,850.1 282.2,850.3 282.7,850.2 283.2,850.4 283.7,850.2 284.2,850.4 284.7,850.1 285.2,850.5 285.7,850.2 286.2,850.0 286.7,850.3 287.2,849.8 287.7,850.6 288.2,850.4 288.7,850.4 289.2,850.3 289.7,850.5 290.2,850.3 290.7,850.2 291.2,850.1 291.7,850.3 292.2,850.6 292.7,850.0 293.2,850.4 293.7,850.3 294.2,850.3 294.7,850.6 295.2,850.4 295.7,850.0 296.2,850.2 296.7,849.9 297.2,850.3 297.7,850.0 298.2,850.5 298.7,850.3 299.2,849.7 299.7,850.5 300.2,850.1 300.7,850.1 301.2,850.5 301.7,850.6 302.2,850.7 302.7,850.1 303.2,850.0 303.7,850.5 304.2,850.3 304.7,849.9 305.2,850.5 305.7,850.1 306.2,850.2 306.7,849.9 307.2,850.1 307.7,850.1 308.2,850.1 308.7,849.9 309.2,850.0 309.7,850.2 310.2,850.1 310.7,850.2 311.2,850.2 311.7,850.2 312.2,850.3 312.7,850.2 313.2,850.5 313.7,850.3 314.2,850.0 314.7,850.1 315.2,850.2 315.7,850.0 316.2,850.4 316.7,849.7 317.2,850.2 317.7,850.2 318.2,849.8 318.7,849.8 319.2,850.6 319.7,850.2 320.2,850.2 320.7,849.9 321.2,850.3 321.7,850.0 322.2,850.0 322.7,850.2 323.2,850.3 323.7,850.1 324.2,849.8 324.7,850.1 325.2,849.8 325.7,850.3 326.2,850.0 326.7,849.9 327.2,849.9 327.7,850.0 328.2,850.2 328.7,850.3 329.2,850.2 329.7,849.7 330.2,849.9 330.7,850.2 331.2,849.9 331.7,850.1 332.2,849.8 332.7,849.6 333.2,850.0 333.7,850.1 334.2,850.3 334.7,850.0 335.2,850.1 335.7,850.4 336.2,850.2 336.7,850.0 337.2,849.9 337.7,850.2 338.2,849.9 338.7,850.4 339.2,850.1 339.7,850.2 340.2,850.4 340.7,850.1 341.2,850.2 341.7,849.9 342.2,850.0 342.7,850.0 343.2,850.0 343.7,850.3 344.2,849.9 344.7,850.1 345.2,849.6 345.7,849.4 346.2,848.3 346.7,849.0 347.2,848.4 347.7,848.1 348.2,846.6 348.7,844.4 349.2,842.4 349.7,840.4 350.2,839.9 350.7,833.6 351.2,834.8 351.7,827.0 352.2,820.4 352.7,819.0 353.2,807.0 353.7,802.4 354.2,791.4 354.7,792.7 355.2,782.3 355.7,777.6 356.2,773.2 356.7,763.5 357.2,764.5 357.7,760.6 358.2,762.5 358.7,764.7 359.2,759.2 359.7,770.1 360.2,770.5 360.7,779.0 361.2,786.9 361.7,799.1 362.2,797.2 362.7,808.1 363.2,814.4 363.7,821.8 364.2,827.1 364.7,830.9 365.2,835.1 365.7,840.0 366.2,841.4 366.7,844.9 367.2,847.2 367.7,848.6 368.2,848.3 368.7,848.5 369.2,849.1 369.7,849.7 370.2,850.0 370.7,850.0 371.2,850.0 371.7,850.2 372.2,850.0 372.7,850.3 373.2,850.3 373.7,850.3 374.2,849.8 374.7,850.1 375.2,849.7 375.7,849.9 376.2,850.2 376.7,850.2 377.2,849.9 377.7,850.4 378.2,850.4 378.7,850.0 379.2,850.0 379.7,849.8 380.2,850.1 380.7,850.4 381.2,850.3 381.7,850.3 382.2,850.2 382.7,850.2 383.2,849.9 383.7,850.1 384.2,850.2 384.7,850.0 385.2,850.0 385.7,850.0 386.2,850.2 386.7,850.0 387.2,850.3 387.7,850.1 388.2,850.0 388.7,850.2 389.2,850.2 389.7,850.3 390.2,849.9 390.7,850.2 391.2,850.2 391.7,850.1 392.2,850.4 392.7,850.5 393.2,850.0 393.7,850.4 394.2,850.5 394.7,850.1 395.2,850.0 395.7,850.4 396.2,850.3 396.7,850.3 397.2,850.7 397.7,850.5 398.2,850.2 398.7,850.4 399.2,850.5 399.7,850.5 400.2,850.4 400.7,849.9 401.2,850.3 401.7,850.3 402.2,850.5 402.7,850.4 403.2,850.3 403.7,850.7 404.2,850.5 404.7,850.6 405.2,850.3 405.7,850.4 406.2,849.9 406.7,850.4 407.2,850.4 407.7,850.2 408.2,850.5 408.7,850.7 409.2,850.3 409.7,850.4 410.2,850.4 410.7,850.3 411.2,850.6 411.7,850.4 412.2,850.1 412.7,850.5 413.2,850.3 413.7,850.6"/>
<line x1="321.2" y1="801.5" x2="412.8" y2="801.5" stroke="#000" stroke-width="3.2"/>
<line x1="321.2" y1="794.0" x2="321.2" y2="809.0" stroke="#000" stroke-width="2.8"/>
<line x1="412.8" y1="796.5" x2="412.8" y2="810.0" stroke="#000" stroke-width="2.8"/>
<rect x="74.7" y="884.9" width="32.5" height="7.8" fill="#000"/>
<rect x="331.3" y="885.5" width="32.5" height="6" fill="#d2d2d2"/>
<line x1="72.1" y1="974.2" x2="72.1" y2="1220.6" stroke="#222" stroke-width="1.3"/>
<line x1="68.2" y1="1215.5" x2="461.5" y2="1215.5" stroke="#222" stroke-width="1.3"/>
<line x1="68.2" y1="1215.3" x2="72.1" y2="1215.3" stroke="#222" stroke-width="1.3"/>
<line x1="68.2" y1="1167.2" x2="72.1" y2="1167.2" stroke="#222" stroke-width="1.3"/>
<line x1="68.2" y1="1119.1" x2="72.1" y2="1119.1" stroke="#222" stroke-width="1.3"/>
<line x1="68.2" y1="1071.0" x2="72.1" y2="1071.0" stroke="#222" stroke-width="1.3"/>
<line x1="68.2" y1="1022.9" x2="72.1" y2="1022.9" stroke="#222" stroke-width="1.3"/>
<line x1="68.2" y1="974.8" x2="72.1" y2="974.8" stroke="#222" stroke-width="1.3"/>
<line x1="200.8" y1="974.5" x2="200.8" y2="1215.5" stroke="#222" stroke-width="1.3"/>
<line x1="330.8" y1="974" x2="330.8" y2="1215.5" stroke="#222" stroke-width="1.3"/>
<line x1="461" y1="1212" x2="461" y2="1219" stroke="#222" stroke-width="1.3"/>
<circle cx="115.8" cy="1133.5" r="4.3" fill="#000"/>
<circle cx="115.8" cy="1138" r="4.3" fill="#000"/>
<circle cx="115.8" cy="1142" r="4.3" fill="#000"/>
<circle cx="115.8" cy="1146" r="4.3" fill="#000"/>
<circle cx="115.8" cy="1164" r="4.3" fill="#000"/>
<circle cx="115.8" cy="1188.5" r="4.3" fill="#000"/>
<circle cx="115.8" cy="1191" r="4.3" fill="#000"/>
<line x1="105.4" y1="1156.8" x2="127.6" y2="1156.8" stroke="#000" stroke-width="3.5"/>
<circle cx="157.8" cy="993.8" r="3.7" fill="none" stroke="#000" stroke-width="1.9"/>
<circle cx="157.8" cy="1059.6" r="3.7" fill="none" stroke="#000" stroke-width="1.9"/>
<circle cx="157.8" cy="1065.2" r="3.7" fill="none" stroke="#000" stroke-width="1.9"/>
<circle cx="157.8" cy="1086.6" r="3.7" fill="none" stroke="#000" stroke-width="1.9"/>
<circle cx="157.8" cy="1120.3" r="3.7" fill="none" stroke="#000" stroke-width="1.9"/>
<circle cx="157.8" cy="1130.6" r="3.7" fill="none" stroke="#000" stroke-width="1.9"/>
<circle cx="157.8" cy="1150.8" r="3.7" fill="none" stroke="#000" stroke-width="1.9"/>
<circle cx="157.8" cy="1165.8" r="3.7" fill="none" stroke="#000" stroke-width="1.9"/>
<circle cx="157.8" cy="1170.4" r="3.7" fill="none" stroke="#000" stroke-width="1.9"/>
<circle cx="157.8" cy="1175.6" r="3.7" fill="none" stroke="#000" stroke-width="1.9"/>
<circle cx="157.8" cy="1183.1" r="3.7" fill="none" stroke="#000" stroke-width="1.9"/>
<line x1="148" y1="1123.1" x2="169.8" y2="1123.1" stroke="#000" stroke-width="3.7"/>
<circle cx="244.2" cy="1156.5" r="4.3" fill="#000"/>
<circle cx="244.2" cy="1161.6" r="4.3" fill="#000"/>
<circle cx="244.2" cy="1167.2" r="4.3" fill="#000"/>
<circle cx="244.2" cy="1172.2" r="4.3" fill="#000"/>
<circle cx="244.2" cy="1178" r="4.3" fill="#000"/>
<circle cx="244.2" cy="1183.3" r="4.3" fill="#000"/>
<circle cx="244.2" cy="1188.5" r="4.3" fill="#000"/>
<circle cx="244.2" cy="1193.6" r="4.3" fill="#000"/>
<line x1="233.8" y1="1179" x2="255.8" y2="1179" stroke="#000" stroke-width="3.5"/>
<circle cx="287.6" cy="1202" r="3.7" fill="none" stroke="#000" stroke-width="1.9"/>
<circle cx="287.6" cy="1211.5" r="3.7" fill="none" stroke="#000" stroke-width="1.9"/>
<circle cx="287.6" cy="1213.5" r="3.7" fill="none" stroke="#000" stroke-width="1.9"/>
<line x1="277.6" y1="1210.2" x2="300.1" y2="1210.2" stroke="#000" stroke-width="5"/>
<circle cx="374" cy="1210.5" r="4.3" fill="#000"/>
<circle cx="374" cy="1214.1" r="4.3" fill="#000"/>
<line x1="363.7" y1="1210.8" x2="385.7" y2="1210.8" stroke="#000" stroke-width="3.2"/>
<circle cx="416.5" cy="1062.3" r="3.7" fill="none" stroke="#000" stroke-width="1.9"/>
<circle cx="416.5" cy="1088.1" r="3.7" fill="none" stroke="#000" stroke-width="1.9"/>
<circle cx="416.5" cy="1099.8" r="3.7" fill="none" stroke="#000" stroke-width="1.9"/>
<circle cx="416.5" cy="1118.3" r="3.7" fill="none" stroke="#000" stroke-width="1.9"/>
<circle cx="416.5" cy="1149.4" r="3.7" fill="none" stroke="#000" stroke-width="1.9"/>
<circle cx="416.5" cy="1157.3" r="3.7" fill="none" stroke="#000" stroke-width="1.9"/>
<circle cx="416.5" cy="1165.5" r="3.7" fill="none" stroke="#000" stroke-width="1.9"/>
<circle cx="416.5" cy="1174.6" r="3.7" fill="none" stroke="#000" stroke-width="1.9"/>
<circle cx="416.5" cy="1179.4" r="3.7" fill="none" stroke="#000" stroke-width="1.9"/>
<circle cx="416.5" cy="1192" r="3.7" fill="none" stroke="#000" stroke-width="1.9"/>
<circle cx="416.5" cy="1202.2" r="3.7" fill="none" stroke="#000" stroke-width="1.9"/>
<line x1="405.2" y1="1154.9" x2="427.9" y2="1154.9" stroke="#000" stroke-width="3.7"/>
<circle cx="101.3" cy="1272.5" r="3.7" fill="none" stroke="#000" stroke-width="1.9"/>
<circle cx="348.1" cy="1271.5" r="4.4" fill="#000"/>
<text x="-0.30" y="18.90" font-size="27.1" font-weight="bold" fill="#000" textLength="20.26" lengthAdjust="spacingAndGlyphs">A</text>
<text x="137.56" y="29.80" font-size="20" fill="#000" textLength="35.53" lengthAdjust="spacingAndGlyphs">Ctrl</text>
<text x="242.77" y="29.60" font-size="20" fill="#000" textLength="178.82" lengthAdjust="spacingAndGlyphs">Notch2IC//mb1Cre</text>
<text class="tk" x="421.64" y="19.80" font-size="12.5" fill="#000" textLength="18.14" lengthAdjust="spacingAndGlyphs">+/-</text>
<text transform="translate(58.78 123.60) rotate(-90)" x="-1.78" y="0" font-size="21.97" fill="#000" textLength="51.87" lengthAdjust="spacingAndGlyphs">B220</text>
<text transform="translate(59.80 292.00) rotate(-90)" x="-1.65" y="0" font-size="23.77" fill="#000" textLength="45.95" lengthAdjust="spacingAndGlyphs">BP-1</text>
<text x="230.71" y="192.68" font-size="21.97" fill="#000" textLength="55.70" lengthAdjust="spacingAndGlyphs">CD43</text>
<text x="230.74" y="361.39" font-size="20.85" fill="#000" textLength="54.34" lengthAdjust="spacingAndGlyphs">CD24</text>
<text class="tk" transform="translate(80 153.3) rotate(-90)" font-size="11" text-anchor="middle">10<tspan font-size="9.5" dy="-5">0</tspan></text>
<text class="tk" transform="translate(80 126.8) rotate(-90)" font-size="11" text-anchor="middle">10<tspan font-size="9.5" dy="-5">1</tspan></text>
<text class="tk" transform="translate(80 100.3) rotate(-90)" font-size="11" text-anchor="middle">10<tspan font-size="9.5" dy="-5">2</tspan></text>
<text class="tk" transform="translate(80 73.8) rotate(-90)" font-size="11" text-anchor="middle">10<tspan font-size="9.5" dy="-5">3</tspan></text>
<text class="tk" transform="translate(80 47.3) rotate(-90)" font-size="11" text-anchor="middle">10<tspan font-size="9.5" dy="-5">4</tspan></text>
<text class="tk" x="84.0" y="167.4" font-size="11" text-anchor="middle">10<tspan font-size="9.5" dy="-5">0</tspan></text>
<text class="tk" x="121.2" y="167.4" font-size="11" text-anchor="middle">10<tspan font-size="9.5" dy="-5">1</tspan></text>
<text class="tk" x="158.3" y="167.4" font-size="11" text-anchor="middle">10<tspan font-size="9.5" dy="-5">2</tspan></text>
<text class="tk" x="195.4" y="167.4" font-size="11" text-anchor="middle">10<tspan font-size="9.5" dy="-5">3</tspan></text>
<text class="tk" x="232.6" y="167.4" font-size="11" text-anchor="middle">10<tspan font-size="9.5" dy="-5">4</tspan></text>
<text class="tk" x="86.82" y="78.80" font-size="12.5" fill="#000" textLength="62.33" lengthAdjust="spacingAndGlyphs">19.0±7.0%</text>
<text class="tk" x="173.19" y="79.00" font-size="12.5" fill="#000" textLength="57.06" lengthAdjust="spacingAndGlyphs">9.0±2.7%</text>
<text class="tk" x="85.97" y="117.80" font-size="12.5" fill="#000" textLength="63.19" lengthAdjust="spacingAndGlyphs">34.0±9.3%</text>
<text class="tk" transform="translate(267.2 153.3) rotate(-90)" font-size="11" text-anchor="middle">10<tspan font-size="9.5" dy="-5">0</tspan></text>
<text class="tk" transform="translate(267.2 126.6) rotate(-90)" font-size="11" text-anchor="middle">10<tspan font-size="9.5" dy="-5">1</tspan></text>
<text class="tk" transform="translate(267.2 99.9) rotate(-90)" font-size="11" text-anchor="middle">10<tspan font-size="9.5" dy="-5">2</tspan></text>
<text class="tk" transform="translate(267.2 73.2) rotate(-90)" font-size="11" text-anchor="middle">10<tspan font-size="9.5" dy="-5">3</tspan></text>
<text class="tk" transform="translate(267.2 46.5) rotate(-90)" font-size="11" text-anchor="middle">10<tspan font-size="9.5" dy="-5">4</tspan></text>
<text class="tk" x="271.5" y="167.4" font-size="11" text-anchor="middle">10<tspan font-size="9.5" dy="-5">0</tspan></text>
<text class="tk" x="308.3" y="167.4" font-size="11" text-anchor="middle">10<tspan font-size="9.5" dy="-5">1</tspan></text>
<text class="tk" x="345.1" y="167.4" font-size="11" text-anchor="middle">10<tspan font-size="9.5" dy="-5">2</tspan></text>
<text class="tk" x="381.9" y="167.4" font-size="11" text-anchor="middle">10<tspan font-size="9.5" dy="-5">3</tspan></text>
<text class="tk" x="418.7" y="167.4" font-size="11" text-anchor="middle">10<tspan font-size="9.5" dy="-5">4</tspan></text>
<text class="tk" x="271.26" y="79.20" font-size="12.5" fill="#000" textLength="46.01" lengthAdjust="spacingAndGlyphs">0.1±0%</text>
<text class="tk" x="359.29" y="79.00" font-size="12.5" fill="#000" textLength="56.76" lengthAdjust="spacingAndGlyphs">1.6±0.9%</text>
<text class="tk" x="271.25" y="117.30" font-size="12.5" fill="#000" textLength="57.80" lengthAdjust="spacingAndGlyphs">0.2±0.1%</text>
<text class="tk" transform="translate(80 322.7) rotate(-90)" font-size="11" text-anchor="middle">10<tspan font-size="9.5" dy="-5">0</tspan></text>
<text class="tk" transform="translate(80 295.9) rotate(-90)" font-size="11" text-anchor="middle">10<tspan font-size="9.5" dy="-5">1</tspan></text>
<text class="tk" transform="translate(80 269.1) rotate(-90)" font-size="11" text-anchor="middle">10<tspan font-size="9.5" dy="-5">2</tspan></text>
<text class="tk" transform="translate(80 242.2) rotate(-90)" font-size="11" text-anchor="middle">10<tspan font-size="9.5" dy="-5">3</tspan></text>
<text class="tk" transform="translate(80 215.4) rotate(-90)" font-size="11" text-anchor="middle">10<tspan font-size="9.5" dy="-5">4</tspan></text>
<text class="tk" x="84.0" y="337.3" font-size="11" text-anchor="middle">10<tspan font-size="9.5" dy="-5">0</tspan></text>
<text class="tk" x="121.2" y="337.3" font-size="11" text-anchor="middle">10<tspan font-size="9.5" dy="-5">1</tspan></text>
<text class="tk" x="158.3" y="337.3" font-size="11" text-anchor="middle">10<tspan font-size="9.5" dy="-5">2</tspan></text>
<text class="tk" x="195.4" y="337.3" font-size="11" text-anchor="middle">10<tspan font-size="9.5" dy="-5">3</tspan></text>
<text class="tk" x="232.6" y="337.3" font-size="11" text-anchor="middle">10<tspan font-size="9.5" dy="-5">4</tspan></text>
<text class="tk" x="147.00" y="229.00" font-size="12.8" fill="#000" textLength="34.18" lengthAdjust="spacingAndGlyphs">8±3%</text>
<text class="tk" x="191.99" y="229.00" font-size="12.8" fill="#000" textLength="42.01" lengthAdjust="spacingAndGlyphs">15±6%</text>
<text class="tk" x="84.95" y="274.00" font-size="12.8" fill="#000" textLength="42.65" lengthAdjust="spacingAndGlyphs">31±6%</text>
<text class="tk" x="191.43" y="321.50" font-size="12.8" fill="#000" textLength="41.45" lengthAdjust="spacingAndGlyphs">45±6%</text>
<text class="tk" transform="translate(270.2 322.7) rotate(-90)" font-size="11" text-anchor="middle">10<tspan font-size="9.5" dy="-5">0</tspan></text>
<text class="tk" transform="translate(270.2 296.4) rotate(-90)" font-size="11" text-anchor="middle">10<tspan font-size="9.5" dy="-5">1</tspan></text>
<text class="tk" transform="translate(270.2 270.1) rotate(-90)" font-size="11" text-anchor="middle">10<tspan font-size="9.5" dy="-5">2</tspan></text>
<text class="tk" transform="translate(270.2 243.9) rotate(-90)" font-size="11" text-anchor="middle">10<tspan font-size="9.5" dy="-5">3</tspan></text>
<text class="tk" transform="translate(270.2 217.6) rotate(-90)" font-size="11" text-anchor="middle">10<tspan font-size="9.5" dy="-5">4</tspan></text>
<text class="tk" x="271.5" y="337.3" font-size="11" text-anchor="middle">10<tspan font-size="9.5" dy="-5">0</tspan></text>
<text class="tk" x="308.3" y="337.3" font-size="11" text-anchor="middle">10<tspan font-size="9.5" dy="-5">1</tspan></text>
<text class="tk" x="345.1" y="337.3" font-size="11" text-anchor="middle">10<tspan font-size="9.5" dy="-5">2</tspan></text>
<text class="tk" x="381.9" y="337.3" font-size="11" text-anchor="middle">10<tspan font-size="9.5" dy="-5">3</tspan></text>
<text class="tk" x="418.7" y="337.3" font-size="11" text-anchor="middle">10<tspan font-size="9.5" dy="-5">4</tspan></text>
<text class="tk" x="337.32" y="229.00" font-size="12.8" fill="#000" textLength="34.66" lengthAdjust="spacingAndGlyphs">2±1%</text>
<text class="tk" x="386.16" y="229.00" font-size="12.8" fill="#000" textLength="34.52" lengthAdjust="spacingAndGlyphs">3±1%</text>
<text class="tk" x="275.86" y="276.70" font-size="12.8" fill="#000" textLength="42.24" lengthAdjust="spacingAndGlyphs">53±8%</text>
<text class="tk" x="378.04" y="321.50" font-size="12.8" fill="#000" textLength="43.47" lengthAdjust="spacingAndGlyphs">37±9%</text>
<text x="0.64" y="440.00" font-size="27.83" font-weight="bold" fill="#000" textLength="18.47" lengthAdjust="spacingAndGlyphs">B</text>
<text transform="translate(56.38 696.20) rotate(-90)" x="-0.99" y="0" font-size="21.97" fill="#000" textLength="62.65" lengthAdjust="spacingAndGlyphs">Counts</text>
<text x="126.71" y="449.00" font-size="19.5" fill="#000" textLength="59.40" lengthAdjust="spacingAndGlyphs">Thy1.2</text>
<text class="tk" transform="translate(78.8 559.6) rotate(-90)" font-size="12" text-anchor="middle" textLength="6.21" lengthAdjust="spacingAndGlyphs">0</text>
<text class="tk" transform="translate(78.8 539.2) rotate(-90)" font-size="12" text-anchor="middle" textLength="18.62" lengthAdjust="spacingAndGlyphs">100</text>
<text class="tk" transform="translate(78.8 518.8) rotate(-90)" font-size="12" text-anchor="middle" textLength="18.62" lengthAdjust="spacingAndGlyphs">200</text>
<text class="tk" transform="translate(78.8 498.3) rotate(-90)" font-size="12" text-anchor="middle" textLength="18.62" lengthAdjust="spacingAndGlyphs">300</text>
<text class="tk" transform="translate(78.8 477.9) rotate(-90)" font-size="12" text-anchor="middle" textLength="18.62" lengthAdjust="spacingAndGlyphs">400</text>
<text class="tk" transform="translate(78.8 457.5) rotate(-90)" font-size="12" text-anchor="middle" textLength="18.62" lengthAdjust="spacingAndGlyphs">500</text>
<text class="tk" x="82.7" y="573.4" font-size="11" text-anchor="middle">10<tspan font-size="9.5" dy="-5">0</tspan></text>
<text class="tk" x="119.7" y="573.4" font-size="11" text-anchor="middle">10<tspan font-size="9.5" dy="-5">1</tspan></text>
<text class="tk" x="156.8" y="573.4" font-size="11" text-anchor="middle">10<tspan font-size="9.5" dy="-5">2</tspan></text>
<text class="tk" x="193.8" y="573.4" font-size="11" text-anchor="middle">10<tspan font-size="9.5" dy="-5">3</tspan></text>
<text class="tk" x="230.8" y="573.4" font-size="11" text-anchor="middle">10<tspan font-size="9.5" dy="-5">4</tspan></text>
<text x="183.19" y="518.60" font-size="17.5" fill="#000" textLength="55.97" lengthAdjust="spacingAndGlyphs">98±1%</text>
<text x="318.93" y="448.90" font-size="19.5" fill="#000" textLength="38.96" lengthAdjust="spacingAndGlyphs">CD3</text>
<text class="tk" transform="translate(260.8 559.6) rotate(-90)" font-size="12" text-anchor="middle" textLength="6.21" lengthAdjust="spacingAndGlyphs">0</text>
<text class="tk" transform="translate(260.8 539.4) rotate(-90)" font-size="12" text-anchor="middle" textLength="12.41" lengthAdjust="spacingAndGlyphs">60</text>
<text class="tk" transform="translate(260.8 519.1) rotate(-90)" font-size="12" text-anchor="middle" textLength="18.62" lengthAdjust="spacingAndGlyphs">120</text>
<text class="tk" transform="translate(260.8 498.9) rotate(-90)" font-size="12" text-anchor="middle" textLength="18.62" lengthAdjust="spacingAndGlyphs">180</text>
<text class="tk" transform="translate(260.8 478.6) rotate(-90)" font-size="12" text-anchor="middle" textLength="18.62" lengthAdjust="spacingAndGlyphs">240</text>
<text class="tk" transform="translate(260.8 458.4) rotate(-90)" font-size="12" text-anchor="middle" textLength="18.62" lengthAdjust="spacingAndGlyphs">300</text>
<text class="tk" x="264.7" y="573.4" font-size="11" text-anchor="middle">10<tspan font-size="9.5" dy="-5">0</tspan></text>
<text class="tk" x="301.9" y="573.4" font-size="11" text-anchor="middle">10<tspan font-size="9.5" dy="-5">1</tspan></text>
<text class="tk" x="339.1" y="573.4" font-size="11" text-anchor="middle">10<tspan font-size="9.5" dy="-5">2</tspan></text>
<text class="tk" x="376.3" y="573.4" font-size="11" text-anchor="middle">10<tspan font-size="9.5" dy="-5">3</tspan></text>
<text class="tk" x="413.5" y="573.4" font-size="11" text-anchor="middle">10<tspan font-size="9.5" dy="-5">4</tspan></text>
<text x="131.11" y="598.40" font-size="19.5" fill="#000" textLength="50.72" lengthAdjust="spacingAndGlyphs">CD43</text>
<text class="tk" transform="translate(78.8 709.0) rotate(-90)" font-size="12" text-anchor="middle" textLength="6.21" lengthAdjust="spacingAndGlyphs">0</text>
<text class="tk" transform="translate(78.8 688.4) rotate(-90)" font-size="12" text-anchor="middle" textLength="12.41" lengthAdjust="spacingAndGlyphs">50</text>
<text class="tk" transform="translate(78.8 667.8) rotate(-90)" font-size="12" text-anchor="middle" textLength="18.62" lengthAdjust="spacingAndGlyphs">100</text>
<text class="tk" transform="translate(78.8 647.2) rotate(-90)" font-size="12" text-anchor="middle" textLength="18.62" lengthAdjust="spacingAndGlyphs">150</text>
<text class="tk" transform="translate(78.8 626.6) rotate(-90)" font-size="12" text-anchor="middle" textLength="18.62" lengthAdjust="spacingAndGlyphs">200</text>
<text class="tk" transform="translate(78.8 606.0) rotate(-90)" font-size="12" text-anchor="middle" textLength="18.62" lengthAdjust="spacingAndGlyphs">250</text>
<text class="tk" x="82.7" y="722.8" font-size="11" text-anchor="middle">10<tspan font-size="9.5" dy="-5">0</tspan></text>
<text class="tk" x="120.3" y="722.8" font-size="11" text-anchor="middle">10<tspan font-size="9.5" dy="-5">1</tspan></text>
<text class="tk" x="157.9" y="722.8" font-size="11" text-anchor="middle">10<tspan font-size="9.5" dy="-5">2</tspan></text>
<text class="tk" x="195.6" y="722.8" font-size="11" text-anchor="middle">10<tspan font-size="9.5" dy="-5">3</tspan></text>
<text class="tk" x="233.2" y="722.8" font-size="11" text-anchor="middle">10<tspan font-size="9.5" dy="-5">4</tspan></text>
<text x="183.82" y="665.70" font-size="17.5" fill="#000" textLength="53.81" lengthAdjust="spacingAndGlyphs">98±0%</text>
<text x="318.93" y="598.40" font-size="19.5" fill="#000" textLength="38.96" lengthAdjust="spacingAndGlyphs">CD5</text>
<text class="tk" transform="translate(260.8 709.0) rotate(-90)" font-size="12" text-anchor="middle" textLength="6.21" lengthAdjust="spacingAndGlyphs">0</text>
<text class="tk" transform="translate(260.8 688.5) rotate(-90)" font-size="12" text-anchor="middle" textLength="12.41" lengthAdjust="spacingAndGlyphs">40</text>
<text class="tk" transform="translate(260.8 668.0) rotate(-90)" font-size="12" text-anchor="middle" textLength="12.41" lengthAdjust="spacingAndGlyphs">80</text>
<text class="tk" transform="translate(260.8 647.5) rotate(-90)" font-size="12" text-anchor="middle" textLength="18.62" lengthAdjust="spacingAndGlyphs">120</text>
<text class="tk" transform="translate(260.8 627.0) rotate(-90)" font-size="12" text-anchor="middle" textLength="18.62" lengthAdjust="spacingAndGlyphs">160</text>
<text class="tk" transform="translate(260.8 606.5) rotate(-90)" font-size="12" text-anchor="middle" textLength="18.62" lengthAdjust="spacingAndGlyphs">200</text>
<text class="tk" x="264.7" y="722.8" font-size="11" text-anchor="middle">10<tspan font-size="9.5" dy="-5">0</tspan></text>
<text class="tk" x="301.7" y="722.8" font-size="11" text-anchor="middle">10<tspan font-size="9.5" dy="-5">1</tspan></text>
<text class="tk" x="338.8" y="722.8" font-size="11" text-anchor="middle">10<tspan font-size="9.5" dy="-5">2</tspan></text>
<text class="tk" x="375.8" y="722.8" font-size="11" text-anchor="middle">10<tspan font-size="9.5" dy="-5">3</tspan></text>
<text class="tk" x="412.8" y="722.8" font-size="11" text-anchor="middle">10<tspan font-size="9.5" dy="-5">4</tspan></text>
<text x="365.13" y="665.50" font-size="17.5" fill="#000" textLength="52.89" lengthAdjust="spacingAndGlyphs">91±0%</text>
<text x="136.32" y="743.40" font-size="19.5" fill="#000" textLength="39.39" lengthAdjust="spacingAndGlyphs">CD4</text>
<text class="tk" transform="translate(78.8 850.6) rotate(-90)" font-size="12" text-anchor="middle" textLength="6.21" lengthAdjust="spacingAndGlyphs">0</text>
<text class="tk" transform="translate(78.8 830.0) rotate(-90)" font-size="12" text-anchor="middle" textLength="12.41" lengthAdjust="spacingAndGlyphs">40</text>
<text class="tk" transform="translate(78.8 809.4) rotate(-90)" font-size="12" text-anchor="middle" textLength="12.41" lengthAdjust="spacingAndGlyphs">80</text>
<text class="tk" transform="translate(78.8 788.9) rotate(-90)" font-size="12" text-anchor="middle" textLength="18.62" lengthAdjust="spacingAndGlyphs">120</text>
<text class="tk" transform="translate(78.8 768.3) rotate(-90)" font-size="12" text-anchor="middle" textLength="18.62" lengthAdjust="spacingAndGlyphs">160</text>
<text class="tk" transform="translate(78.8 747.7) rotate(-90)" font-size="12" text-anchor="middle" textLength="18.62" lengthAdjust="spacingAndGlyphs">200</text>
<text class="tk" x="82.7" y="864.4" font-size="11" text-anchor="middle">10<tspan font-size="9.5" dy="-5">0</tspan></text>
<text class="tk" x="120.3" y="864.4" font-size="11" text-anchor="middle">10<tspan font-size="9.5" dy="-5">1</tspan></text>
<text class="tk" x="157.9" y="864.4" font-size="11" text-anchor="middle">10<tspan font-size="9.5" dy="-5">2</tspan></text>
<text class="tk" x="195.6" y="864.4" font-size="11" text-anchor="middle">10<tspan font-size="9.5" dy="-5">3</tspan></text>
<text class="tk" x="233.2" y="864.4" font-size="11" text-anchor="middle">10<tspan font-size="9.5" dy="-5">4</tspan></text>
<text x="182.71" y="799.80" font-size="17.5" fill="#000" textLength="54.84" lengthAdjust="spacingAndGlyphs">95±3%</text>
<text x="318.50" y="744.20" font-size="19.5" fill="#000" textLength="40.01" lengthAdjust="spacingAndGlyphs">CD8</text>
<text class="tk" transform="translate(260.8 850.6) rotate(-90)" font-size="12" text-anchor="middle" textLength="6.21" lengthAdjust="spacingAndGlyphs">0</text>
<text class="tk" transform="translate(260.8 830.2) rotate(-90)" font-size="12" text-anchor="middle" textLength="12.41" lengthAdjust="spacingAndGlyphs">50</text>
<text class="tk" transform="translate(260.8 809.8) rotate(-90)" font-size="12" text-anchor="middle" textLength="18.62" lengthAdjust="spacingAndGlyphs">100</text>
<text class="tk" transform="translate(260.8 789.4) rotate(-90)" font-size="12" text-anchor="middle" textLength="18.62" lengthAdjust="spacingAndGlyphs">150</text>
<text class="tk" transform="translate(260.8 769.0) rotate(-90)" font-size="12" text-anchor="middle" textLength="18.62" lengthAdjust="spacingAndGlyphs">200</text>
<text class="tk" transform="translate(260.8 748.6) rotate(-90)" font-size="12" text-anchor="middle" textLength="18.62" lengthAdjust="spacingAndGlyphs">250</text>
<text class="tk" x="264.7" y="864.4" font-size="11" text-anchor="middle">10<tspan font-size="9.5" dy="-5">0</tspan></text>
<text class="tk" x="302.1" y="864.4" font-size="11" text-anchor="middle">10<tspan font-size="9.5" dy="-5">1</tspan></text>
<text class="tk" x="339.4" y="864.4" font-size="11" text-anchor="middle">10<tspan font-size="9.5" dy="-5">2</tspan></text>
<text class="tk" x="376.8" y="864.4" font-size="11" text-anchor="middle">10<tspan font-size="9.5" dy="-5">3</tspan></text>
<text class="tk" x="414.2" y="864.4" font-size="11" text-anchor="middle">10<tspan font-size="9.5" dy="-5">4</tspan></text>
<text x="364.02" y="799.80" font-size="17.5" fill="#000" textLength="54.02" lengthAdjust="spacingAndGlyphs">96±2%</text>
<text x="121.07" y="893.60" font-size="21" fill="#000" textLength="178.72" lengthAdjust="spacingAndGlyphs">Notch2IC//mb1Cre</text>
<text class="tk" x="299.92" y="883.40" font-size="13" fill="#000" textLength="18.68" lengthAdjust="spacingAndGlyphs">+/-</text>
<text x="370.68" y="894.80" font-size="21" fill="#000" textLength="34.78" lengthAdjust="spacingAndGlyphs">Ctrl</text>
<text x="0.29" y="971.62" font-size="28.31" font-weight="bold" fill="#000" textLength="18.30" lengthAdjust="spacingAndGlyphs">C</text>
<text x="55.10" y="1217.50" font-size="16.5" fill="#000" textLength="10.37" lengthAdjust="spacingAndGlyphs">0</text>
<text x="55.20" y="1169.40" font-size="16.5" fill="#000" textLength="10.37" lengthAdjust="spacingAndGlyphs">5</text>
<text x="44.76" y="1121.30" font-size="16.5" fill="#000" textLength="20.74" lengthAdjust="spacingAndGlyphs">10</text>
<text x="44.85" y="1073.20" font-size="16.5" fill="#000" textLength="20.74" lengthAdjust="spacingAndGlyphs">15</text>
<text x="44.76" y="1025.10" font-size="16.5" fill="#000" textLength="20.74" lengthAdjust="spacingAndGlyphs">20</text>
<text x="44.85" y="977.00" font-size="16.5" fill="#000" textLength="20.74" lengthAdjust="spacingAndGlyphs">25</text>
<text x="81.04" y="1236.90" font-size="19" fill="#000" textLength="113.93" lengthAdjust="spacingAndGlyphs">Lymphocytes</text>
<text transform="translate(31.30 1148.80) rotate(-90)" x="-0.97" y="0" font-size="18.5" fill="#000" textLength="148.45" lengthAdjust="spacingAndGlyphs">Cell number (x10</text>
<text transform="translate(23.20 1001.60) rotate(-90)" x="-0.75" y="0" font-size="14" fill="#000" textLength="8.37" lengthAdjust="spacingAndGlyphs">6</text>
<text transform="translate(31.30 994.30) rotate(-90)" x="-0.07" y="0" font-size="18.5" fill="#000" textLength="4.90" lengthAdjust="spacingAndGlyphs">)</text>
<text x="234.34" y="1236.60" font-size="19" fill="#000" textLength="57.35" lengthAdjust="spacingAndGlyphs">B cells</text>
<text x="367.91" y="1236.60" font-size="19" fill="#000" textLength="55.49" lengthAdjust="spacingAndGlyphs">T cells</text>
<text x="277.71" y="1198.03" font-size="17.14" fill="#000" textLength="22.63" lengthAdjust="spacingAndGlyphs">***</text>
<text x="410.74" y="1053.55" font-size="14.57" fill="#000" textLength="13.59" lengthAdjust="spacingAndGlyphs">**</text>
<text x="113.47" y="1278.40" font-size="21" fill="#000" textLength="178.62" lengthAdjust="spacingAndGlyphs">Notch2IC//mb1Cre</text>
<text class="tk" x="292.01" y="1268.30" font-size="13" fill="#000" textLength="18.79" lengthAdjust="spacingAndGlyphs">+/-</text>
<text x="361.79" y="1279.80" font-size="21" fill="#000" textLength="34.56" lengthAdjust="spacingAndGlyphs">Ctrl</text>
</svg></body></html>
